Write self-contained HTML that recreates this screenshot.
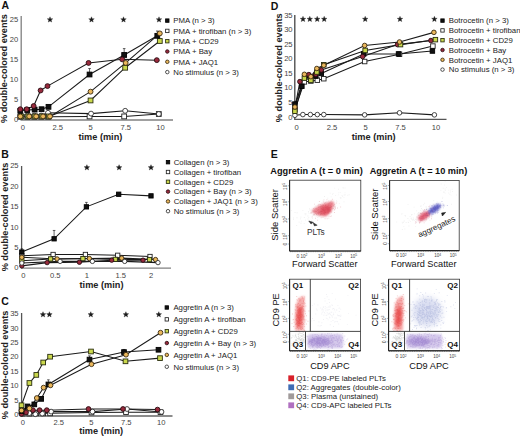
<!DOCTYPE html>
<html><head><meta charset="utf-8"><style>
html,body{margin:0;padding:0;background:#fff;overflow:hidden;}
svg{display:block;}
text{font-family:"Liberation Sans", sans-serif;}
</style></head><body>
<svg width="520" height="437" viewBox="0 0 520 437" font-family='"Liberation Sans", sans-serif'>
<defs>
<filter id="b1" x="-50%" y="-50%" width="200%" height="200%"><feGaussianBlur stdDeviation="1"/></filter>
<filter id="b2" x="-50%" y="-50%" width="200%" height="200%"><feGaussianBlur stdDeviation="2"/></filter>
<filter id="b3" x="-50%" y="-50%" width="200%" height="200%"><feGaussianBlur stdDeviation="3"/></filter>
</defs>
<rect width="520" height="437" fill="#fff"/>
<text x="1.50" y="9.30" font-size="10.5" text-anchor="start" font-weight="bold" fill="#111">A</text>
<line x1="21.20" y1="16.00" x2="21.20" y2="120.00" stroke="#808080" stroke-width="1.3"/>
<line x1="20.50" y1="120.00" x2="173.00" y2="120.00" stroke="#808080" stroke-width="1.3"/>
<text x="18.30" y="121.50" font-size="7.6" text-anchor="end" fill="#444">0</text>
<text x="18.30" y="101.55" font-size="7.6" text-anchor="end" fill="#444">5</text>
<text x="18.30" y="81.60" font-size="7.6" text-anchor="end" fill="#444">10</text>
<text x="18.30" y="61.65" font-size="7.6" text-anchor="end" fill="#444">15</text>
<text x="18.30" y="41.70" font-size="7.6" text-anchor="end" fill="#444">20</text>
<text x="18.30" y="21.75" font-size="7.6" text-anchor="end" fill="#444">25</text>
<text x="22.90" y="130.40" font-size="7.6" text-anchor="middle" fill="#444">0</text>
<text x="57.70" y="130.40" font-size="7.6" text-anchor="middle" fill="#444">2.5</text>
<text x="90.70" y="130.40" font-size="7.6" text-anchor="middle" fill="#444">5</text>
<text x="125.80" y="130.40" font-size="7.6" text-anchor="middle" fill="#444">7.5</text>
<text x="160.40" y="130.40" font-size="7.6" text-anchor="middle" fill="#444">10</text>
<text x="100.40" y="139.80" font-size="9.2" text-anchor="middle" font-weight="bold" fill="#222">time (min)</text>
<text x="7.50" y="68.60" font-size="9.2" text-anchor="middle" font-weight="bold" fill="#222" transform="rotate(-90 7.50 68.60)">% double-colored events</text>
<polyline points="20.30,116.80 27.23,116.80 34.15,116.80 41.08,116.80 48.00,116.80 89.55,116.41 124.17,116.41 158.80,114.01" fill="none" stroke="#1a1a1a" stroke-width="1.05"/>
<polyline points="20.30,115.61 27.23,115.61 34.15,115.61 41.08,115.61 48.00,112.81 91.05,113.61 125.17,110.82 158.80,114.01" fill="none" stroke="#1a1a1a" stroke-width="1.05"/>
<polyline points="21.30,116.41 28.23,116.41 35.15,116.41 42.08,116.41 49.00,116.41 90.55,100.45 125.17,67.73 159.80,40.99" fill="none" stroke="#1a1a1a" stroke-width="1.05"/>
<polyline points="20.30,110.82 27.23,110.02 34.65,109.62 41.58,109.22 48.50,106.83 89.55,74.51 124.17,54.96 157.30,35.81" fill="none" stroke="#1a1a1a" stroke-width="1.05"/>
<polyline points="20.30,109.22 26.73,109.22 33.65,106.03 40.58,90.47 47.50,86.08 88.55,62.94 122.17,59.35 156.80,60.15" fill="none" stroke="#1a1a1a" stroke-width="1.05"/>
<polyline points="20.30,116.41 29.23,116.41 36.15,116.41 43.08,116.41 50.00,116.41 90.55,91.67 125.67,62.94 159.80,33.41" fill="none" stroke="#1a1a1a" stroke-width="1.05"/>
<line x1="89.55" y1="74.51" x2="89.55" y2="68.53" stroke="#222" stroke-width="0.7"/>
<line x1="88.25" y1="68.53" x2="90.85" y2="68.53" stroke="#222" stroke-width="0.7"/>
<line x1="124.17" y1="54.96" x2="124.17" y2="48.58" stroke="#222" stroke-width="0.7"/>
<line x1="122.88" y1="48.58" x2="125.47" y2="48.58" stroke="#222" stroke-width="0.7"/>
<line x1="157.30" y1="35.81" x2="157.30" y2="31.02" stroke="#222" stroke-width="0.7"/>
<line x1="156.00" y1="31.02" x2="158.60" y2="31.02" stroke="#222" stroke-width="0.7"/>
<rect x="17.90" y="114.40" width="4.80" height="4.80" fill="#ffffff" stroke="#222" stroke-width="0.9"/>
<rect x="24.83" y="114.40" width="4.80" height="4.80" fill="#ffffff" stroke="#222" stroke-width="0.9"/>
<rect x="31.75" y="114.40" width="4.80" height="4.80" fill="#ffffff" stroke="#222" stroke-width="0.9"/>
<rect x="38.68" y="114.40" width="4.80" height="4.80" fill="#ffffff" stroke="#222" stroke-width="0.9"/>
<rect x="45.60" y="114.40" width="4.80" height="4.80" fill="#ffffff" stroke="#222" stroke-width="0.9"/>
<rect x="87.15" y="114.01" width="4.80" height="4.80" fill="#ffffff" stroke="#222" stroke-width="0.9"/>
<rect x="121.77" y="114.01" width="4.80" height="4.80" fill="#ffffff" stroke="#222" stroke-width="0.9"/>
<rect x="156.40" y="111.61" width="4.80" height="4.80" fill="#ffffff" stroke="#222" stroke-width="0.9"/>
<circle cx="20.30" cy="115.61" r="2.45" fill="#ffffff" stroke="#333" stroke-width="0.9"/>
<circle cx="27.23" cy="115.61" r="2.45" fill="#ffffff" stroke="#333" stroke-width="0.9"/>
<circle cx="34.15" cy="115.61" r="2.45" fill="#ffffff" stroke="#333" stroke-width="0.9"/>
<circle cx="41.08" cy="115.61" r="2.45" fill="#ffffff" stroke="#333" stroke-width="0.9"/>
<circle cx="48.00" cy="112.81" r="2.45" fill="#ffffff" stroke="#333" stroke-width="0.9"/>
<circle cx="91.05" cy="113.61" r="2.45" fill="#ffffff" stroke="#333" stroke-width="0.9"/>
<circle cx="125.17" cy="110.82" r="2.45" fill="#ffffff" stroke="#333" stroke-width="0.9"/>
<circle cx="158.80" cy="114.01" r="2.45" fill="#ffffff" stroke="#333" stroke-width="0.9"/>
<rect x="18.90" y="114.01" width="4.80" height="4.80" fill="#cad84c" stroke="#2a2e10" stroke-width="0.9"/>
<rect x="25.83" y="114.01" width="4.80" height="4.80" fill="#cad84c" stroke="#2a2e10" stroke-width="0.9"/>
<rect x="32.75" y="114.01" width="4.80" height="4.80" fill="#cad84c" stroke="#2a2e10" stroke-width="0.9"/>
<rect x="39.68" y="114.01" width="4.80" height="4.80" fill="#cad84c" stroke="#2a2e10" stroke-width="0.9"/>
<rect x="46.60" y="114.01" width="4.80" height="4.80" fill="#cad84c" stroke="#2a2e10" stroke-width="0.9"/>
<rect x="88.15" y="98.05" width="4.80" height="4.80" fill="#cad84c" stroke="#2a2e10" stroke-width="0.9"/>
<rect x="122.77" y="65.33" width="4.80" height="4.80" fill="#cad84c" stroke="#2a2e10" stroke-width="0.9"/>
<rect x="157.40" y="38.59" width="4.80" height="4.80" fill="#cad84c" stroke="#2a2e10" stroke-width="0.9"/>
<rect x="17.90" y="108.42" width="4.80" height="4.80" fill="#111111" stroke="#000" stroke-width="0.9"/>
<rect x="24.83" y="107.62" width="4.80" height="4.80" fill="#111111" stroke="#000" stroke-width="0.9"/>
<rect x="32.25" y="107.22" width="4.80" height="4.80" fill="#111111" stroke="#000" stroke-width="0.9"/>
<rect x="39.18" y="106.82" width="4.80" height="4.80" fill="#111111" stroke="#000" stroke-width="0.9"/>
<rect x="46.10" y="104.43" width="4.80" height="4.80" fill="#111111" stroke="#000" stroke-width="0.9"/>
<rect x="87.15" y="72.11" width="4.80" height="4.80" fill="#111111" stroke="#000" stroke-width="0.9"/>
<rect x="121.77" y="52.56" width="4.80" height="4.80" fill="#111111" stroke="#000" stroke-width="0.9"/>
<rect x="154.90" y="33.41" width="4.80" height="4.80" fill="#111111" stroke="#000" stroke-width="0.9"/>
<circle cx="20.30" cy="109.22" r="2.45" fill="#982a3c" stroke="#2a0c12" stroke-width="0.9"/>
<circle cx="26.73" cy="109.22" r="2.45" fill="#982a3c" stroke="#2a0c12" stroke-width="0.9"/>
<circle cx="33.65" cy="106.03" r="2.45" fill="#982a3c" stroke="#2a0c12" stroke-width="0.9"/>
<circle cx="40.58" cy="90.47" r="2.45" fill="#982a3c" stroke="#2a0c12" stroke-width="0.9"/>
<circle cx="47.50" cy="86.08" r="2.45" fill="#982a3c" stroke="#2a0c12" stroke-width="0.9"/>
<circle cx="88.55" cy="62.94" r="2.45" fill="#982a3c" stroke="#2a0c12" stroke-width="0.9"/>
<circle cx="122.17" cy="59.35" r="2.45" fill="#982a3c" stroke="#2a0c12" stroke-width="0.9"/>
<circle cx="156.80" cy="60.15" r="2.45" fill="#982a3c" stroke="#2a0c12" stroke-width="0.9"/>
<circle cx="20.30" cy="116.41" r="2.45" fill="#eab75c" stroke="#3a2a10" stroke-width="0.9"/>
<circle cx="29.23" cy="116.41" r="2.45" fill="#eab75c" stroke="#3a2a10" stroke-width="0.9"/>
<circle cx="36.15" cy="116.41" r="2.45" fill="#eab75c" stroke="#3a2a10" stroke-width="0.9"/>
<circle cx="43.08" cy="116.41" r="2.45" fill="#eab75c" stroke="#3a2a10" stroke-width="0.9"/>
<circle cx="50.00" cy="116.41" r="2.45" fill="#eab75c" stroke="#3a2a10" stroke-width="0.9"/>
<circle cx="90.55" cy="91.67" r="2.45" fill="#eab75c" stroke="#3a2a10" stroke-width="0.9"/>
<circle cx="125.67" cy="62.94" r="2.45" fill="#eab75c" stroke="#3a2a10" stroke-width="0.9"/>
<circle cx="159.80" cy="33.41" r="2.45" fill="#eab75c" stroke="#3a2a10" stroke-width="0.9"/>
<polygon points="50.00,16.80 50.73,18.69 52.76,18.80 51.19,20.09 51.70,22.05 50.00,20.95 48.30,22.05 48.81,20.09 47.24,18.80 49.27,18.69" fill="#1a1a1a" stroke="#1a1a1a" stroke-width="0.35" stroke-linejoin="round"/>
<polygon points="91.50,16.80 92.23,18.69 94.26,18.80 92.69,20.09 93.20,22.05 91.50,20.95 89.80,22.05 90.31,20.09 88.74,18.80 90.77,18.69" fill="#1a1a1a" stroke="#1a1a1a" stroke-width="0.35" stroke-linejoin="round"/>
<polygon points="123.50,16.80 124.23,18.69 126.26,18.80 124.69,20.09 125.20,22.05 123.50,20.95 121.80,22.05 122.31,20.09 120.74,18.80 122.77,18.69" fill="#1a1a1a" stroke="#1a1a1a" stroke-width="0.35" stroke-linejoin="round"/>
<rect x="165.60" y="18.90" width="3.40" height="3.40" fill="#111111" stroke="#000" stroke-width="0.85"/>
<text x="173.30" y="23.40" font-size="7.8" text-anchor="start" fill="#222">PMA (n &gt; 3)</text>
<rect x="165.60" y="29.20" width="3.40" height="3.40" fill="#ffffff" stroke="#222" stroke-width="0.85"/>
<text x="173.30" y="33.70" font-size="7.8" text-anchor="start" fill="#222">PMA + tirofiban (n &gt; 3)</text>
<rect x="165.60" y="39.50" width="3.40" height="3.40" fill="#cad84c" stroke="#2a2e10" stroke-width="0.85"/>
<text x="173.30" y="44.00" font-size="7.8" text-anchor="start" fill="#222">PMA + CD29</text>
<circle cx="167.30" cy="51.50" r="1.75" fill="#982a3c" stroke="#2a0c12" stroke-width="0.85"/>
<text x="173.30" y="54.30" font-size="7.8" text-anchor="start" fill="#222">PMA + Bay</text>
<circle cx="167.30" cy="61.80" r="1.75" fill="#eab75c" stroke="#3a2a10" stroke-width="0.85"/>
<text x="173.30" y="64.60" font-size="7.8" text-anchor="start" fill="#222">PMA + JAQ1</text>
<circle cx="167.30" cy="72.10" r="1.75" fill="#ffffff" stroke="#333" stroke-width="0.85"/>
<text x="173.30" y="74.90" font-size="7.8" text-anchor="start" fill="#222">No stimulus (n &gt; 3)</text>
<polygon points="159.00,16.80 159.73,18.69 161.76,18.80 160.19,20.09 160.70,22.05 159.00,20.95 157.30,22.05 157.81,20.09 156.24,18.80 158.27,18.69" fill="#1a1a1a" stroke="#1a1a1a" stroke-width="0.35" stroke-linejoin="round"/>
<text x="1.20" y="157.60" font-size="10.5" text-anchor="start" font-weight="bold" fill="#111">B</text>
<line x1="21.60" y1="166.00" x2="21.60" y2="268.20" stroke="#555" stroke-width="1.3"/>
<line x1="20.90" y1="268.20" x2="171.00" y2="268.20" stroke="#808080" stroke-width="1.3"/>
<text x="18.60" y="270.20" font-size="7.6" text-anchor="end" fill="#444">0</text>
<text x="18.60" y="249.85" font-size="7.6" text-anchor="end" fill="#444">5</text>
<text x="18.60" y="229.50" font-size="7.6" text-anchor="end" fill="#444">10</text>
<text x="18.60" y="209.15" font-size="7.6" text-anchor="end" fill="#444">15</text>
<text x="18.60" y="188.80" font-size="7.6" text-anchor="end" fill="#444">20</text>
<text x="18.60" y="168.45" font-size="7.6" text-anchor="end" fill="#444">25</text>
<text x="23.30" y="277.90" font-size="7.6" text-anchor="middle" fill="#444">0</text>
<text x="55.20" y="277.90" font-size="7.6" text-anchor="middle" fill="#444">0.5</text>
<text x="86.90" y="277.90" font-size="7.6" text-anchor="middle" fill="#444">1</text>
<text x="120.80" y="277.90" font-size="7.6" text-anchor="middle" fill="#444">1.5</text>
<text x="151.20" y="277.90" font-size="7.6" text-anchor="middle" fill="#444">2</text>
<text x="101.50" y="287.60" font-size="9.2" text-anchor="middle" font-weight="bold" fill="#222">time (min)</text>
<text x="7.60" y="217.00" font-size="9.2" text-anchor="middle" font-weight="bold" fill="#222" transform="rotate(-90 7.60 217.00)">% double-colored events</text>
<polyline points="21.80,255.70 53.10,254.48 85.40,254.48 117.70,255.29 150.00,256.51" fill="none" stroke="#1a1a1a" stroke-width="1.05"/>
<polyline points="21.80,260.78 50.60,258.95 82.90,258.55 115.20,259.36 149.50,259.56" fill="none" stroke="#1a1a1a" stroke-width="1.05"/>
<polyline points="21.80,265.87 47.10,262.62 79.40,262.21 111.70,260.17 143.00,260.17" fill="none" stroke="#1a1a1a" stroke-width="1.05"/>
<polyline points="21.80,257.32 57.10,258.95 89.40,258.55 121.70,258.14 155.50,259.56" fill="none" stroke="#1a1a1a" stroke-width="1.05"/>
<polyline points="21.80,263.02 60.10,261.39 92.40,261.39 124.70,261.39 158.00,262.62" fill="none" stroke="#1a1a1a" stroke-width="1.05"/>
<polyline points="21.80,252.03 54.10,238.81 86.40,206.86 118.70,194.24 151.00,195.87" fill="none" stroke="#1a1a1a" stroke-width="1.05"/>
<line x1="21.80" y1="252.03" x2="21.80" y2="248.78" stroke="#222" stroke-width="0.7"/>
<line x1="20.50" y1="248.78" x2="23.10" y2="248.78" stroke="#222" stroke-width="0.7"/>
<line x1="54.10" y1="238.81" x2="54.10" y2="230.46" stroke="#222" stroke-width="0.7"/>
<line x1="52.80" y1="230.46" x2="55.40" y2="230.46" stroke="#222" stroke-width="0.7"/>
<line x1="86.40" y1="206.86" x2="86.40" y2="202.38" stroke="#222" stroke-width="0.7"/>
<line x1="85.10" y1="202.38" x2="87.70" y2="202.38" stroke="#222" stroke-width="0.7"/>
<rect x="19.65" y="253.55" width="4.30" height="4.30" fill="#ffffff" stroke="#222" stroke-width="0.9"/>
<rect x="50.95" y="252.33" width="4.30" height="4.30" fill="#ffffff" stroke="#222" stroke-width="0.9"/>
<rect x="83.25" y="252.33" width="4.30" height="4.30" fill="#ffffff" stroke="#222" stroke-width="0.9"/>
<rect x="115.55" y="253.14" width="4.30" height="4.30" fill="#ffffff" stroke="#222" stroke-width="0.9"/>
<rect x="147.85" y="254.36" width="4.30" height="4.30" fill="#ffffff" stroke="#222" stroke-width="0.9"/>
<rect x="19.65" y="258.63" width="4.30" height="4.30" fill="#cad84c" stroke="#2a2e10" stroke-width="0.9"/>
<rect x="48.45" y="256.80" width="4.30" height="4.30" fill="#cad84c" stroke="#2a2e10" stroke-width="0.9"/>
<rect x="80.75" y="256.40" width="4.30" height="4.30" fill="#cad84c" stroke="#2a2e10" stroke-width="0.9"/>
<rect x="113.05" y="257.21" width="4.30" height="4.30" fill="#cad84c" stroke="#2a2e10" stroke-width="0.9"/>
<rect x="147.35" y="257.41" width="4.30" height="4.30" fill="#cad84c" stroke="#2a2e10" stroke-width="0.9"/>
<circle cx="21.80" cy="265.87" r="2.20" fill="#982a3c" stroke="#2a0c12" stroke-width="0.9"/>
<circle cx="47.10" cy="262.62" r="2.20" fill="#982a3c" stroke="#2a0c12" stroke-width="0.9"/>
<circle cx="79.40" cy="262.21" r="2.20" fill="#982a3c" stroke="#2a0c12" stroke-width="0.9"/>
<circle cx="111.70" cy="260.17" r="2.20" fill="#982a3c" stroke="#2a0c12" stroke-width="0.9"/>
<circle cx="143.00" cy="260.17" r="2.20" fill="#982a3c" stroke="#2a0c12" stroke-width="0.9"/>
<circle cx="21.80" cy="257.32" r="2.20" fill="#eab75c" stroke="#3a2a10" stroke-width="0.9"/>
<circle cx="57.10" cy="258.95" r="2.20" fill="#eab75c" stroke="#3a2a10" stroke-width="0.9"/>
<circle cx="89.40" cy="258.55" r="2.20" fill="#eab75c" stroke="#3a2a10" stroke-width="0.9"/>
<circle cx="121.70" cy="258.14" r="2.20" fill="#eab75c" stroke="#3a2a10" stroke-width="0.9"/>
<circle cx="155.50" cy="259.56" r="2.20" fill="#eab75c" stroke="#3a2a10" stroke-width="0.9"/>
<circle cx="21.80" cy="263.02" r="2.20" fill="#ffffff" stroke="#333" stroke-width="0.9"/>
<circle cx="60.10" cy="261.39" r="2.20" fill="#ffffff" stroke="#333" stroke-width="0.9"/>
<circle cx="92.40" cy="261.39" r="2.20" fill="#ffffff" stroke="#333" stroke-width="0.9"/>
<circle cx="124.70" cy="261.39" r="2.20" fill="#ffffff" stroke="#333" stroke-width="0.9"/>
<circle cx="158.00" cy="262.62" r="2.20" fill="#ffffff" stroke="#333" stroke-width="0.9"/>
<rect x="19.65" y="249.88" width="4.30" height="4.30" fill="#111111" stroke="#000" stroke-width="0.9"/>
<rect x="51.95" y="236.66" width="4.30" height="4.30" fill="#111111" stroke="#000" stroke-width="0.9"/>
<rect x="84.25" y="204.71" width="4.30" height="4.30" fill="#111111" stroke="#000" stroke-width="0.9"/>
<rect x="116.55" y="192.09" width="4.30" height="4.30" fill="#111111" stroke="#000" stroke-width="0.9"/>
<rect x="148.85" y="193.72" width="4.30" height="4.30" fill="#111111" stroke="#000" stroke-width="0.9"/>
<polygon points="86.90,164.70 87.63,166.59 89.66,166.70 88.09,167.99 88.60,169.95 86.90,168.85 85.20,169.95 85.71,167.99 84.14,166.70 86.17,166.59" fill="#1a1a1a" stroke="#1a1a1a" stroke-width="0.35" stroke-linejoin="round"/>
<polygon points="119.10,164.70 119.83,166.59 121.86,166.70 120.29,167.99 120.80,169.95 119.10,168.85 117.40,169.95 117.91,167.99 116.34,166.70 118.37,166.59" fill="#1a1a1a" stroke="#1a1a1a" stroke-width="0.35" stroke-linejoin="round"/>
<polygon points="151.00,164.70 151.73,166.59 153.76,166.70 152.19,167.99 152.70,169.95 151.00,168.85 149.30,169.95 149.81,167.99 148.24,166.70 150.27,166.59" fill="#1a1a1a" stroke="#1a1a1a" stroke-width="0.35" stroke-linejoin="round"/>
<rect x="166.30" y="160.50" width="3.40" height="3.40" fill="#111111" stroke="#000" stroke-width="0.85"/>
<text x="173.70" y="165.00" font-size="7.8" text-anchor="start" fill="#222">Collagen (n &gt; 3)</text>
<rect x="166.30" y="170.30" width="3.40" height="3.40" fill="#ffffff" stroke="#222" stroke-width="0.85"/>
<text x="173.70" y="174.80" font-size="7.8" text-anchor="start" fill="#222">Collagen + tirofiban</text>
<rect x="166.30" y="180.10" width="3.40" height="3.40" fill="#cad84c" stroke="#2a2e10" stroke-width="0.85"/>
<text x="173.70" y="184.60" font-size="7.8" text-anchor="start" fill="#222">Collagen + CD29</text>
<circle cx="168.00" cy="191.60" r="1.75" fill="#982a3c" stroke="#2a0c12" stroke-width="0.85"/>
<text x="173.70" y="194.40" font-size="7.8" text-anchor="start" fill="#222">Collagen + Bay (n &gt; 3)</text>
<circle cx="168.00" cy="201.40" r="1.75" fill="#eab75c" stroke="#3a2a10" stroke-width="0.85"/>
<text x="173.70" y="204.20" font-size="7.8" text-anchor="start" fill="#222">Collagen + JAQ1 (n &gt; 3)</text>
<circle cx="168.00" cy="211.20" r="1.75" fill="#ffffff" stroke="#333" stroke-width="0.85"/>
<text x="173.70" y="214.00" font-size="7.8" text-anchor="start" fill="#222">No stimulus (n &gt; 3)</text>
<text x="1.20" y="305.00" font-size="10.5" text-anchor="start" font-weight="bold" fill="#111">C</text>
<line x1="21.60" y1="313.00" x2="21.60" y2="416.00" stroke="#555" stroke-width="1.3"/>
<line x1="20.90" y1="416.00" x2="172.50" y2="416.00" stroke="#666" stroke-width="1.3"/>
<text x="18.60" y="417.20" font-size="7.6" text-anchor="end" fill="#444">0</text>
<text x="18.60" y="402.75" font-size="7.6" text-anchor="end" fill="#444">5</text>
<text x="18.60" y="388.30" font-size="7.6" text-anchor="end" fill="#444">10</text>
<text x="18.60" y="373.85" font-size="7.6" text-anchor="end" fill="#444">15</text>
<text x="18.60" y="359.40" font-size="7.6" text-anchor="end" fill="#444">20</text>
<text x="18.60" y="344.95" font-size="7.6" text-anchor="end" fill="#444">25</text>
<text x="18.60" y="330.50" font-size="7.6" text-anchor="end" fill="#444">30</text>
<text x="18.60" y="316.05" font-size="7.6" text-anchor="end" fill="#444">35</text>
<text x="22.90" y="425.40" font-size="7.6" text-anchor="middle" fill="#444">0</text>
<text x="58.70" y="425.40" font-size="7.6" text-anchor="middle" fill="#444">2.5</text>
<text x="91.30" y="425.40" font-size="7.6" text-anchor="middle" fill="#444">5</text>
<text x="126.20" y="425.40" font-size="7.6" text-anchor="middle" fill="#444">7.5</text>
<text x="161.20" y="425.40" font-size="7.6" text-anchor="middle" fill="#444">10</text>
<text x="101.20" y="434.00" font-size="9.2" text-anchor="middle" font-weight="bold" fill="#222">time (min)</text>
<text x="8.00" y="364.90" font-size="9.2" text-anchor="middle" font-weight="bold" fill="#222" transform="rotate(-90 8.00 364.90)">% double-colored events</text>
<polyline points="22.50,413.63 29.40,413.63 36.30,413.34 43.20,413.34 50.10,413.34 91.50,412.48 126.00,412.19 160.50,412.19" fill="none" stroke="#1a1a1a" stroke-width="1.05"/>
<polyline points="21.50,413.06 29.40,413.06 35.30,414.21 42.20,413.63 51.10,411.61 92.50,411.61 127.00,409.01 161.50,411.90" fill="none" stroke="#1a1a1a" stroke-width="1.05"/>
<polyline points="21.50,413.92 26.00,412.48 32.90,410.17 39.60,410.17 46.80,410.17 88.50,409.01 123.00,409.01 157.50,409.59" fill="none" stroke="#1a1a1a" stroke-width="1.05"/>
<polyline points="21.50,411.03 27.60,406.41 34.30,404.38 41.20,398.89 48.40,384.44 89.50,359.59 124.00,352.08 158.50,349.76" fill="none" stroke="#1a1a1a" stroke-width="1.05"/>
<polyline points="21.50,410.45 29.40,408.43 36.80,398.03 43.60,387.62 50.50,385.31 91.50,364.21 126.00,354.68 160.50,332.71" fill="none" stroke="#1a1a1a" stroke-width="1.05"/>
<polyline points="21.50,405.25 29.40,383.00 36.30,374.91 43.20,362.48 50.10,356.70 91.00,351.50 125.50,361.32 160.00,358.14" fill="none" stroke="#1a1a1a" stroke-width="1.05"/>
<line x1="48.40" y1="384.44" x2="48.40" y2="379.82" stroke="#222" stroke-width="0.7"/>
<line x1="47.10" y1="379.82" x2="49.70" y2="379.82" stroke="#222" stroke-width="0.7"/>
<line x1="89.50" y1="359.59" x2="89.50" y2="355.83" stroke="#222" stroke-width="0.7"/>
<line x1="88.20" y1="355.83" x2="90.80" y2="355.83" stroke="#222" stroke-width="0.7"/>
<line x1="124.00" y1="352.08" x2="124.00" y2="349.48" stroke="#222" stroke-width="0.7"/>
<line x1="122.70" y1="349.48" x2="125.30" y2="349.48" stroke="#222" stroke-width="0.7"/>
<rect x="20.15" y="411.28" width="4.70" height="4.70" fill="#ffffff" stroke="#222" stroke-width="0.9"/>
<rect x="27.05" y="411.28" width="4.70" height="4.70" fill="#ffffff" stroke="#222" stroke-width="0.9"/>
<rect x="33.95" y="410.99" width="4.70" height="4.70" fill="#ffffff" stroke="#222" stroke-width="0.9"/>
<rect x="40.85" y="410.99" width="4.70" height="4.70" fill="#ffffff" stroke="#222" stroke-width="0.9"/>
<rect x="47.75" y="410.99" width="4.70" height="4.70" fill="#ffffff" stroke="#222" stroke-width="0.9"/>
<rect x="89.15" y="410.13" width="4.70" height="4.70" fill="#ffffff" stroke="#222" stroke-width="0.9"/>
<rect x="123.65" y="409.84" width="4.70" height="4.70" fill="#ffffff" stroke="#222" stroke-width="0.9"/>
<rect x="158.15" y="409.84" width="4.70" height="4.70" fill="#ffffff" stroke="#222" stroke-width="0.9"/>
<circle cx="21.50" cy="413.06" r="2.40" fill="#ffffff" stroke="#333" stroke-width="0.9"/>
<circle cx="29.40" cy="413.06" r="2.40" fill="#ffffff" stroke="#333" stroke-width="0.9"/>
<circle cx="35.30" cy="414.21" r="2.40" fill="#ffffff" stroke="#333" stroke-width="0.9"/>
<circle cx="42.20" cy="413.63" r="2.40" fill="#ffffff" stroke="#333" stroke-width="0.9"/>
<circle cx="51.10" cy="411.61" r="2.40" fill="#ffffff" stroke="#333" stroke-width="0.9"/>
<circle cx="92.50" cy="411.61" r="2.40" fill="#ffffff" stroke="#333" stroke-width="0.9"/>
<circle cx="127.00" cy="409.01" r="2.40" fill="#ffffff" stroke="#333" stroke-width="0.9"/>
<circle cx="161.50" cy="411.90" r="2.40" fill="#ffffff" stroke="#333" stroke-width="0.9"/>
<circle cx="21.50" cy="413.92" r="2.40" fill="#982a3c" stroke="#2a0c12" stroke-width="0.9"/>
<circle cx="26.00" cy="412.48" r="2.40" fill="#982a3c" stroke="#2a0c12" stroke-width="0.9"/>
<circle cx="32.90" cy="410.17" r="2.40" fill="#982a3c" stroke="#2a0c12" stroke-width="0.9"/>
<circle cx="39.60" cy="410.17" r="2.40" fill="#982a3c" stroke="#2a0c12" stroke-width="0.9"/>
<circle cx="46.80" cy="410.17" r="2.40" fill="#982a3c" stroke="#2a0c12" stroke-width="0.9"/>
<circle cx="88.50" cy="409.01" r="2.40" fill="#982a3c" stroke="#2a0c12" stroke-width="0.9"/>
<circle cx="123.00" cy="409.01" r="2.40" fill="#982a3c" stroke="#2a0c12" stroke-width="0.9"/>
<circle cx="157.50" cy="409.59" r="2.40" fill="#982a3c" stroke="#2a0c12" stroke-width="0.9"/>
<rect x="19.15" y="408.68" width="4.70" height="4.70" fill="#111111" stroke="#000" stroke-width="0.9"/>
<rect x="25.25" y="404.06" width="4.70" height="4.70" fill="#111111" stroke="#000" stroke-width="0.9"/>
<rect x="31.95" y="402.03" width="4.70" height="4.70" fill="#111111" stroke="#000" stroke-width="0.9"/>
<rect x="38.85" y="396.54" width="4.70" height="4.70" fill="#111111" stroke="#000" stroke-width="0.9"/>
<rect x="46.05" y="382.09" width="4.70" height="4.70" fill="#111111" stroke="#000" stroke-width="0.9"/>
<rect x="87.15" y="357.24" width="4.70" height="4.70" fill="#111111" stroke="#000" stroke-width="0.9"/>
<rect x="121.65" y="349.73" width="4.70" height="4.70" fill="#111111" stroke="#000" stroke-width="0.9"/>
<rect x="156.15" y="347.41" width="4.70" height="4.70" fill="#111111" stroke="#000" stroke-width="0.9"/>
<circle cx="21.50" cy="410.45" r="2.40" fill="#eab75c" stroke="#3a2a10" stroke-width="0.9"/>
<circle cx="29.40" cy="408.43" r="2.40" fill="#eab75c" stroke="#3a2a10" stroke-width="0.9"/>
<circle cx="36.80" cy="398.03" r="2.40" fill="#eab75c" stroke="#3a2a10" stroke-width="0.9"/>
<circle cx="43.60" cy="387.62" r="2.40" fill="#eab75c" stroke="#3a2a10" stroke-width="0.9"/>
<circle cx="50.50" cy="385.31" r="2.40" fill="#eab75c" stroke="#3a2a10" stroke-width="0.9"/>
<circle cx="91.50" cy="364.21" r="2.40" fill="#eab75c" stroke="#3a2a10" stroke-width="0.9"/>
<circle cx="126.00" cy="354.68" r="2.40" fill="#eab75c" stroke="#3a2a10" stroke-width="0.9"/>
<circle cx="160.50" cy="332.71" r="2.40" fill="#eab75c" stroke="#3a2a10" stroke-width="0.9"/>
<rect x="19.15" y="402.90" width="4.70" height="4.70" fill="#cad84c" stroke="#2a2e10" stroke-width="0.9"/>
<rect x="27.05" y="380.65" width="4.70" height="4.70" fill="#cad84c" stroke="#2a2e10" stroke-width="0.9"/>
<rect x="33.95" y="372.56" width="4.70" height="4.70" fill="#cad84c" stroke="#2a2e10" stroke-width="0.9"/>
<rect x="40.85" y="360.13" width="4.70" height="4.70" fill="#cad84c" stroke="#2a2e10" stroke-width="0.9"/>
<rect x="47.75" y="354.35" width="4.70" height="4.70" fill="#cad84c" stroke="#2a2e10" stroke-width="0.9"/>
<rect x="88.65" y="349.15" width="4.70" height="4.70" fill="#cad84c" stroke="#2a2e10" stroke-width="0.9"/>
<rect x="123.15" y="358.97" width="4.70" height="4.70" fill="#cad84c" stroke="#2a2e10" stroke-width="0.9"/>
<rect x="157.65" y="355.79" width="4.70" height="4.70" fill="#cad84c" stroke="#2a2e10" stroke-width="0.9"/>
<polygon points="43.00,311.70 43.73,313.59 45.76,313.70 44.19,314.99 44.70,316.95 43.00,315.85 41.30,316.95 41.81,314.99 40.24,313.70 42.27,313.59" fill="#1a1a1a" stroke="#1a1a1a" stroke-width="0.35" stroke-linejoin="round"/>
<polygon points="49.40,311.70 50.13,313.59 52.16,313.70 50.59,314.99 51.10,316.95 49.40,315.85 47.70,316.95 48.21,314.99 46.64,313.70 48.67,313.59" fill="#1a1a1a" stroke="#1a1a1a" stroke-width="0.35" stroke-linejoin="round"/>
<polygon points="90.80,311.70 91.53,313.59 93.56,313.70 91.99,314.99 92.50,316.95 90.80,315.85 89.10,316.95 89.61,314.99 88.04,313.70 90.07,313.59" fill="#1a1a1a" stroke="#1a1a1a" stroke-width="0.35" stroke-linejoin="round"/>
<polygon points="125.90,311.70 126.63,313.59 128.66,313.70 127.09,314.99 127.60,316.95 125.90,315.85 124.20,316.95 124.71,314.99 123.14,313.70 125.17,313.59" fill="#1a1a1a" stroke="#1a1a1a" stroke-width="0.35" stroke-linejoin="round"/>
<rect x="165.10" y="305.80" width="3.40" height="3.40" fill="#111111" stroke="#000" stroke-width="0.85"/>
<text x="173.40" y="310.30" font-size="7.8" text-anchor="start" fill="#222">Aggretin A (n &gt; 3)</text>
<rect x="165.10" y="317.65" width="3.40" height="3.40" fill="#ffffff" stroke="#222" stroke-width="0.85"/>
<text x="173.40" y="322.15" font-size="7.8" text-anchor="start" fill="#222">Aggretin A + tirofiban</text>
<rect x="165.10" y="329.50" width="3.40" height="3.40" fill="#cad84c" stroke="#2a2e10" stroke-width="0.85"/>
<text x="173.40" y="334.00" font-size="7.8" text-anchor="start" fill="#222">Aggretin A + CD29</text>
<circle cx="166.80" cy="343.05" r="1.75" fill="#982a3c" stroke="#2a0c12" stroke-width="0.85"/>
<text x="173.40" y="345.85" font-size="7.8" text-anchor="start" fill="#222">Aggretin A + Bay (n &gt; 3)</text>
<circle cx="166.80" cy="354.90" r="1.75" fill="#eab75c" stroke="#3a2a10" stroke-width="0.85"/>
<text x="173.40" y="357.70" font-size="7.8" text-anchor="start" fill="#222">Aggretin A + JAQ1</text>
<circle cx="166.80" cy="366.75" r="1.75" fill="#ffffff" stroke="#333" stroke-width="0.85"/>
<text x="173.40" y="369.55" font-size="7.8" text-anchor="start" fill="#222">No stimulus (n &gt; 3)</text>
<polygon points="158.80,311.70 159.53,313.59 161.56,313.70 159.99,314.99 160.50,316.95 158.80,315.85 157.10,316.95 157.61,314.99 156.04,313.70 158.07,313.59" fill="#1a1a1a" stroke="#1a1a1a" stroke-width="0.35" stroke-linejoin="round"/>
<text x="270.80" y="10.00" font-size="10.5" text-anchor="start" font-weight="bold" fill="#111">D</text>
<line x1="294.80" y1="15.00" x2="294.80" y2="119.30" stroke="#444" stroke-width="1.3"/>
<line x1="294.10" y1="119.30" x2="446.50" y2="119.30" stroke="#555" stroke-width="1.3"/>
<text x="292.60" y="119.60" font-size="7.6" text-anchor="end" fill="#444">0</text>
<text x="292.60" y="105.03" font-size="7.6" text-anchor="end" fill="#444">5</text>
<text x="292.60" y="90.45" font-size="7.6" text-anchor="end" fill="#444">10</text>
<text x="292.60" y="75.88" font-size="7.6" text-anchor="end" fill="#444">15</text>
<text x="292.60" y="61.30" font-size="7.6" text-anchor="end" fill="#444">20</text>
<text x="292.60" y="46.73" font-size="7.6" text-anchor="end" fill="#444">25</text>
<text x="292.60" y="32.15" font-size="7.6" text-anchor="end" fill="#444">30</text>
<text x="292.60" y="17.57" font-size="7.6" text-anchor="end" fill="#444">35</text>
<text x="296.70" y="129.50" font-size="7.6" text-anchor="middle" fill="#444">0</text>
<text x="332.00" y="129.50" font-size="7.6" text-anchor="middle" fill="#444">2.5</text>
<text x="365.50" y="129.50" font-size="7.6" text-anchor="middle" fill="#444">5</text>
<text x="400.50" y="129.50" font-size="7.6" text-anchor="middle" fill="#444">7.5</text>
<text x="436.00" y="129.50" font-size="7.6" text-anchor="middle" fill="#444">10</text>
<text x="373.70" y="139.60" font-size="9.2" text-anchor="middle" font-weight="bold" fill="#222">time (min)</text>
<text x="282.20" y="67.80" font-size="9.2" text-anchor="middle" font-weight="bold" fill="#222" transform="rotate(-90 282.20 67.80)">% double-colored events</text>
<polyline points="294.90,115.30 302.88,114.57 310.35,114.57 317.32,114.57 323.80,114.57 364.65,114.86 399.52,112.82 434.40,114.86" fill="none" stroke="#1a1a1a" stroke-width="1.05"/>
<polyline points="294.90,109.61 304.38,81.92 310.85,81.05 317.32,80.17 323.80,78.71 364.65,61.52 399.52,54.23 432.90,46.07" fill="none" stroke="#1a1a1a" stroke-width="1.05"/>
<polyline points="294.90,104.07 301.88,86.29 308.35,75.80 315.82,76.09 321.30,73.47 363.65,53.94 398.52,53.94 432.40,51.02" fill="none" stroke="#1a1a1a" stroke-width="1.05"/>
<polyline points="294.90,108.16 299.88,81.63 308.85,74.63 315.82,74.34 321.30,69.97 362.65,56.56 397.52,44.61 430.90,40.53" fill="none" stroke="#1a1a1a" stroke-width="1.05"/>
<polyline points="294.90,111.22 304.38,78.13 310.85,80.17 316.82,72.01 323.80,64.72 365.15,50.44 400.52,44.61 435.40,39.65" fill="none" stroke="#1a1a1a" stroke-width="1.05"/>
<polyline points="294.90,106.99 304.38,74.34 310.85,76.67 316.82,68.51 323.80,65.30 364.65,45.48 399.52,41.98 433.90,32.37" fill="none" stroke="#1a1a1a" stroke-width="1.05"/>
<circle cx="294.90" cy="115.30" r="2.30" fill="#ffffff" stroke="#333" stroke-width="0.9"/>
<circle cx="302.88" cy="114.57" r="2.30" fill="#ffffff" stroke="#333" stroke-width="0.9"/>
<circle cx="310.35" cy="114.57" r="2.30" fill="#ffffff" stroke="#333" stroke-width="0.9"/>
<circle cx="317.32" cy="114.57" r="2.30" fill="#ffffff" stroke="#333" stroke-width="0.9"/>
<circle cx="323.80" cy="114.57" r="2.30" fill="#ffffff" stroke="#333" stroke-width="0.9"/>
<circle cx="364.65" cy="114.86" r="2.30" fill="#ffffff" stroke="#333" stroke-width="0.9"/>
<circle cx="399.52" cy="112.82" r="2.30" fill="#ffffff" stroke="#333" stroke-width="0.9"/>
<circle cx="434.40" cy="114.86" r="2.30" fill="#ffffff" stroke="#333" stroke-width="0.9"/>
<rect x="292.65" y="107.36" width="4.50" height="4.50" fill="#ffffff" stroke="#222" stroke-width="0.9"/>
<rect x="302.12" y="79.67" width="4.50" height="4.50" fill="#ffffff" stroke="#222" stroke-width="0.9"/>
<rect x="308.60" y="78.80" width="4.50" height="4.50" fill="#ffffff" stroke="#222" stroke-width="0.9"/>
<rect x="315.07" y="77.92" width="4.50" height="4.50" fill="#ffffff" stroke="#222" stroke-width="0.9"/>
<rect x="321.55" y="76.46" width="4.50" height="4.50" fill="#ffffff" stroke="#222" stroke-width="0.9"/>
<rect x="362.40" y="59.27" width="4.50" height="4.50" fill="#ffffff" stroke="#222" stroke-width="0.9"/>
<rect x="397.27" y="51.98" width="4.50" height="4.50" fill="#ffffff" stroke="#222" stroke-width="0.9"/>
<rect x="430.65" y="43.82" width="4.50" height="4.50" fill="#ffffff" stroke="#222" stroke-width="0.9"/>
<rect x="292.65" y="101.82" width="4.50" height="4.50" fill="#111111" stroke="#000" stroke-width="0.9"/>
<rect x="299.62" y="84.04" width="4.50" height="4.50" fill="#111111" stroke="#000" stroke-width="0.9"/>
<rect x="306.10" y="73.55" width="4.50" height="4.50" fill="#111111" stroke="#000" stroke-width="0.9"/>
<rect x="313.57" y="73.84" width="4.50" height="4.50" fill="#111111" stroke="#000" stroke-width="0.9"/>
<rect x="319.05" y="71.22" width="4.50" height="4.50" fill="#111111" stroke="#000" stroke-width="0.9"/>
<rect x="361.40" y="51.69" width="4.50" height="4.50" fill="#111111" stroke="#000" stroke-width="0.9"/>
<rect x="396.27" y="51.69" width="4.50" height="4.50" fill="#111111" stroke="#000" stroke-width="0.9"/>
<rect x="430.15" y="48.77" width="4.50" height="4.50" fill="#111111" stroke="#000" stroke-width="0.9"/>
<circle cx="294.90" cy="108.16" r="2.30" fill="#982a3c" stroke="#2a0c12" stroke-width="0.9"/>
<circle cx="299.88" cy="81.63" r="2.30" fill="#982a3c" stroke="#2a0c12" stroke-width="0.9"/>
<circle cx="308.85" cy="74.63" r="2.30" fill="#982a3c" stroke="#2a0c12" stroke-width="0.9"/>
<circle cx="315.82" cy="74.34" r="2.30" fill="#982a3c" stroke="#2a0c12" stroke-width="0.9"/>
<circle cx="321.30" cy="69.97" r="2.30" fill="#982a3c" stroke="#2a0c12" stroke-width="0.9"/>
<circle cx="362.65" cy="56.56" r="2.30" fill="#982a3c" stroke="#2a0c12" stroke-width="0.9"/>
<circle cx="397.52" cy="44.61" r="2.30" fill="#982a3c" stroke="#2a0c12" stroke-width="0.9"/>
<circle cx="430.90" cy="40.53" r="2.30" fill="#982a3c" stroke="#2a0c12" stroke-width="0.9"/>
<rect x="292.65" y="108.97" width="4.50" height="4.50" fill="#cad84c" stroke="#2a2e10" stroke-width="0.9"/>
<rect x="302.12" y="75.88" width="4.50" height="4.50" fill="#cad84c" stroke="#2a2e10" stroke-width="0.9"/>
<rect x="308.60" y="77.92" width="4.50" height="4.50" fill="#cad84c" stroke="#2a2e10" stroke-width="0.9"/>
<rect x="314.57" y="69.76" width="4.50" height="4.50" fill="#cad84c" stroke="#2a2e10" stroke-width="0.9"/>
<rect x="321.55" y="62.47" width="4.50" height="4.50" fill="#cad84c" stroke="#2a2e10" stroke-width="0.9"/>
<rect x="362.90" y="48.19" width="4.50" height="4.50" fill="#cad84c" stroke="#2a2e10" stroke-width="0.9"/>
<rect x="398.27" y="42.36" width="4.50" height="4.50" fill="#cad84c" stroke="#2a2e10" stroke-width="0.9"/>
<rect x="433.15" y="37.40" width="4.50" height="4.50" fill="#cad84c" stroke="#2a2e10" stroke-width="0.9"/>
<circle cx="294.90" cy="106.99" r="2.30" fill="#eab75c" stroke="#3a2a10" stroke-width="0.9"/>
<circle cx="304.38" cy="74.34" r="2.30" fill="#eab75c" stroke="#3a2a10" stroke-width="0.9"/>
<circle cx="310.85" cy="76.67" r="2.30" fill="#eab75c" stroke="#3a2a10" stroke-width="0.9"/>
<circle cx="316.82" cy="68.51" r="2.30" fill="#eab75c" stroke="#3a2a10" stroke-width="0.9"/>
<circle cx="323.80" cy="65.30" r="2.30" fill="#eab75c" stroke="#3a2a10" stroke-width="0.9"/>
<circle cx="364.65" cy="45.48" r="2.30" fill="#eab75c" stroke="#3a2a10" stroke-width="0.9"/>
<circle cx="399.52" cy="41.98" r="2.30" fill="#eab75c" stroke="#3a2a10" stroke-width="0.9"/>
<circle cx="433.90" cy="32.37" r="2.30" fill="#eab75c" stroke="#3a2a10" stroke-width="0.9"/>
<polygon points="303.00,16.30 303.73,18.19 305.76,18.30 304.19,19.59 304.70,21.55 303.00,20.45 301.30,21.55 301.81,19.59 300.24,18.30 302.27,18.19" fill="#1a1a1a" stroke="#1a1a1a" stroke-width="0.35" stroke-linejoin="round"/>
<polygon points="309.80,16.30 310.53,18.19 312.56,18.30 310.99,19.59 311.50,21.55 309.80,20.45 308.10,21.55 308.61,19.59 307.04,18.30 309.07,18.19" fill="#1a1a1a" stroke="#1a1a1a" stroke-width="0.35" stroke-linejoin="round"/>
<polygon points="317.20,16.30 317.93,18.19 319.96,18.30 318.39,19.59 318.90,21.55 317.20,20.45 315.50,21.55 316.01,19.59 314.44,18.30 316.47,18.19" fill="#1a1a1a" stroke="#1a1a1a" stroke-width="0.35" stroke-linejoin="round"/>
<polygon points="324.20,16.30 324.93,18.19 326.96,18.30 325.39,19.59 325.90,21.55 324.20,20.45 322.50,21.55 323.01,19.59 321.44,18.30 323.47,18.19" fill="#1a1a1a" stroke="#1a1a1a" stroke-width="0.35" stroke-linejoin="round"/>
<polygon points="365.20,16.30 365.93,18.19 367.96,18.30 366.39,19.59 366.90,21.55 365.20,20.45 363.50,21.55 364.01,19.59 362.44,18.30 364.47,18.19" fill="#1a1a1a" stroke="#1a1a1a" stroke-width="0.35" stroke-linejoin="round"/>
<polygon points="400.00,16.30 400.73,18.19 402.76,18.30 401.19,19.59 401.70,21.55 400.00,20.45 398.30,21.55 398.81,19.59 397.24,18.30 399.27,18.19" fill="#1a1a1a" stroke="#1a1a1a" stroke-width="0.35" stroke-linejoin="round"/>
<rect x="440.80" y="18.90" width="3.40" height="3.40" fill="#111111" stroke="#000" stroke-width="0.85"/>
<text x="448.80" y="23.40" font-size="7.8" text-anchor="start" fill="#222">Botrocetin (n &gt; 3)</text>
<rect x="440.80" y="28.70" width="3.40" height="3.40" fill="#ffffff" stroke="#222" stroke-width="0.85"/>
<text x="448.80" y="33.20" font-size="7.8" text-anchor="start" fill="#222">Botrocetin + tirofiban</text>
<rect x="440.80" y="38.50" width="3.40" height="3.40" fill="#cad84c" stroke="#2a2e10" stroke-width="0.85"/>
<text x="448.80" y="43.00" font-size="7.8" text-anchor="start" fill="#222">Botrocetin + CD29</text>
<circle cx="442.50" cy="50.00" r="1.75" fill="#982a3c" stroke="#2a0c12" stroke-width="0.85"/>
<text x="448.80" y="52.80" font-size="7.8" text-anchor="start" fill="#222">Botrocetin + Bay</text>
<circle cx="442.50" cy="59.80" r="1.75" fill="#eab75c" stroke="#3a2a10" stroke-width="0.85"/>
<text x="448.80" y="62.60" font-size="7.8" text-anchor="start" fill="#222">Botrocetin + JAQ1</text>
<circle cx="442.50" cy="69.60" r="1.75" fill="#ffffff" stroke="#333" stroke-width="0.85"/>
<text x="448.80" y="72.40" font-size="7.8" text-anchor="start" fill="#222">No stimulus (n &gt; 3)</text>
<polygon points="434.40,16.30 435.13,18.19 437.16,18.30 435.59,19.59 436.10,21.55 434.40,20.45 432.70,21.55 433.21,19.59 431.64,18.30 433.67,18.19" fill="#1a1a1a" stroke="#1a1a1a" stroke-width="0.35" stroke-linejoin="round"/>
<text x="270.80" y="157.90" font-size="10.5" text-anchor="start" font-weight="bold" fill="#111">E</text>
<text x="270.30" y="173.90" font-size="9.2" text-anchor="start" font-weight="bold" fill="#111">Aggretin A (t = 0 min)</text>
<text x="369.70" y="173.90" font-size="9.2" text-anchor="start" font-weight="bold" fill="#111">Aggretin A (t = 10 min)</text>
<path d="M313.9 214.0h.9v.9h-.9zM313.0 210.8h.9v.9h-.9zM305.3 214.4h.9v.9h-.9zM329.0 207.6h.9v.9h-.9zM327.9 207.3h.9v.9h-.9zM320.7 209.9h.9v.9h-.9zM298.7 221.7h.9v.9h-.9zM322.4 210.6h.9v.9h-.9zM294.6 212.1h.9v.9h-.9zM305.4 213.3h.9v.9h-.9zM319.3 209.5h.9v.9h-.9zM320.8 206.3h.9v.9h-.9zM320.0 211.1h.9v.9h-.9zM311.2 220.3h.9v.9h-.9zM324.0 212.9h.9v.9h-.9zM308.0 211.0h.9v.9h-.9zM312.0 212.2h.9v.9h-.9zM323.4 209.1h.9v.9h-.9zM309.6 209.5h.9v.9h-.9zM312.0 217.9h.9v.9h-.9zM307.4 215.5h.9v.9h-.9zM318.5 203.6h.9v.9h-.9zM318.5 215.6h.9v.9h-.9zM293.1 218.9h.9v.9h-.9zM313.6 208.4h.9v.9h-.9zM321.4 208.5h.9v.9h-.9zM300.9 220.7h.9v.9h-.9zM324.9 211.5h.9v.9h-.9zM332.6 205.9h.9v.9h-.9zM315.4 205.6h.9v.9h-.9zM321.9 206.0h.9v.9h-.9zM309.1 208.3h.9v.9h-.9zM304.4 213.4h.9v.9h-.9zM327.3 197.7h.9v.9h-.9zM300.1 218.4h.9v.9h-.9zM332.9 206.7h.9v.9h-.9zM291.1 210.2h.9v.9h-.9zM318.9 206.7h.9v.9h-.9zM305.0 219.7h.9v.9h-.9zM328.5 206.6h.9v.9h-.9zM319.4 211.5h.9v.9h-.9zM334.7 206.1h.9v.9h-.9zM322.6 210.7h.9v.9h-.9zM300.5 222.8h.9v.9h-.9zM327.4 208.7h.9v.9h-.9zM293.1 217.5h.9v.9h-.9zM322.7 200.5h.9v.9h-.9zM315.5 215.6h.9v.9h-.9zM303.8 222.9h.9v.9h-.9zM321.9 208.0h.9v.9h-.9zM320.6 211.9h.9v.9h-.9zM319.1 214.7h.9v.9h-.9zM308.0 212.4h.9v.9h-.9zM327.6 206.4h.9v.9h-.9zM307.6 218.5h.9v.9h-.9zM331.6 202.8h.9v.9h-.9zM300.4 216.7h.9v.9h-.9zM313.9 210.6h.9v.9h-.9zM330.1 200.9h.9v.9h-.9zM328.1 200.6h.9v.9h-.9zM308.2 216.9h.9v.9h-.9zM329.8 209.1h.9v.9h-.9zM320.1 210.0h.9v.9h-.9zM318.6 212.4h.9v.9h-.9zM314.5 212.8h.9v.9h-.9zM322.4 208.4h.9v.9h-.9zM325.3 209.7h.9v.9h-.9zM338.9 203.2h.9v.9h-.9zM310.7 211.5h.9v.9h-.9zM317.2 214.5h.9v.9h-.9zM312.8 213.9h.9v.9h-.9zM332.6 193.2h.9v.9h-.9zM303.9 217.0h.9v.9h-.9zM320.8 210.1h.9v.9h-.9zM312.2 215.4h.9v.9h-.9zM318.4 207.8h.9v.9h-.9zM343.6 201.4h.9v.9h-.9zM309.7 213.1h.9v.9h-.9zM313.4 211.8h.9v.9h-.9zM325.5 202.1h.9v.9h-.9zM316.7 214.8h.9v.9h-.9zM327.8 212.7h.9v.9h-.9zM296.5 217.3h.9v.9h-.9zM313.1 214.8h.9v.9h-.9zM324.1 196.1h.9v.9h-.9zM325.9 200.7h.9v.9h-.9zM321.4 202.4h.9v.9h-.9zM319.7 214.6h.9v.9h-.9zM314.6 212.4h.9v.9h-.9zM325.1 207.9h.9v.9h-.9zM317.3 217.1h.9v.9h-.9zM327.2 205.2h.9v.9h-.9zM344.8 194.4h.9v.9h-.9zM325.8 205.9h.9v.9h-.9zM318.5 213.0h.9v.9h-.9zM319.4 212.4h.9v.9h-.9zM296.7 212.3h.9v.9h-.9zM321.4 204.7h.9v.9h-.9zM302.4 210.2h.9v.9h-.9zM331.2 208.1h.9v.9h-.9zM331.0 200.9h.9v.9h-.9zM314.3 206.8h.9v.9h-.9zM326.9 213.5h.9v.9h-.9zM308.4 220.8h.9v.9h-.9zM326.7 205.9h.9v.9h-.9zM296.2 225.1h.9v.9h-.9zM314.0 209.2h.9v.9h-.9zM321.1 210.7h.9v.9h-.9zM331.1 200.5h.9v.9h-.9z" fill="#999" fill-opacity="0.16"/>
<path d="M347.3 194.8h.9v.9h-.9zM342.9 187.6h.9v.9h-.9zM340.0 197.8h.9v.9h-.9zM339.8 192.2h.9v.9h-.9zM342.5 187.3h.9v.9h-.9zM330.7 196.4h.9v.9h-.9zM336.0 199.9h.9v.9h-.9zM338.0 188.8h.9v.9h-.9zM341.6 195.2h.9v.9h-.9zM343.5 196.9h.9v.9h-.9zM342.2 196.1h.9v.9h-.9zM348.7 194.3h.9v.9h-.9zM339.8 197.1h.9v.9h-.9zM329.8 192.7h.9v.9h-.9zM336.4 201.1h.9v.9h-.9zM335.2 195.1h.9v.9h-.9zM338.3 192.4h.9v.9h-.9zM337.9 194.4h.9v.9h-.9zM344.6 187.6h.9v.9h-.9zM343.8 194.5h.9v.9h-.9zM334.3 187.7h.9v.9h-.9zM340.7 197.5h.9v.9h-.9zM332.0 193.9h.9v.9h-.9zM344.6 192.4h.9v.9h-.9zM341.6 195.1h.9v.9h-.9z" fill="#aaa" fill-opacity="0.15"/>
<path d="M311.5 210.5 L318 206 L326 202.8 L332.8 201 L334.5 204.2 L331 211.8 L326 216.5 L319 215.8 L313.5 213.2 Z" fill="#e8707c" fill-opacity="0.85" filter="url(#b1)"/>
<ellipse cx="325.50" cy="210.00" rx="6" ry="4.2" fill="#e04858" fill-opacity="0.75" transform="rotate(-25 325.50 210.00)" filter="url(#b1)"/>
<path d="M323.1 205.2h.9v.9h-.9zM314.5 211.4h.9v.9h-.9zM328.2 205.3h.9v.9h-.9zM317.9 209.3h.9v.9h-.9zM315.5 213.0h.9v.9h-.9zM318.1 213.7h.9v.9h-.9zM311.7 216.6h.9v.9h-.9zM317.6 204.8h.9v.9h-.9zM327.5 206.8h.9v.9h-.9zM310.5 212.3h.9v.9h-.9zM324.9 207.3h.9v.9h-.9zM329.4 210.0h.9v.9h-.9zM328.1 208.9h.9v.9h-.9zM332.3 208.3h.9v.9h-.9zM323.3 201.6h.9v.9h-.9zM330.9 211.5h.9v.9h-.9zM321.7 208.7h.9v.9h-.9zM331.9 198.8h.9v.9h-.9zM330.2 216.2h.9v.9h-.9zM320.0 214.1h.9v.9h-.9zM334.1 204.3h.9v.9h-.9zM328.4 211.0h.9v.9h-.9zM318.9 211.5h.9v.9h-.9zM326.8 211.5h.9v.9h-.9zM323.5 209.0h.9v.9h-.9zM317.9 210.9h.9v.9h-.9zM329.0 207.6h.9v.9h-.9zM318.1 208.9h.9v.9h-.9zM340.2 206.5h.9v.9h-.9zM323.5 199.4h.9v.9h-.9zM328.1 209.5h.9v.9h-.9zM333.8 206.6h.9v.9h-.9zM324.4 211.4h.9v.9h-.9zM315.0 217.8h.9v.9h-.9zM324.7 206.4h.9v.9h-.9zM334.0 212.0h.9v.9h-.9zM315.4 210.9h.9v.9h-.9zM325.9 209.4h.9v.9h-.9zM320.4 207.3h.9v.9h-.9zM337.1 207.5h.9v.9h-.9zM315.5 208.1h.9v.9h-.9zM334.8 208.4h.9v.9h-.9zM335.1 207.5h.9v.9h-.9zM319.7 212.6h.9v.9h-.9zM311.1 212.5h.9v.9h-.9zM324.5 211.4h.9v.9h-.9zM319.9 210.9h.9v.9h-.9zM327.1 209.6h.9v.9h-.9zM327.8 208.6h.9v.9h-.9zM323.4 212.9h.9v.9h-.9zM323.0 206.7h.9v.9h-.9zM320.6 211.1h.9v.9h-.9zM323.6 210.3h.9v.9h-.9zM324.3 210.1h.9v.9h-.9zM321.4 205.7h.9v.9h-.9zM327.9 211.9h.9v.9h-.9zM326.1 207.8h.9v.9h-.9zM325.0 205.2h.9v.9h-.9zM313.8 214.5h.9v.9h-.9zM320.1 214.3h.9v.9h-.9zM314.1 203.7h.9v.9h-.9zM320.7 217.3h.9v.9h-.9zM319.8 206.0h.9v.9h-.9zM320.6 213.1h.9v.9h-.9zM327.0 208.8h.9v.9h-.9zM333.1 208.0h.9v.9h-.9zM324.8 211.5h.9v.9h-.9zM334.5 208.5h.9v.9h-.9zM327.9 203.4h.9v.9h-.9zM324.3 212.3h.9v.9h-.9zM324.0 213.7h.9v.9h-.9zM328.6 211.0h.9v.9h-.9zM326.7 218.3h.9v.9h-.9zM330.4 205.7h.9v.9h-.9zM328.4 217.7h.9v.9h-.9zM323.5 213.2h.9v.9h-.9zM329.3 207.0h.9v.9h-.9zM317.9 213.1h.9v.9h-.9zM327.7 212.3h.9v.9h-.9zM328.3 207.6h.9v.9h-.9zM329.5 209.1h.9v.9h-.9zM325.2 209.2h.9v.9h-.9zM323.7 212.4h.9v.9h-.9zM317.3 210.1h.9v.9h-.9zM321.8 204.7h.9v.9h-.9zM318.6 204.1h.9v.9h-.9zM321.2 213.1h.9v.9h-.9zM327.0 207.9h.9v.9h-.9zM320.6 205.5h.9v.9h-.9zM334.7 206.5h.9v.9h-.9zM328.6 203.8h.9v.9h-.9zM320.2 204.0h.9v.9h-.9zM329.7 210.6h.9v.9h-.9zM313.6 214.1h.9v.9h-.9zM324.7 202.2h.9v.9h-.9zM312.5 210.7h.9v.9h-.9zM318.4 206.5h.9v.9h-.9zM324.6 210.2h.9v.9h-.9zM328.5 210.2h.9v.9h-.9zM333.9 209.5h.9v.9h-.9zM316.1 211.2h.9v.9h-.9zM316.6 208.7h.9v.9h-.9zM323.6 209.7h.9v.9h-.9zM324.3 203.1h.9v.9h-.9zM317.2 212.6h.9v.9h-.9zM322.4 209.0h.9v.9h-.9zM322.5 207.2h.9v.9h-.9zM328.4 208.9h.9v.9h-.9zM322.5 207.5h.9v.9h-.9zM318.9 201.1h.9v.9h-.9zM318.7 212.1h.9v.9h-.9zM316.1 214.0h.9v.9h-.9zM322.7 204.6h.9v.9h-.9zM322.2 209.1h.9v.9h-.9zM327.4 210.3h.9v.9h-.9zM322.5 206.8h.9v.9h-.9zM323.1 209.7h.9v.9h-.9zM328.4 208.6h.9v.9h-.9zM318.0 206.9h.9v.9h-.9zM320.8 208.0h.9v.9h-.9zM317.8 211.9h.9v.9h-.9zM321.5 211.1h.9v.9h-.9zM326.2 206.8h.9v.9h-.9zM336.2 202.6h.9v.9h-.9zM330.2 207.1h.9v.9h-.9zM326.5 198.9h.9v.9h-.9zM320.3 212.2h.9v.9h-.9zM330.8 215.6h.9v.9h-.9zM327.7 212.9h.9v.9h-.9zM329.6 210.6h.9v.9h-.9zM326.5 207.7h.9v.9h-.9zM325.1 204.7h.9v.9h-.9zM328.9 203.2h.9v.9h-.9zM328.6 215.8h.9v.9h-.9zM322.8 210.1h.9v.9h-.9zM330.4 206.6h.9v.9h-.9zM320.0 212.4h.9v.9h-.9zM328.2 210.3h.9v.9h-.9zM322.5 217.2h.9v.9h-.9zM333.1 205.3h.9v.9h-.9zM324.8 207.4h.9v.9h-.9zM330.6 203.6h.9v.9h-.9zM326.9 206.2h.9v.9h-.9zM321.3 213.6h.9v.9h-.9zM331.2 206.1h.9v.9h-.9zM321.6 213.9h.9v.9h-.9zM324.2 210.6h.9v.9h-.9zM334.0 209.3h.9v.9h-.9zM324.6 218.3h.9v.9h-.9zM325.2 212.1h.9v.9h-.9zM320.4 211.0h.9v.9h-.9zM317.2 219.8h.9v.9h-.9zM329.6 202.1h.9v.9h-.9zM313.3 208.0h.9v.9h-.9zM329.7 205.0h.9v.9h-.9zM323.2 208.6h.9v.9h-.9zM321.7 206.3h.9v.9h-.9zM321.9 204.7h.9v.9h-.9zM324.1 210.7h.9v.9h-.9zM326.2 207.6h.9v.9h-.9z" fill="#b83040" fill-opacity="0.22"/>
<rect x="289.6" y="180.2" width="71.19999999999999" height="70.80000000000001" fill="none" stroke="#333" stroke-width="0.8"/>
<line x1="289.60" y1="180.20" x2="289.60" y2="251.00" stroke="#222" stroke-width="1.1"/>
<line x1="289.60" y1="251.00" x2="360.80" y2="251.00" stroke="#222" stroke-width="1.1"/>
<line x1="290.60" y1="251.00" x2="290.60" y2="252.20" stroke="#444" stroke-width="0.5"/>
<line x1="292.37" y1="251.00" x2="292.37" y2="252.20" stroke="#444" stroke-width="0.5"/>
<line x1="294.15" y1="251.00" x2="294.15" y2="252.20" stroke="#444" stroke-width="0.5"/>
<line x1="295.92" y1="251.00" x2="295.92" y2="252.20" stroke="#444" stroke-width="0.5"/>
<line x1="297.70" y1="251.00" x2="297.70" y2="252.20" stroke="#444" stroke-width="0.5"/>
<line x1="299.47" y1="251.00" x2="299.47" y2="252.20" stroke="#444" stroke-width="0.5"/>
<line x1="301.25" y1="251.00" x2="301.25" y2="252.20" stroke="#444" stroke-width="0.5"/>
<line x1="303.02" y1="251.00" x2="303.02" y2="252.20" stroke="#444" stroke-width="0.5"/>
<line x1="304.79" y1="251.00" x2="304.79" y2="252.20" stroke="#444" stroke-width="0.5"/>
<line x1="306.57" y1="251.00" x2="306.57" y2="252.20" stroke="#444" stroke-width="0.5"/>
<line x1="308.34" y1="251.00" x2="308.34" y2="252.20" stroke="#444" stroke-width="0.5"/>
<line x1="310.12" y1="251.00" x2="310.12" y2="252.20" stroke="#444" stroke-width="0.5"/>
<line x1="311.89" y1="251.00" x2="311.89" y2="252.20" stroke="#444" stroke-width="0.5"/>
<line x1="313.67" y1="251.00" x2="313.67" y2="252.20" stroke="#444" stroke-width="0.5"/>
<line x1="315.44" y1="251.00" x2="315.44" y2="252.20" stroke="#444" stroke-width="0.5"/>
<line x1="317.22" y1="251.00" x2="317.22" y2="252.20" stroke="#444" stroke-width="0.5"/>
<line x1="318.99" y1="251.00" x2="318.99" y2="252.20" stroke="#444" stroke-width="0.5"/>
<line x1="320.76" y1="251.00" x2="320.76" y2="252.20" stroke="#444" stroke-width="0.5"/>
<line x1="322.54" y1="251.00" x2="322.54" y2="252.20" stroke="#444" stroke-width="0.5"/>
<line x1="324.31" y1="251.00" x2="324.31" y2="252.20" stroke="#444" stroke-width="0.5"/>
<line x1="326.09" y1="251.00" x2="326.09" y2="252.20" stroke="#444" stroke-width="0.5"/>
<line x1="327.86" y1="251.00" x2="327.86" y2="252.20" stroke="#444" stroke-width="0.5"/>
<line x1="329.64" y1="251.00" x2="329.64" y2="252.20" stroke="#444" stroke-width="0.5"/>
<line x1="331.41" y1="251.00" x2="331.41" y2="252.20" stroke="#444" stroke-width="0.5"/>
<line x1="333.18" y1="251.00" x2="333.18" y2="252.20" stroke="#444" stroke-width="0.5"/>
<line x1="334.96" y1="251.00" x2="334.96" y2="252.20" stroke="#444" stroke-width="0.5"/>
<line x1="336.73" y1="251.00" x2="336.73" y2="252.20" stroke="#444" stroke-width="0.5"/>
<line x1="338.51" y1="251.00" x2="338.51" y2="252.20" stroke="#444" stroke-width="0.5"/>
<line x1="340.28" y1="251.00" x2="340.28" y2="252.20" stroke="#444" stroke-width="0.5"/>
<line x1="342.06" y1="251.00" x2="342.06" y2="252.20" stroke="#444" stroke-width="0.5"/>
<line x1="343.83" y1="251.00" x2="343.83" y2="252.20" stroke="#444" stroke-width="0.5"/>
<line x1="345.61" y1="251.00" x2="345.61" y2="252.20" stroke="#444" stroke-width="0.5"/>
<line x1="347.38" y1="251.00" x2="347.38" y2="252.20" stroke="#444" stroke-width="0.5"/>
<line x1="349.15" y1="251.00" x2="349.15" y2="252.20" stroke="#444" stroke-width="0.5"/>
<line x1="350.93" y1="251.00" x2="350.93" y2="252.20" stroke="#444" stroke-width="0.5"/>
<line x1="352.70" y1="251.00" x2="352.70" y2="252.20" stroke="#444" stroke-width="0.5"/>
<line x1="354.48" y1="251.00" x2="354.48" y2="252.20" stroke="#444" stroke-width="0.5"/>
<line x1="356.25" y1="251.00" x2="356.25" y2="252.20" stroke="#444" stroke-width="0.5"/>
<line x1="358.03" y1="251.00" x2="358.03" y2="252.20" stroke="#444" stroke-width="0.5"/>
<line x1="359.80" y1="251.00" x2="359.80" y2="252.20" stroke="#444" stroke-width="0.5"/>
<line x1="288.40" y1="185.80" x2="289.60" y2="185.80" stroke="#333" stroke-width="0.6"/>
<line x1="288.40" y1="201.80" x2="289.60" y2="201.80" stroke="#333" stroke-width="0.6"/>
<line x1="288.40" y1="218.90" x2="289.60" y2="218.90" stroke="#333" stroke-width="0.6"/>
<line x1="288.40" y1="235.70" x2="289.60" y2="235.70" stroke="#333" stroke-width="0.6"/>
<line x1="288.40" y1="244.00" x2="289.60" y2="244.00" stroke="#333" stroke-width="0.6"/>
<text x="287.20" y="186.40" font-size="4.6" fill="#333" text-anchor="middle" transform="rotate(-90 287.20 186.40)">10<tspan font-size="3.45" dy="-1.84">5</tspan></text>
<text x="287.20" y="202.40" font-size="4.6" fill="#333" text-anchor="middle" transform="rotate(-90 287.20 202.40)">10<tspan font-size="3.45" dy="-1.84">4</tspan></text>
<text x="287.20" y="219.50" font-size="4.6" fill="#333" text-anchor="middle" transform="rotate(-90 287.20 219.50)">10<tspan font-size="3.45" dy="-1.84">3</tspan></text>
<text x="287.20" y="236.30" font-size="4.6" fill="#333" text-anchor="middle" transform="rotate(-90 287.20 236.30)">10<tspan font-size="3.45" dy="-1.84">2</tspan></text>
<text x="287.00" y="244.00" font-size="5" text-anchor="middle" fill="#333" transform="rotate(-90 287.00 244.00)">0</text>
<text x="298.00" y="257.80" font-size="5" text-anchor="middle" fill="#444">0</text>
<text x="304.00" y="257.80" font-size="4.5" fill="#444" text-anchor="middle">10<tspan font-size="3.38" dy="-1.80">2</tspan></text>
<text x="321.50" y="257.80" font-size="4.5" fill="#444" text-anchor="middle">10<tspan font-size="3.38" dy="-1.80">3</tspan></text>
<text x="338.40" y="257.80" font-size="4.5" fill="#444" text-anchor="middle">10<tspan font-size="3.38" dy="-1.80">4</tspan></text>
<text x="353.80" y="257.80" font-size="4.5" fill="#444" text-anchor="middle">10<tspan font-size="3.38" dy="-1.80">5</tspan></text>
<text x="315.80" y="234.60" font-size="8.3" text-anchor="middle" fill="#333">PLTs</text>
<path d="M308.8 221.0 L313.2 222.3 L311.0 224.0 Z M313.0 222.6 L317.2 225.2 L314.4 225.9 Z" fill="#333" stroke="#333" stroke-width="0.5" stroke-linejoin="round"/>
<path d="M408.7 219.7h.9v.9h-.9zM415.8 222.3h.9v.9h-.9zM425.9 209.3h.9v.9h-.9zM411.7 214.2h.9v.9h-.9zM407.4 218.0h.9v.9h-.9zM422.1 214.2h.9v.9h-.9zM428.0 218.2h.9v.9h-.9zM410.6 218.0h.9v.9h-.9zM444.1 191.7h.9v.9h-.9zM412.8 217.5h.9v.9h-.9zM420.4 214.6h.9v.9h-.9zM416.2 216.6h.9v.9h-.9zM420.0 216.4h.9v.9h-.9zM396.3 221.5h.9v.9h-.9zM416.0 210.4h.9v.9h-.9zM408.1 222.1h.9v.9h-.9zM412.3 219.9h.9v.9h-.9zM426.5 210.9h.9v.9h-.9zM423.2 210.8h.9v.9h-.9zM403.0 221.8h.9v.9h-.9zM421.8 209.6h.9v.9h-.9zM418.4 217.2h.9v.9h-.9zM409.9 221.2h.9v.9h-.9zM436.7 201.5h.9v.9h-.9zM419.3 212.6h.9v.9h-.9zM434.9 206.4h.9v.9h-.9zM426.2 206.5h.9v.9h-.9zM417.8 214.1h.9v.9h-.9zM401.9 229.1h.9v.9h-.9zM424.2 202.8h.9v.9h-.9zM425.6 209.3h.9v.9h-.9zM423.4 212.8h.9v.9h-.9zM401.7 221.7h.9v.9h-.9zM432.7 203.6h.9v.9h-.9zM404.6 215.0h.9v.9h-.9zM405.7 222.1h.9v.9h-.9zM436.7 206.0h.9v.9h-.9zM424.8 220.5h.9v.9h-.9zM411.2 214.5h.9v.9h-.9zM424.6 213.0h.9v.9h-.9zM405.1 215.6h.9v.9h-.9zM421.5 213.2h.9v.9h-.9zM403.8 220.6h.9v.9h-.9zM413.1 218.7h.9v.9h-.9zM416.6 214.4h.9v.9h-.9zM416.2 219.7h.9v.9h-.9zM432.0 204.9h.9v.9h-.9zM425.5 206.6h.9v.9h-.9zM420.2 216.2h.9v.9h-.9zM433.3 204.1h.9v.9h-.9zM417.6 215.1h.9v.9h-.9zM402.2 222.5h.9v.9h-.9zM411.5 219.1h.9v.9h-.9zM402.3 213.4h.9v.9h-.9zM418.9 214.7h.9v.9h-.9zM413.9 220.2h.9v.9h-.9zM414.0 213.4h.9v.9h-.9zM420.1 205.8h.9v.9h-.9zM410.8 217.7h.9v.9h-.9zM426.7 208.6h.9v.9h-.9zM420.0 209.9h.9v.9h-.9zM424.3 218.2h.9v.9h-.9zM415.2 226.2h.9v.9h-.9zM411.2 217.7h.9v.9h-.9zM421.8 216.6h.9v.9h-.9zM400.9 213.6h.9v.9h-.9zM425.9 213.4h.9v.9h-.9zM429.5 219.8h.9v.9h-.9zM420.6 213.7h.9v.9h-.9zM428.5 210.1h.9v.9h-.9zM433.3 200.3h.9v.9h-.9zM407.6 203.9h.9v.9h-.9zM425.9 208.1h.9v.9h-.9zM431.8 216.4h.9v.9h-.9zM417.5 213.1h.9v.9h-.9zM411.1 213.9h.9v.9h-.9zM412.5 219.8h.9v.9h-.9zM418.5 214.0h.9v.9h-.9zM417.9 218.2h.9v.9h-.9zM423.0 210.7h.9v.9h-.9zM424.8 209.7h.9v.9h-.9zM408.5 225.6h.9v.9h-.9zM421.1 208.0h.9v.9h-.9zM430.1 209.1h.9v.9h-.9zM404.4 228.5h.9v.9h-.9zM423.2 215.3h.9v.9h-.9zM419.8 212.4h.9v.9h-.9zM403.4 226.2h.9v.9h-.9zM417.8 212.8h.9v.9h-.9zM421.9 212.3h.9v.9h-.9zM424.5 208.9h.9v.9h-.9zM413.6 206.7h.9v.9h-.9zM414.8 218.8h.9v.9h-.9zM431.5 205.2h.9v.9h-.9zM419.7 220.3h.9v.9h-.9zM415.9 218.4h.9v.9h-.9zM435.9 204.7h.9v.9h-.9zM429.7 204.6h.9v.9h-.9zM420.1 212.6h.9v.9h-.9zM421.3 217.3h.9v.9h-.9zM442.1 198.2h.9v.9h-.9zM412.8 219.0h.9v.9h-.9zM407.8 221.7h.9v.9h-.9zM423.5 209.8h.9v.9h-.9zM420.7 205.5h.9v.9h-.9zM423.2 204.3h.9v.9h-.9zM409.6 216.0h.9v.9h-.9zM415.4 219.3h.9v.9h-.9zM418.1 212.1h.9v.9h-.9zM426.7 216.5h.9v.9h-.9z" fill="#999" fill-opacity="0.15"/>
<path d="M448.2 192.4h.9v.9h-.9zM451.7 188.8h.9v.9h-.9zM451.1 203.8h.9v.9h-.9zM448.2 192.7h.9v.9h-.9zM452.1 191.1h.9v.9h-.9zM442.8 187.7h.9v.9h-.9zM450.6 194.7h.9v.9h-.9zM440.4 189.9h.9v.9h-.9zM440.7 183.6h.9v.9h-.9zM444.8 190.0h.9v.9h-.9zM446.1 187.2h.9v.9h-.9zM443.0 191.8h.9v.9h-.9zM444.7 188.6h.9v.9h-.9zM449.4 193.8h.9v.9h-.9zM456.1 194.5h.9v.9h-.9zM443.3 191.4h.9v.9h-.9zM445.5 204.7h.9v.9h-.9zM444.7 192.7h.9v.9h-.9zM444.2 184.5h.9v.9h-.9zM448.3 189.7h.9v.9h-.9zM442.3 196.8h.9v.9h-.9zM444.7 180.8h.9v.9h-.9zM450.1 189.7h.9v.9h-.9zM449.9 191.5h.9v.9h-.9z" fill="#aaa" fill-opacity="0.15"/>
<ellipse cx="424.00" cy="216.00" rx="7" ry="3.6" fill="#e05068" fill-opacity="0.85" transform="rotate(-35 424.00 216.00)" filter="url(#b1)"/>
<ellipse cx="434.50" cy="209.00" rx="7.5" ry="3.3" fill="#5656c4" fill-opacity="0.85" transform="rotate(-35 434.50 209.00)" filter="url(#b1)"/>
<path d="M428.5 212.2h.9v.9h-.9zM426.7 213.0h.9v.9h-.9zM425.7 212.7h.9v.9h-.9zM425.8 219.4h.9v.9h-.9zM425.4 214.6h.9v.9h-.9zM418.8 217.5h.9v.9h-.9zM425.9 217.2h.9v.9h-.9zM426.2 215.8h.9v.9h-.9zM425.6 218.5h.9v.9h-.9zM421.9 216.0h.9v.9h-.9zM427.4 213.8h.9v.9h-.9zM422.2 215.7h.9v.9h-.9zM423.8 217.8h.9v.9h-.9zM423.8 212.9h.9v.9h-.9zM425.8 215.2h.9v.9h-.9zM421.3 220.0h.9v.9h-.9zM422.5 216.1h.9v.9h-.9zM428.6 216.3h.9v.9h-.9zM422.0 218.6h.9v.9h-.9zM423.7 222.4h.9v.9h-.9zM423.7 219.4h.9v.9h-.9zM422.6 219.1h.9v.9h-.9zM429.0 205.7h.9v.9h-.9zM423.0 218.0h.9v.9h-.9zM422.8 215.0h.9v.9h-.9zM432.0 210.6h.9v.9h-.9zM419.0 221.8h.9v.9h-.9zM419.1 222.5h.9v.9h-.9zM422.1 217.8h.9v.9h-.9zM428.8 213.0h.9v.9h-.9zM416.7 216.5h.9v.9h-.9zM429.3 214.3h.9v.9h-.9zM422.1 219.7h.9v.9h-.9zM426.6 215.9h.9v.9h-.9zM415.3 221.3h.9v.9h-.9zM428.2 215.0h.9v.9h-.9zM424.1 209.3h.9v.9h-.9zM425.2 216.5h.9v.9h-.9zM432.2 207.7h.9v.9h-.9zM422.8 216.9h.9v.9h-.9zM426.7 212.9h.9v.9h-.9zM427.2 211.6h.9v.9h-.9zM424.3 214.4h.9v.9h-.9zM423.7 214.3h.9v.9h-.9zM419.5 222.1h.9v.9h-.9zM424.4 214.2h.9v.9h-.9zM426.0 217.3h.9v.9h-.9zM420.3 218.3h.9v.9h-.9zM426.7 215.6h.9v.9h-.9zM420.1 213.1h.9v.9h-.9zM429.0 213.4h.9v.9h-.9zM423.7 215.5h.9v.9h-.9zM424.4 214.6h.9v.9h-.9zM419.3 217.3h.9v.9h-.9zM421.0 216.4h.9v.9h-.9zM420.5 220.1h.9v.9h-.9zM420.0 220.6h.9v.9h-.9zM420.7 219.3h.9v.9h-.9zM429.3 212.8h.9v.9h-.9zM421.4 218.0h.9v.9h-.9zM422.4 212.5h.9v.9h-.9zM422.0 217.9h.9v.9h-.9zM422.4 217.4h.9v.9h-.9zM427.7 215.5h.9v.9h-.9zM428.1 214.7h.9v.9h-.9zM422.9 216.7h.9v.9h-.9zM422.6 216.1h.9v.9h-.9zM421.2 213.4h.9v.9h-.9zM422.7 216.8h.9v.9h-.9zM420.4 218.5h.9v.9h-.9zM425.7 214.4h.9v.9h-.9zM428.4 205.9h.9v.9h-.9zM420.9 213.2h.9v.9h-.9zM431.0 218.3h.9v.9h-.9zM414.9 222.7h.9v.9h-.9zM425.5 214.1h.9v.9h-.9zM423.2 210.5h.9v.9h-.9zM427.6 214.5h.9v.9h-.9zM423.3 214.9h.9v.9h-.9zM425.7 213.5h.9v.9h-.9zM424.2 214.5h.9v.9h-.9zM415.7 221.7h.9v.9h-.9zM425.7 216.8h.9v.9h-.9zM420.7 218.2h.9v.9h-.9zM426.5 214.7h.9v.9h-.9zM431.1 216.4h.9v.9h-.9zM418.2 214.9h.9v.9h-.9zM429.1 216.5h.9v.9h-.9zM428.4 215.1h.9v.9h-.9zM420.8 216.3h.9v.9h-.9z" fill="#c03050" fill-opacity="0.25"/>
<path d="M437.1 205.0h.9v.9h-.9zM425.9 212.6h.9v.9h-.9zM446.9 205.0h.9v.9h-.9zM430.9 209.8h.9v.9h-.9zM434.6 207.1h.9v.9h-.9zM439.8 205.1h.9v.9h-.9zM431.6 214.3h.9v.9h-.9zM432.4 211.0h.9v.9h-.9zM434.1 208.5h.9v.9h-.9zM435.0 206.9h.9v.9h-.9zM424.4 210.7h.9v.9h-.9zM428.4 211.4h.9v.9h-.9zM434.5 209.2h.9v.9h-.9zM436.9 207.6h.9v.9h-.9zM430.4 210.1h.9v.9h-.9zM425.6 214.8h.9v.9h-.9zM437.1 208.5h.9v.9h-.9zM433.8 209.1h.9v.9h-.9zM438.4 206.3h.9v.9h-.9zM438.2 207.8h.9v.9h-.9zM436.9 210.5h.9v.9h-.9zM431.7 210.1h.9v.9h-.9zM430.3 210.0h.9v.9h-.9zM442.9 207.4h.9v.9h-.9zM435.2 209.9h.9v.9h-.9zM440.2 207.0h.9v.9h-.9zM438.0 203.5h.9v.9h-.9zM432.4 211.6h.9v.9h-.9zM440.5 205.1h.9v.9h-.9zM430.6 210.9h.9v.9h-.9zM430.8 209.5h.9v.9h-.9zM439.9 203.7h.9v.9h-.9zM437.1 212.5h.9v.9h-.9zM439.7 206.2h.9v.9h-.9zM432.5 211.4h.9v.9h-.9zM441.9 205.4h.9v.9h-.9zM439.8 205.5h.9v.9h-.9zM436.4 207.2h.9v.9h-.9zM437.7 209.9h.9v.9h-.9zM428.6 213.0h.9v.9h-.9zM434.8 207.4h.9v.9h-.9zM434.1 211.2h.9v.9h-.9zM443.4 204.3h.9v.9h-.9zM434.1 205.5h.9v.9h-.9zM442.5 203.6h.9v.9h-.9zM433.1 207.3h.9v.9h-.9zM433.0 207.4h.9v.9h-.9zM435.3 209.6h.9v.9h-.9zM434.9 209.4h.9v.9h-.9zM432.7 213.8h.9v.9h-.9zM429.7 207.9h.9v.9h-.9zM432.9 208.3h.9v.9h-.9zM430.0 211.3h.9v.9h-.9zM434.3 206.2h.9v.9h-.9zM435.6 211.7h.9v.9h-.9zM437.1 206.8h.9v.9h-.9zM434.9 208.4h.9v.9h-.9zM435.1 210.3h.9v.9h-.9zM431.4 205.3h.9v.9h-.9zM433.4 207.6h.9v.9h-.9zM436.5 206.1h.9v.9h-.9zM437.6 212.1h.9v.9h-.9zM428.9 210.2h.9v.9h-.9zM426.0 209.1h.9v.9h-.9zM427.2 215.0h.9v.9h-.9zM429.7 207.8h.9v.9h-.9zM429.1 214.3h.9v.9h-.9zM430.9 210.6h.9v.9h-.9zM437.4 210.3h.9v.9h-.9zM443.6 205.1h.9v.9h-.9zM435.3 208.9h.9v.9h-.9zM443.5 206.2h.9v.9h-.9zM433.8 210.6h.9v.9h-.9zM435.7 208.3h.9v.9h-.9zM430.9 208.3h.9v.9h-.9zM430.5 208.0h.9v.9h-.9zM440.1 206.4h.9v.9h-.9zM431.2 214.7h.9v.9h-.9zM436.0 203.3h.9v.9h-.9zM443.0 205.0h.9v.9h-.9zM441.5 201.1h.9v.9h-.9zM437.2 208.2h.9v.9h-.9zM435.5 208.7h.9v.9h-.9zM437.1 203.5h.9v.9h-.9zM427.8 210.3h.9v.9h-.9zM431.5 209.6h.9v.9h-.9zM436.3 208.4h.9v.9h-.9zM433.9 207.8h.9v.9h-.9zM433.8 211.8h.9v.9h-.9zM437.7 207.0h.9v.9h-.9zM435.0 212.5h.9v.9h-.9zM432.8 211.8h.9v.9h-.9zM438.9 205.3h.9v.9h-.9zM436.6 204.8h.9v.9h-.9zM438.9 206.4h.9v.9h-.9zM428.8 214.6h.9v.9h-.9zM432.3 213.7h.9v.9h-.9zM431.5 210.7h.9v.9h-.9zM435.3 207.6h.9v.9h-.9zM434.9 207.3h.9v.9h-.9z" fill="#3030a0" fill-opacity="0.25"/>
<rect x="389.6" y="180.5" width="69.59999999999997" height="70.1" fill="none" stroke="#333" stroke-width="0.8"/>
<line x1="389.60" y1="180.50" x2="389.60" y2="250.60" stroke="#222" stroke-width="1.1"/>
<line x1="389.60" y1="250.60" x2="459.20" y2="250.60" stroke="#222" stroke-width="1.1"/>
<line x1="390.60" y1="250.60" x2="390.60" y2="251.80" stroke="#444" stroke-width="0.5"/>
<line x1="392.33" y1="250.60" x2="392.33" y2="251.80" stroke="#444" stroke-width="0.5"/>
<line x1="394.07" y1="250.60" x2="394.07" y2="251.80" stroke="#444" stroke-width="0.5"/>
<line x1="395.80" y1="250.60" x2="395.80" y2="251.80" stroke="#444" stroke-width="0.5"/>
<line x1="397.53" y1="250.60" x2="397.53" y2="251.80" stroke="#444" stroke-width="0.5"/>
<line x1="399.27" y1="250.60" x2="399.27" y2="251.80" stroke="#444" stroke-width="0.5"/>
<line x1="401.00" y1="250.60" x2="401.00" y2="251.80" stroke="#444" stroke-width="0.5"/>
<line x1="402.73" y1="250.60" x2="402.73" y2="251.80" stroke="#444" stroke-width="0.5"/>
<line x1="404.47" y1="250.60" x2="404.47" y2="251.80" stroke="#444" stroke-width="0.5"/>
<line x1="406.20" y1="250.60" x2="406.20" y2="251.80" stroke="#444" stroke-width="0.5"/>
<line x1="407.93" y1="250.60" x2="407.93" y2="251.80" stroke="#444" stroke-width="0.5"/>
<line x1="409.67" y1="250.60" x2="409.67" y2="251.80" stroke="#444" stroke-width="0.5"/>
<line x1="411.40" y1="250.60" x2="411.40" y2="251.80" stroke="#444" stroke-width="0.5"/>
<line x1="413.13" y1="250.60" x2="413.13" y2="251.80" stroke="#444" stroke-width="0.5"/>
<line x1="414.87" y1="250.60" x2="414.87" y2="251.80" stroke="#444" stroke-width="0.5"/>
<line x1="416.60" y1="250.60" x2="416.60" y2="251.80" stroke="#444" stroke-width="0.5"/>
<line x1="418.33" y1="250.60" x2="418.33" y2="251.80" stroke="#444" stroke-width="0.5"/>
<line x1="420.07" y1="250.60" x2="420.07" y2="251.80" stroke="#444" stroke-width="0.5"/>
<line x1="421.80" y1="250.60" x2="421.80" y2="251.80" stroke="#444" stroke-width="0.5"/>
<line x1="423.53" y1="250.60" x2="423.53" y2="251.80" stroke="#444" stroke-width="0.5"/>
<line x1="425.27" y1="250.60" x2="425.27" y2="251.80" stroke="#444" stroke-width="0.5"/>
<line x1="427.00" y1="250.60" x2="427.00" y2="251.80" stroke="#444" stroke-width="0.5"/>
<line x1="428.73" y1="250.60" x2="428.73" y2="251.80" stroke="#444" stroke-width="0.5"/>
<line x1="430.47" y1="250.60" x2="430.47" y2="251.80" stroke="#444" stroke-width="0.5"/>
<line x1="432.20" y1="250.60" x2="432.20" y2="251.80" stroke="#444" stroke-width="0.5"/>
<line x1="433.93" y1="250.60" x2="433.93" y2="251.80" stroke="#444" stroke-width="0.5"/>
<line x1="435.67" y1="250.60" x2="435.67" y2="251.80" stroke="#444" stroke-width="0.5"/>
<line x1="437.40" y1="250.60" x2="437.40" y2="251.80" stroke="#444" stroke-width="0.5"/>
<line x1="439.13" y1="250.60" x2="439.13" y2="251.80" stroke="#444" stroke-width="0.5"/>
<line x1="440.87" y1="250.60" x2="440.87" y2="251.80" stroke="#444" stroke-width="0.5"/>
<line x1="442.60" y1="250.60" x2="442.60" y2="251.80" stroke="#444" stroke-width="0.5"/>
<line x1="444.33" y1="250.60" x2="444.33" y2="251.80" stroke="#444" stroke-width="0.5"/>
<line x1="446.07" y1="250.60" x2="446.07" y2="251.80" stroke="#444" stroke-width="0.5"/>
<line x1="447.80" y1="250.60" x2="447.80" y2="251.80" stroke="#444" stroke-width="0.5"/>
<line x1="449.53" y1="250.60" x2="449.53" y2="251.80" stroke="#444" stroke-width="0.5"/>
<line x1="451.27" y1="250.60" x2="451.27" y2="251.80" stroke="#444" stroke-width="0.5"/>
<line x1="453.00" y1="250.60" x2="453.00" y2="251.80" stroke="#444" stroke-width="0.5"/>
<line x1="454.73" y1="250.60" x2="454.73" y2="251.80" stroke="#444" stroke-width="0.5"/>
<line x1="456.47" y1="250.60" x2="456.47" y2="251.80" stroke="#444" stroke-width="0.5"/>
<line x1="458.20" y1="250.60" x2="458.20" y2="251.80" stroke="#444" stroke-width="0.5"/>
<line x1="388.40" y1="185.50" x2="389.60" y2="185.50" stroke="#333" stroke-width="0.6"/>
<line x1="388.40" y1="201.50" x2="389.60" y2="201.50" stroke="#333" stroke-width="0.6"/>
<line x1="388.40" y1="218.60" x2="389.60" y2="218.60" stroke="#333" stroke-width="0.6"/>
<line x1="388.40" y1="235.40" x2="389.60" y2="235.40" stroke="#333" stroke-width="0.6"/>
<line x1="388.40" y1="243.70" x2="389.60" y2="243.70" stroke="#333" stroke-width="0.6"/>
<text x="387.20" y="186.10" font-size="4.6" fill="#333" text-anchor="middle" transform="rotate(-90 387.20 186.10)">10<tspan font-size="3.45" dy="-1.84">5</tspan></text>
<text x="387.20" y="202.10" font-size="4.6" fill="#333" text-anchor="middle" transform="rotate(-90 387.20 202.10)">10<tspan font-size="3.45" dy="-1.84">4</tspan></text>
<text x="387.20" y="219.20" font-size="4.6" fill="#333" text-anchor="middle" transform="rotate(-90 387.20 219.20)">10<tspan font-size="3.45" dy="-1.84">3</tspan></text>
<text x="387.20" y="236.00" font-size="4.6" fill="#333" text-anchor="middle" transform="rotate(-90 387.20 236.00)">10<tspan font-size="3.45" dy="-1.84">2</tspan></text>
<text x="387.00" y="243.70" font-size="5" text-anchor="middle" fill="#333" transform="rotate(-90 387.00 243.70)">0</text>
<text x="397.30" y="257.40" font-size="5" text-anchor="middle" fill="#444">0</text>
<text x="403.30" y="257.40" font-size="4.5" fill="#444" text-anchor="middle">10<tspan font-size="3.38" dy="-1.80">2</tspan></text>
<text x="420.80" y="257.40" font-size="4.5" fill="#444" text-anchor="middle">10<tspan font-size="3.38" dy="-1.80">3</tspan></text>
<text x="437.70" y="257.40" font-size="4.5" fill="#444" text-anchor="middle">10<tspan font-size="3.38" dy="-1.80">4</tspan></text>
<text x="453.10" y="257.40" font-size="4.5" fill="#444" text-anchor="middle">10<tspan font-size="3.38" dy="-1.80">5</tspan></text>
<path d="M445.6 212.4 L442.4 216.0 L441.6 213.0 Z" fill="#222" stroke="#222" stroke-width="0.6" stroke-linejoin="round"/>
<text x="419.60" y="237.60" font-size="8.0" text-anchor="start" fill="#222" transform="rotate(-25 419.60 237.60)">aggregates</text>
<text x="278.30" y="214.90" font-size="9.5" text-anchor="middle" fill="#111" transform="rotate(-90 278.30 214.90)">Side Scatter</text>
<text x="377.60" y="214.40" font-size="9.5" text-anchor="middle" fill="#111" transform="rotate(-90 377.60 214.40)">Side Scatter</text>
<text x="324.80" y="267.30" font-size="9.2" text-anchor="middle" fill="#111">Forward Scatter</text>
<text x="423.80" y="267.00" font-size="9.2" text-anchor="middle" fill="#111">Forward Scatter</text>
<path d="M302.2 336.4h.9v.9h-.9zM303.8 336.5h.9v.9h-.9zM294.4 336.7h.9v.9h-.9zM301.6 340.1h.9v.9h-.9zM296.6 341.8h.9v.9h-.9zM299.6 344.8h.9v.9h-.9zM299.6 338.8h.9v.9h-.9zM298.9 332.5h.9v.9h-.9zM303.6 339.6h.9v.9h-.9zM298.0 334.0h.9v.9h-.9zM297.5 338.4h.9v.9h-.9zM301.1 335.5h.9v.9h-.9zM300.7 335.9h.9v.9h-.9zM300.8 339.0h.9v.9h-.9zM303.2 334.0h.9v.9h-.9zM295.3 341.4h.9v.9h-.9zM300.5 340.3h.9v.9h-.9zM294.8 335.2h.9v.9h-.9zM298.4 338.9h.9v.9h-.9zM303.6 342.0h.9v.9h-.9zM301.8 339.7h.9v.9h-.9zM302.6 339.2h.9v.9h-.9zM301.9 334.7h.9v.9h-.9zM301.1 339.2h.9v.9h-.9zM301.2 338.1h.9v.9h-.9zM300.1 339.5h.9v.9h-.9zM298.2 336.1h.9v.9h-.9zM299.1 338.4h.9v.9h-.9zM302.6 338.5h.9v.9h-.9zM299.7 332.7h.9v.9h-.9zM301.6 341.1h.9v.9h-.9zM301.8 337.9h.9v.9h-.9zM299.5 337.0h.9v.9h-.9zM295.5 340.1h.9v.9h-.9zM298.8 332.5h.9v.9h-.9zM297.7 333.5h.9v.9h-.9zM302.8 340.1h.9v.9h-.9zM295.8 339.6h.9v.9h-.9zM302.9 334.4h.9v.9h-.9zM295.3 333.8h.9v.9h-.9zM298.1 337.6h.9v.9h-.9zM303.0 332.2h.9v.9h-.9zM297.9 333.4h.9v.9h-.9zM298.4 340.9h.9v.9h-.9zM302.8 338.5h.9v.9h-.9zM298.4 334.5h.9v.9h-.9zM297.0 338.2h.9v.9h-.9zM297.7 333.9h.9v.9h-.9zM302.0 341.1h.9v.9h-.9zM300.7 333.0h.9v.9h-.9zM291.4 337.0h.9v.9h-.9zM304.0 337.4h.9v.9h-.9zM303.1 341.6h.9v.9h-.9zM303.7 334.9h.9v.9h-.9zM303.5 339.1h.9v.9h-.9zM295.2 335.0h.9v.9h-.9zM295.5 336.0h.9v.9h-.9zM302.0 332.7h.9v.9h-.9zM293.5 340.9h.9v.9h-.9zM301.3 341.5h.9v.9h-.9zM295.9 340.1h.9v.9h-.9zM299.4 337.3h.9v.9h-.9zM299.6 339.9h.9v.9h-.9zM303.4 336.7h.9v.9h-.9zM295.8 339.0h.9v.9h-.9zM298.6 338.6h.9v.9h-.9zM300.9 342.1h.9v.9h-.9zM303.7 334.8h.9v.9h-.9zM301.2 342.6h.9v.9h-.9zM298.4 337.9h.9v.9h-.9zM303.9 340.8h.9v.9h-.9zM296.1 337.3h.9v.9h-.9zM301.3 345.3h.9v.9h-.9zM297.3 340.4h.9v.9h-.9z" fill="#999" fill-opacity="0.35"/>
<path d="M301.5 335.7h.9v.9h-.9zM293.5 343.1h.9v.9h-.9zM295.1 341.8h.9v.9h-.9zM300.0 339.2h.9v.9h-.9zM299.9 339.9h.9v.9h-.9zM294.9 344.5h.9v.9h-.9zM294.7 343.5h.9v.9h-.9zM296.9 345.3h.9v.9h-.9zM295.8 346.7h.9v.9h-.9zM291.2 344.9h.9v.9h-.9zM295.0 339.2h.9v.9h-.9zM304.9 338.5h.9v.9h-.9zM303.6 348.2h.9v.9h-.9zM297.0 341.9h.9v.9h-.9zM295.5 339.9h.9v.9h-.9zM299.8 343.7h.9v.9h-.9zM298.5 349.3h.9v.9h-.9zM296.0 344.3h.9v.9h-.9zM304.9 338.4h.9v.9h-.9zM302.8 349.7h.9v.9h-.9zM290.8 338.0h.9v.9h-.9zM292.4 335.0h.9v.9h-.9zM299.9 335.0h.9v.9h-.9zM300.1 348.2h.9v.9h-.9zM293.9 341.3h.9v.9h-.9zM297.9 344.6h.9v.9h-.9zM295.9 342.5h.9v.9h-.9zM294.9 342.9h.9v.9h-.9zM291.7 342.7h.9v.9h-.9zM291.3 343.4h.9v.9h-.9zM292.7 335.8h.9v.9h-.9zM293.9 345.3h.9v.9h-.9z" fill="#aaa" fill-opacity="0.25"/>
<path d="M295.2 330.5 L294.8 318 L295.8 305 L298.8 298 L304.2 295.8 L304.6 305 L304.2 318 L304.0 330.5 Z" fill="#f07070" fill-opacity="0.6" filter="url(#b1)"/>
<ellipse cx="299.40" cy="317.00" rx="3.0" ry="10.5" fill="#e83434" fill-opacity="0.6" transform="rotate(3 299.40 317.00)" filter="url(#b1)"/>
<path d="M300.7 314.3h.9v.9h-.9zM297.8 306.2h.9v.9h-.9zM303.2 317.3h.9v.9h-.9zM298.4 297.9h.9v.9h-.9zM296.4 314.1h.9v.9h-.9zM300.3 313.8h.9v.9h-.9zM299.8 304.0h.9v.9h-.9zM295.5 328.2h.9v.9h-.9zM296.9 321.6h.9v.9h-.9zM295.1 312.4h.9v.9h-.9zM299.6 323.3h.9v.9h-.9zM296.1 319.5h.9v.9h-.9zM301.2 309.2h.9v.9h-.9zM301.6 308.0h.9v.9h-.9zM297.4 314.7h.9v.9h-.9zM292.1 313.5h.9v.9h-.9zM297.8 303.1h.9v.9h-.9zM297.9 321.0h.9v.9h-.9zM297.6 325.0h.9v.9h-.9zM297.3 304.3h.9v.9h-.9zM303.6 318.6h.9v.9h-.9zM302.8 308.6h.9v.9h-.9zM301.7 317.3h.9v.9h-.9zM301.4 315.4h.9v.9h-.9zM303.4 310.1h.9v.9h-.9zM297.9 303.0h.9v.9h-.9zM303.4 309.4h.9v.9h-.9zM297.3 307.3h.9v.9h-.9zM299.2 304.8h.9v.9h-.9zM299.2 309.9h.9v.9h-.9zM298.7 307.2h.9v.9h-.9zM300.0 311.3h.9v.9h-.9zM299.7 317.0h.9v.9h-.9zM302.1 297.6h.9v.9h-.9zM298.7 308.5h.9v.9h-.9zM302.9 302.6h.9v.9h-.9zM297.8 312.5h.9v.9h-.9zM298.0 322.8h.9v.9h-.9zM297.7 322.6h.9v.9h-.9zM296.8 300.2h.9v.9h-.9zM302.7 318.8h.9v.9h-.9zM300.9 316.1h.9v.9h-.9zM301.8 305.4h.9v.9h-.9zM302.6 311.0h.9v.9h-.9zM302.3 315.9h.9v.9h-.9zM295.0 304.3h.9v.9h-.9zM302.8 314.2h.9v.9h-.9zM298.3 316.8h.9v.9h-.9zM298.8 310.6h.9v.9h-.9zM299.8 316.2h.9v.9h-.9zM303.8 315.7h.9v.9h-.9zM303.6 329.8h.9v.9h-.9zM303.6 323.9h.9v.9h-.9zM299.9 316.1h.9v.9h-.9zM299.7 309.1h.9v.9h-.9zM299.9 309.9h.9v.9h-.9zM303.8 319.7h.9v.9h-.9zM299.7 299.6h.9v.9h-.9zM299.7 311.7h.9v.9h-.9zM297.4 305.7h.9v.9h-.9zM292.9 319.0h.9v.9h-.9zM299.6 313.8h.9v.9h-.9zM303.5 316.4h.9v.9h-.9zM300.3 312.1h.9v.9h-.9zM296.9 326.8h.9v.9h-.9zM301.2 328.9h.9v.9h-.9zM298.6 315.2h.9v.9h-.9zM296.5 322.5h.9v.9h-.9zM295.3 319.2h.9v.9h-.9zM301.7 326.5h.9v.9h-.9zM296.2 323.5h.9v.9h-.9zM298.1 308.8h.9v.9h-.9zM295.1 323.9h.9v.9h-.9zM304.6 310.7h.9v.9h-.9zM297.7 312.1h.9v.9h-.9zM305.9 323.6h.9v.9h-.9zM299.3 300.6h.9v.9h-.9zM296.9 324.3h.9v.9h-.9zM305.0 313.3h.9v.9h-.9zM298.0 310.8h.9v.9h-.9zM293.7 321.8h.9v.9h-.9zM295.8 323.2h.9v.9h-.9zM295.7 304.5h.9v.9h-.9zM300.9 309.0h.9v.9h-.9zM301.8 315.3h.9v.9h-.9zM295.9 319.7h.9v.9h-.9zM303.3 300.0h.9v.9h-.9zM304.3 319.4h.9v.9h-.9zM303.0 300.4h.9v.9h-.9zM297.8 312.0h.9v.9h-.9zM303.6 303.6h.9v.9h-.9zM298.5 298.6h.9v.9h-.9zM298.7 317.7h.9v.9h-.9zM295.3 309.9h.9v.9h-.9zM299.9 327.8h.9v.9h-.9zM301.7 312.7h.9v.9h-.9zM297.0 307.2h.9v.9h-.9zM297.6 316.0h.9v.9h-.9zM298.3 328.3h.9v.9h-.9zM301.1 306.5h.9v.9h-.9zM303.2 322.9h.9v.9h-.9zM300.4 309.3h.9v.9h-.9zM295.1 306.4h.9v.9h-.9zM302.7 308.8h.9v.9h-.9zM295.8 316.2h.9v.9h-.9zM299.9 319.9h.9v.9h-.9zM300.4 326.4h.9v.9h-.9zM296.6 322.6h.9v.9h-.9zM296.4 320.3h.9v.9h-.9zM299.9 317.0h.9v.9h-.9zM302.3 315.1h.9v.9h-.9zM302.1 322.2h.9v.9h-.9zM300.4 310.5h.9v.9h-.9zM297.9 310.6h.9v.9h-.9zM299.1 314.8h.9v.9h-.9zM307.5 320.8h.9v.9h-.9zM302.3 308.3h.9v.9h-.9zM297.8 312.3h.9v.9h-.9zM300.9 306.8h.9v.9h-.9zM304.5 310.9h.9v.9h-.9zM304.2 296.6h.9v.9h-.9zM299.4 317.2h.9v.9h-.9zM299.7 319.8h.9v.9h-.9zM300.3 316.4h.9v.9h-.9zM294.8 308.9h.9v.9h-.9zM292.6 319.4h.9v.9h-.9zM300.6 313.5h.9v.9h-.9zM297.7 310.2h.9v.9h-.9zM303.5 329.2h.9v.9h-.9zM298.5 325.3h.9v.9h-.9zM296.5 299.2h.9v.9h-.9zM298.9 307.9h.9v.9h-.9zM297.9 316.4h.9v.9h-.9zM308.5 310.5h.9v.9h-.9zM299.5 317.2h.9v.9h-.9zM298.9 322.4h.9v.9h-.9zM305.4 305.5h.9v.9h-.9zM300.2 312.9h.9v.9h-.9zM301.7 302.9h.9v.9h-.9zM296.3 296.1h.9v.9h-.9zM300.9 316.7h.9v.9h-.9zM301.5 296.2h.9v.9h-.9zM299.1 308.9h.9v.9h-.9zM296.3 307.4h.9v.9h-.9zM301.2 319.5h.9v.9h-.9zM299.2 319.1h.9v.9h-.9zM297.9 315.4h.9v.9h-.9zM299.3 319.4h.9v.9h-.9zM299.5 313.8h.9v.9h-.9zM299.7 309.8h.9v.9h-.9zM305.5 319.6h.9v.9h-.9zM304.6 302.9h.9v.9h-.9zM301.0 321.8h.9v.9h-.9zM303.9 325.9h.9v.9h-.9zM302.6 305.8h.9v.9h-.9zM297.0 316.9h.9v.9h-.9zM301.7 307.0h.9v.9h-.9zM298.8 311.7h.9v.9h-.9zM299.5 317.7h.9v.9h-.9zM299.7 305.1h.9v.9h-.9zM302.0 328.0h.9v.9h-.9zM298.6 323.1h.9v.9h-.9zM300.4 320.4h.9v.9h-.9zM301.5 309.0h.9v.9h-.9zM300.5 323.2h.9v.9h-.9zM295.7 330.5h.9v.9h-.9zM304.2 330.0h.9v.9h-.9zM304.6 321.4h.9v.9h-.9zM299.1 310.1h.9v.9h-.9zM297.3 315.7h.9v.9h-.9zM299.0 320.3h.9v.9h-.9zM306.0 315.3h.9v.9h-.9zM301.2 319.0h.9v.9h-.9zM300.5 313.4h.9v.9h-.9zM299.8 308.4h.9v.9h-.9zM300.1 314.9h.9v.9h-.9zM301.1 308.3h.9v.9h-.9zM299.7 315.4h.9v.9h-.9zM302.0 306.7h.9v.9h-.9zM300.1 322.9h.9v.9h-.9zM301.5 312.2h.9v.9h-.9zM298.4 313.0h.9v.9h-.9zM300.6 327.6h.9v.9h-.9zM299.6 309.8h.9v.9h-.9zM300.5 316.7h.9v.9h-.9zM297.6 308.9h.9v.9h-.9zM298.8 320.3h.9v.9h-.9zM297.0 306.6h.9v.9h-.9zM301.8 305.4h.9v.9h-.9zM299.7 317.8h.9v.9h-.9zM300.0 306.9h.9v.9h-.9zM299.7 312.3h.9v.9h-.9zM301.1 308.4h.9v.9h-.9zM303.8 301.9h.9v.9h-.9zM299.1 315.0h.9v.9h-.9zM302.7 310.4h.9v.9h-.9zM301.5 310.6h.9v.9h-.9zM300.4 329.0h.9v.9h-.9zM298.2 318.4h.9v.9h-.9zM296.3 322.5h.9v.9h-.9zM303.0 315.6h.9v.9h-.9zM296.2 317.9h.9v.9h-.9zM302.0 324.0h.9v.9h-.9zM303.1 300.6h.9v.9h-.9zM296.7 326.2h.9v.9h-.9zM295.4 323.7h.9v.9h-.9zM304.3 321.5h.9v.9h-.9zM303.0 312.6h.9v.9h-.9zM296.3 313.9h.9v.9h-.9zM299.1 314.6h.9v.9h-.9zM301.6 314.0h.9v.9h-.9zM299.8 318.4h.9v.9h-.9zM298.3 329.7h.9v.9h-.9zM300.8 315.8h.9v.9h-.9zM299.5 310.0h.9v.9h-.9zM303.2 316.5h.9v.9h-.9zM297.0 310.3h.9v.9h-.9zM299.5 311.4h.9v.9h-.9zM303.4 306.0h.9v.9h-.9zM300.9 316.3h.9v.9h-.9zM296.3 315.1h.9v.9h-.9zM299.0 319.0h.9v.9h-.9zM298.1 317.3h.9v.9h-.9zM295.7 306.0h.9v.9h-.9zM301.1 323.5h.9v.9h-.9zM300.0 310.2h.9v.9h-.9zM304.1 298.6h.9v.9h-.9zM296.9 320.2h.9v.9h-.9zM302.1 306.9h.9v.9h-.9zM293.3 326.1h.9v.9h-.9zM300.7 307.9h.9v.9h-.9zM299.1 322.2h.9v.9h-.9zM291.6 323.2h.9v.9h-.9zM303.1 298.6h.9v.9h-.9zM303.0 301.0h.9v.9h-.9zM302.5 318.5h.9v.9h-.9z" fill="#d82020" fill-opacity="0.25"/>
<rect x="307.3" y="334.0" width="36" height="14.2" rx="4" fill="#b09ada" fill-opacity="0.55" filter="url(#b1)"/>
<ellipse cx="319.50" cy="341.30" rx="11" ry="4.4" fill="#9478cc" fill-opacity="0.45" transform="rotate(0 319.50 341.30)" filter="url(#b1)"/>
<path d="M347.3 338.6h.9v.9h-.9zM322.6 345.2h.9v.9h-.9zM315.5 338.2h.9v.9h-.9zM318.4 340.7h.9v.9h-.9zM310.6 342.9h.9v.9h-.9zM328.5 341.3h.9v.9h-.9zM341.2 339.7h.9v.9h-.9zM336.9 338.8h.9v.9h-.9zM330.8 333.3h.9v.9h-.9zM324.7 340.3h.9v.9h-.9zM317.1 338.6h.9v.9h-.9zM318.7 338.1h.9v.9h-.9zM316.5 338.9h.9v.9h-.9zM310.9 340.5h.9v.9h-.9zM331.1 340.0h.9v.9h-.9zM317.1 346.4h.9v.9h-.9zM333.2 344.7h.9v.9h-.9zM335.2 339.7h.9v.9h-.9zM321.1 345.5h.9v.9h-.9zM316.4 340.5h.9v.9h-.9zM326.7 342.5h.9v.9h-.9zM319.5 344.9h.9v.9h-.9zM320.5 343.9h.9v.9h-.9zM334.3 343.6h.9v.9h-.9zM330.6 336.4h.9v.9h-.9zM308.1 338.5h.9v.9h-.9zM327.7 347.0h.9v.9h-.9zM309.1 342.2h.9v.9h-.9zM313.1 338.1h.9v.9h-.9zM319.5 343.8h.9v.9h-.9zM324.8 345.7h.9v.9h-.9zM311.7 344.6h.9v.9h-.9zM332.7 341.3h.9v.9h-.9zM327.7 338.7h.9v.9h-.9zM310.5 339.4h.9v.9h-.9zM317.2 347.6h.9v.9h-.9zM324.7 342.2h.9v.9h-.9zM330.7 337.9h.9v.9h-.9zM332.6 342.5h.9v.9h-.9zM328.6 342.8h.9v.9h-.9zM339.9 339.3h.9v.9h-.9zM328.1 344.0h.9v.9h-.9zM312.6 345.8h.9v.9h-.9zM306.5 335.8h.9v.9h-.9zM328.2 336.6h.9v.9h-.9zM321.2 334.4h.9v.9h-.9zM323.3 336.5h.9v.9h-.9zM326.3 334.9h.9v.9h-.9zM327.4 339.9h.9v.9h-.9zM323.2 340.7h.9v.9h-.9zM323.9 335.7h.9v.9h-.9zM312.2 339.2h.9v.9h-.9zM327.2 333.1h.9v.9h-.9zM314.1 338.6h.9v.9h-.9zM310.9 342.3h.9v.9h-.9zM321.0 337.7h.9v.9h-.9zM311.7 344.2h.9v.9h-.9zM315.2 343.3h.9v.9h-.9zM327.4 333.4h.9v.9h-.9zM310.6 341.0h.9v.9h-.9zM326.3 344.1h.9v.9h-.9zM331.3 345.1h.9v.9h-.9zM318.4 340.2h.9v.9h-.9zM331.0 339.3h.9v.9h-.9zM334.1 334.6h.9v.9h-.9zM329.7 340.3h.9v.9h-.9zM325.9 341.1h.9v.9h-.9zM310.7 339.1h.9v.9h-.9zM339.1 337.7h.9v.9h-.9zM309.3 340.5h.9v.9h-.9zM318.2 337.4h.9v.9h-.9zM313.2 345.2h.9v.9h-.9zM306.6 348.8h.9v.9h-.9zM316.5 336.6h.9v.9h-.9zM331.2 343.3h.9v.9h-.9zM311.0 344.0h.9v.9h-.9zM334.9 340.0h.9v.9h-.9zM308.2 343.1h.9v.9h-.9zM332.6 340.9h.9v.9h-.9zM327.1 344.1h.9v.9h-.9zM342.9 340.0h.9v.9h-.9zM317.2 340.8h.9v.9h-.9zM335.8 337.2h.9v.9h-.9zM331.3 338.3h.9v.9h-.9zM327.6 343.8h.9v.9h-.9zM309.5 340.7h.9v.9h-.9zM325.1 343.3h.9v.9h-.9zM312.3 337.0h.9v.9h-.9zM320.4 340.1h.9v.9h-.9zM316.6 346.7h.9v.9h-.9zM331.9 341.1h.9v.9h-.9zM330.5 336.6h.9v.9h-.9zM318.9 338.7h.9v.9h-.9zM308.5 341.1h.9v.9h-.9zM320.9 346.7h.9v.9h-.9zM312.4 339.1h.9v.9h-.9zM327.1 342.6h.9v.9h-.9zM322.8 339.1h.9v.9h-.9zM327.9 342.4h.9v.9h-.9zM307.4 336.3h.9v.9h-.9zM324.1 341.2h.9v.9h-.9zM323.8 337.5h.9v.9h-.9zM320.3 337.3h.9v.9h-.9zM326.7 343.8h.9v.9h-.9zM341.8 346.1h.9v.9h-.9zM313.6 339.2h.9v.9h-.9zM312.2 342.2h.9v.9h-.9zM344.3 343.8h.9v.9h-.9zM308.3 343.1h.9v.9h-.9zM322.5 342.2h.9v.9h-.9zM342.1 337.7h.9v.9h-.9zM313.2 348.9h.9v.9h-.9zM326.3 337.9h.9v.9h-.9zM323.0 345.0h.9v.9h-.9zM321.0 338.2h.9v.9h-.9zM314.3 348.6h.9v.9h-.9zM322.8 343.5h.9v.9h-.9zM318.0 343.0h.9v.9h-.9zM331.5 340.4h.9v.9h-.9zM317.5 340.3h.9v.9h-.9zM311.9 340.2h.9v.9h-.9zM319.2 341.8h.9v.9h-.9zM337.2 346.2h.9v.9h-.9zM317.6 343.4h.9v.9h-.9zM325.7 344.0h.9v.9h-.9zM322.7 342.1h.9v.9h-.9zM317.3 337.9h.9v.9h-.9zM332.1 346.2h.9v.9h-.9zM329.8 342.7h.9v.9h-.9zM325.4 339.2h.9v.9h-.9zM324.7 338.8h.9v.9h-.9zM311.9 346.1h.9v.9h-.9zM314.6 340.9h.9v.9h-.9zM316.9 341.6h.9v.9h-.9zM320.2 338.0h.9v.9h-.9zM334.3 337.9h.9v.9h-.9zM316.9 343.2h.9v.9h-.9zM316.6 339.3h.9v.9h-.9zM326.4 339.5h.9v.9h-.9zM308.8 340.6h.9v.9h-.9zM320.1 347.8h.9v.9h-.9zM310.4 344.9h.9v.9h-.9zM313.9 339.6h.9v.9h-.9zM318.9 342.1h.9v.9h-.9zM332.0 348.0h.9v.9h-.9zM315.5 346.3h.9v.9h-.9zM333.4 344.3h.9v.9h-.9zM314.1 344.6h.9v.9h-.9zM321.3 342.4h.9v.9h-.9zM319.5 343.7h.9v.9h-.9zM334.8 345.5h.9v.9h-.9zM320.2 345.0h.9v.9h-.9zM338.5 337.3h.9v.9h-.9zM338.7 335.7h.9v.9h-.9zM328.5 343.4h.9v.9h-.9zM338.8 342.1h.9v.9h-.9zM317.2 337.8h.9v.9h-.9zM308.7 344.1h.9v.9h-.9zM319.9 338.1h.9v.9h-.9zM328.4 337.9h.9v.9h-.9zM317.7 339.2h.9v.9h-.9zM340.7 346.9h.9v.9h-.9zM320.8 334.7h.9v.9h-.9zM325.5 341.3h.9v.9h-.9zM326.3 343.3h.9v.9h-.9zM319.0 344.7h.9v.9h-.9zM331.7 341.8h.9v.9h-.9zM318.0 339.1h.9v.9h-.9zM330.1 336.6h.9v.9h-.9zM320.7 338.0h.9v.9h-.9zM307.2 343.4h.9v.9h-.9zM322.2 341.1h.9v.9h-.9zM332.1 335.0h.9v.9h-.9zM321.8 342.2h.9v.9h-.9zM331.7 336.7h.9v.9h-.9zM330.4 341.9h.9v.9h-.9zM337.4 345.6h.9v.9h-.9zM328.5 349.6h.9v.9h-.9zM322.5 339.3h.9v.9h-.9zM318.8 337.2h.9v.9h-.9zM322.2 333.5h.9v.9h-.9zM321.6 342.7h.9v.9h-.9zM333.4 339.6h.9v.9h-.9zM337.8 338.4h.9v.9h-.9zM321.0 333.5h.9v.9h-.9zM314.1 337.8h.9v.9h-.9zM338.5 343.1h.9v.9h-.9zM310.6 343.1h.9v.9h-.9zM327.7 340.1h.9v.9h-.9zM322.7 339.8h.9v.9h-.9zM316.7 334.1h.9v.9h-.9zM321.5 346.0h.9v.9h-.9zM337.9 339.9h.9v.9h-.9zM314.5 340.2h.9v.9h-.9zM332.1 342.4h.9v.9h-.9zM316.2 342.4h.9v.9h-.9zM320.3 343.0h.9v.9h-.9zM318.1 335.3h.9v.9h-.9zM323.1 344.0h.9v.9h-.9zM310.6 340.6h.9v.9h-.9zM331.9 339.5h.9v.9h-.9zM315.5 348.9h.9v.9h-.9zM331.4 345.0h.9v.9h-.9zM312.4 347.4h.9v.9h-.9zM330.4 346.2h.9v.9h-.9zM312.5 338.4h.9v.9h-.9zM324.6 333.5h.9v.9h-.9zM329.3 343.2h.9v.9h-.9zM317.7 343.1h.9v.9h-.9zM330.8 342.2h.9v.9h-.9zM328.1 346.9h.9v.9h-.9zM317.4 341.6h.9v.9h-.9zM316.9 345.0h.9v.9h-.9zM318.2 342.8h.9v.9h-.9zM324.0 341.3h.9v.9h-.9zM340.8 340.7h.9v.9h-.9zM337.6 344.2h.9v.9h-.9zM336.6 340.4h.9v.9h-.9zM332.4 343.9h.9v.9h-.9zM316.0 342.0h.9v.9h-.9zM321.1 340.9h.9v.9h-.9zM336.3 338.2h.9v.9h-.9zM317.7 338.5h.9v.9h-.9zM322.7 343.2h.9v.9h-.9zM341.2 342.2h.9v.9h-.9zM327.4 338.2h.9v.9h-.9zM328.7 346.2h.9v.9h-.9zM336.7 333.5h.9v.9h-.9zM331.9 347.1h.9v.9h-.9zM331.3 335.2h.9v.9h-.9zM319.2 343.3h.9v.9h-.9zM326.9 337.9h.9v.9h-.9zM313.1 344.7h.9v.9h-.9zM308.4 346.5h.9v.9h-.9zM322.7 342.2h.9v.9h-.9zM308.4 338.7h.9v.9h-.9zM329.8 335.3h.9v.9h-.9zM344.4 335.6h.9v.9h-.9zM309.6 341.2h.9v.9h-.9zM327.6 343.8h.9v.9h-.9zM318.6 340.2h.9v.9h-.9zM320.0 338.8h.9v.9h-.9zM325.2 341.6h.9v.9h-.9zM315.9 342.0h.9v.9h-.9zM322.4 340.7h.9v.9h-.9zM334.2 334.4h.9v.9h-.9zM325.2 336.9h.9v.9h-.9zM319.1 346.8h.9v.9h-.9zM311.0 340.6h.9v.9h-.9zM316.2 344.6h.9v.9h-.9zM312.2 334.5h.9v.9h-.9zM327.9 339.6h.9v.9h-.9zM319.1 345.2h.9v.9h-.9zM313.1 339.6h.9v.9h-.9zM324.1 342.6h.9v.9h-.9zM317.0 345.0h.9v.9h-.9zM346.2 339.4h.9v.9h-.9zM342.3 332.9h.9v.9h-.9zM337.4 339.7h.9v.9h-.9zM324.0 339.7h.9v.9h-.9zM315.8 336.1h.9v.9h-.9zM318.3 346.0h.9v.9h-.9zM334.5 339.7h.9v.9h-.9zM316.9 338.3h.9v.9h-.9zM309.8 347.9h.9v.9h-.9zM329.5 341.5h.9v.9h-.9zM317.3 337.1h.9v.9h-.9zM336.4 344.0h.9v.9h-.9zM312.4 344.8h.9v.9h-.9zM310.8 343.5h.9v.9h-.9zM312.4 339.4h.9v.9h-.9zM327.7 342.7h.9v.9h-.9zM333.2 337.8h.9v.9h-.9zM339.2 346.2h.9v.9h-.9zM322.4 342.8h.9v.9h-.9zM314.3 340.4h.9v.9h-.9zM308.6 341.3h.9v.9h-.9zM324.6 346.2h.9v.9h-.9zM332.5 344.1h.9v.9h-.9zM318.7 340.1h.9v.9h-.9zM318.9 341.9h.9v.9h-.9zM322.7 339.0h.9v.9h-.9zM340.1 340.6h.9v.9h-.9zM339.1 345.5h.9v.9h-.9zM317.3 342.5h.9v.9h-.9zM336.2 339.7h.9v.9h-.9zM323.4 338.9h.9v.9h-.9zM323.1 339.6h.9v.9h-.9zM323.4 344.8h.9v.9h-.9zM337.2 341.5h.9v.9h-.9zM324.6 344.3h.9v.9h-.9zM319.4 336.9h.9v.9h-.9zM334.2 337.4h.9v.9h-.9zM332.3 337.3h.9v.9h-.9zM341.8 337.0h.9v.9h-.9zM331.5 346.8h.9v.9h-.9zM312.4 346.7h.9v.9h-.9zM313.8 334.2h.9v.9h-.9zM330.1 343.7h.9v.9h-.9zM321.9 339.8h.9v.9h-.9zM318.5 339.9h.9v.9h-.9zM341.5 346.9h.9v.9h-.9zM318.7 338.3h.9v.9h-.9zM326.7 345.1h.9v.9h-.9zM330.1 336.5h.9v.9h-.9zM324.2 341.5h.9v.9h-.9zM337.7 345.6h.9v.9h-.9zM328.0 345.7h.9v.9h-.9zM318.3 346.9h.9v.9h-.9zM318.0 342.5h.9v.9h-.9zM332.2 337.5h.9v.9h-.9zM315.1 334.2h.9v.9h-.9zM324.2 340.8h.9v.9h-.9zM319.0 342.9h.9v.9h-.9zM323.4 340.0h.9v.9h-.9zM330.9 347.7h.9v.9h-.9zM317.8 337.4h.9v.9h-.9zM316.1 341.4h.9v.9h-.9zM328.7 337.7h.9v.9h-.9zM333.1 337.1h.9v.9h-.9zM331.2 342.6h.9v.9h-.9zM327.4 349.3h.9v.9h-.9zM319.7 340.4h.9v.9h-.9zM327.5 344.3h.9v.9h-.9zM308.4 342.1h.9v.9h-.9zM314.7 343.4h.9v.9h-.9zM337.0 341.2h.9v.9h-.9zM321.4 341.7h.9v.9h-.9zM328.4 341.6h.9v.9h-.9zM318.3 338.2h.9v.9h-.9zM320.6 345.7h.9v.9h-.9zM321.4 346.2h.9v.9h-.9zM325.4 340.9h.9v.9h-.9zM335.7 336.0h.9v.9h-.9zM312.0 336.8h.9v.9h-.9zM316.7 343.5h.9v.9h-.9zM328.8 333.2h.9v.9h-.9zM337.9 338.7h.9v.9h-.9zM316.3 347.4h.9v.9h-.9zM321.6 336.2h.9v.9h-.9zM315.8 338.2h.9v.9h-.9zM311.8 339.7h.9v.9h-.9zM331.8 342.3h.9v.9h-.9zM312.0 341.4h.9v.9h-.9zM322.8 343.9h.9v.9h-.9zM319.0 342.8h.9v.9h-.9zM344.7 341.4h.9v.9h-.9zM311.1 342.3h.9v.9h-.9z" fill="#6a40b0" fill-opacity="0.2"/>
<path d="M321.4 309.5h.9v.9h-.9zM329.9 314.3h.9v.9h-.9zM325.8 317.7h.9v.9h-.9zM326.6 303.2h.9v.9h-.9zM335.9 309.6h.9v.9h-.9zM338.8 307.6h.9v.9h-.9zM333.2 314.1h.9v.9h-.9zM318.6 321.5h.9v.9h-.9zM312.0 318.1h.9v.9h-.9zM337.7 315.3h.9v.9h-.9zM334.1 308.7h.9v.9h-.9zM328.2 313.5h.9v.9h-.9zM331.9 316.8h.9v.9h-.9zM326.5 307.3h.9v.9h-.9zM323.4 314.8h.9v.9h-.9zM313.9 303.6h.9v.9h-.9zM324.7 308.3h.9v.9h-.9zM326.0 294.1h.9v.9h-.9zM325.4 310.3h.9v.9h-.9zM335.0 298.7h.9v.9h-.9zM325.7 315.2h.9v.9h-.9zM332.5 320.0h.9v.9h-.9zM337.4 304.9h.9v.9h-.9zM333.8 309.7h.9v.9h-.9zM321.4 322.3h.9v.9h-.9zM322.9 306.3h.9v.9h-.9zM324.8 306.3h.9v.9h-.9zM337.0 314.6h.9v.9h-.9zM340.4 314.8h.9v.9h-.9zM323.0 319.0h.9v.9h-.9zM322.6 308.9h.9v.9h-.9zM326.8 312.3h.9v.9h-.9zM338.6 307.9h.9v.9h-.9zM331.3 311.8h.9v.9h-.9zM317.4 304.6h.9v.9h-.9zM326.4 314.7h.9v.9h-.9zM331.1 315.2h.9v.9h-.9zM328.7 309.0h.9v.9h-.9zM332.0 305.2h.9v.9h-.9zM316.7 309.8h.9v.9h-.9zM315.9 308.5h.9v.9h-.9zM321.8 308.3h.9v.9h-.9zM327.9 306.6h.9v.9h-.9zM324.6 300.5h.9v.9h-.9zM329.6 306.1h.9v.9h-.9zM331.8 292.9h.9v.9h-.9zM321.3 313.6h.9v.9h-.9zM329.1 312.7h.9v.9h-.9zM315.3 313.5h.9v.9h-.9zM329.6 305.4h.9v.9h-.9zM334.8 311.7h.9v.9h-.9zM328.5 309.0h.9v.9h-.9zM333.1 312.7h.9v.9h-.9zM338.2 315.1h.9v.9h-.9zM322.9 310.5h.9v.9h-.9zM336.3 309.5h.9v.9h-.9zM331.6 315.5h.9v.9h-.9zM326.7 296.3h.9v.9h-.9zM329.4 313.4h.9v.9h-.9zM329.5 306.9h.9v.9h-.9zM338.8 311.1h.9v.9h-.9zM322.9 307.1h.9v.9h-.9zM331.4 304.6h.9v.9h-.9zM319.6 325.5h.9v.9h-.9zM339.7 319.1h.9v.9h-.9zM340.2 316.0h.9v.9h-.9zM313.6 320.1h.9v.9h-.9zM339.1 315.3h.9v.9h-.9zM311.3 320.4h.9v.9h-.9zM340.2 308.7h.9v.9h-.9zM329.4 317.3h.9v.9h-.9zM327.6 319.4h.9v.9h-.9zM329.0 316.7h.9v.9h-.9zM329.0 302.0h.9v.9h-.9zM330.7 320.9h.9v.9h-.9zM338.2 323.6h.9v.9h-.9zM333.1 308.0h.9v.9h-.9zM328.5 299.0h.9v.9h-.9zM326.7 318.2h.9v.9h-.9zM335.5 321.0h.9v.9h-.9zM320.2 307.6h.9v.9h-.9zM311.9 305.1h.9v.9h-.9zM333.0 326.1h.9v.9h-.9zM318.3 321.4h.9v.9h-.9zM332.0 308.6h.9v.9h-.9zM347.5 294.9h.9v.9h-.9zM327.7 313.5h.9v.9h-.9zM346.9 324.2h.9v.9h-.9zM348.1 312.9h.9v.9h-.9zM336.9 321.3h.9v.9h-.9zM332.8 314.4h.9v.9h-.9zM326.7 309.2h.9v.9h-.9zM317.6 325.3h.9v.9h-.9zM324.4 297.9h.9v.9h-.9zM330.6 311.8h.9v.9h-.9zM329.8 324.3h.9v.9h-.9zM327.4 310.2h.9v.9h-.9zM321.8 311.8h.9v.9h-.9zM324.5 313.4h.9v.9h-.9zM355.6 314.7h.9v.9h-.9zM320.8 325.1h.9v.9h-.9zM335.9 317.6h.9v.9h-.9zM334.6 317.6h.9v.9h-.9zM334.2 321.6h.9v.9h-.9zM337.1 321.2h.9v.9h-.9zM323.9 312.0h.9v.9h-.9z" fill="#a8a8c0" fill-opacity="0.18"/>
<rect x="289.6" y="279.2" width="71.0" height="71.60000000000002" fill="none" stroke="#333" stroke-width="0.8"/>
<line x1="289.60" y1="279.20" x2="289.60" y2="350.80" stroke="#222" stroke-width="1.1"/>
<line x1="289.60" y1="350.80" x2="360.60" y2="350.80" stroke="#222" stroke-width="1.1"/>
<line x1="310.30" y1="279.20" x2="310.30" y2="331.40" stroke="#333" stroke-width="0.9"/>
<line x1="289.60" y1="331.40" x2="360.60" y2="331.40" stroke="#333" stroke-width="0.9"/>
<line x1="305.50" y1="331.40" x2="305.50" y2="350.80" stroke="#333" stroke-width="0.9"/>
<line x1="290.60" y1="350.80" x2="290.60" y2="352.00" stroke="#444" stroke-width="0.5"/>
<line x1="292.37" y1="350.80" x2="292.37" y2="352.00" stroke="#444" stroke-width="0.5"/>
<line x1="294.14" y1="350.80" x2="294.14" y2="352.00" stroke="#444" stroke-width="0.5"/>
<line x1="295.91" y1="350.80" x2="295.91" y2="352.00" stroke="#444" stroke-width="0.5"/>
<line x1="297.68" y1="350.80" x2="297.68" y2="352.00" stroke="#444" stroke-width="0.5"/>
<line x1="299.45" y1="350.80" x2="299.45" y2="352.00" stroke="#444" stroke-width="0.5"/>
<line x1="301.22" y1="350.80" x2="301.22" y2="352.00" stroke="#444" stroke-width="0.5"/>
<line x1="302.98" y1="350.80" x2="302.98" y2="352.00" stroke="#444" stroke-width="0.5"/>
<line x1="304.75" y1="350.80" x2="304.75" y2="352.00" stroke="#444" stroke-width="0.5"/>
<line x1="306.52" y1="350.80" x2="306.52" y2="352.00" stroke="#444" stroke-width="0.5"/>
<line x1="308.29" y1="350.80" x2="308.29" y2="352.00" stroke="#444" stroke-width="0.5"/>
<line x1="310.06" y1="350.80" x2="310.06" y2="352.00" stroke="#444" stroke-width="0.5"/>
<line x1="311.83" y1="350.80" x2="311.83" y2="352.00" stroke="#444" stroke-width="0.5"/>
<line x1="313.60" y1="350.80" x2="313.60" y2="352.00" stroke="#444" stroke-width="0.5"/>
<line x1="315.37" y1="350.80" x2="315.37" y2="352.00" stroke="#444" stroke-width="0.5"/>
<line x1="317.14" y1="350.80" x2="317.14" y2="352.00" stroke="#444" stroke-width="0.5"/>
<line x1="318.91" y1="350.80" x2="318.91" y2="352.00" stroke="#444" stroke-width="0.5"/>
<line x1="320.68" y1="350.80" x2="320.68" y2="352.00" stroke="#444" stroke-width="0.5"/>
<line x1="322.45" y1="350.80" x2="322.45" y2="352.00" stroke="#444" stroke-width="0.5"/>
<line x1="324.22" y1="350.80" x2="324.22" y2="352.00" stroke="#444" stroke-width="0.5"/>
<line x1="325.98" y1="350.80" x2="325.98" y2="352.00" stroke="#444" stroke-width="0.5"/>
<line x1="327.75" y1="350.80" x2="327.75" y2="352.00" stroke="#444" stroke-width="0.5"/>
<line x1="329.52" y1="350.80" x2="329.52" y2="352.00" stroke="#444" stroke-width="0.5"/>
<line x1="331.29" y1="350.80" x2="331.29" y2="352.00" stroke="#444" stroke-width="0.5"/>
<line x1="333.06" y1="350.80" x2="333.06" y2="352.00" stroke="#444" stroke-width="0.5"/>
<line x1="334.83" y1="350.80" x2="334.83" y2="352.00" stroke="#444" stroke-width="0.5"/>
<line x1="336.60" y1="350.80" x2="336.60" y2="352.00" stroke="#444" stroke-width="0.5"/>
<line x1="338.37" y1="350.80" x2="338.37" y2="352.00" stroke="#444" stroke-width="0.5"/>
<line x1="340.14" y1="350.80" x2="340.14" y2="352.00" stroke="#444" stroke-width="0.5"/>
<line x1="341.91" y1="350.80" x2="341.91" y2="352.00" stroke="#444" stroke-width="0.5"/>
<line x1="343.68" y1="350.80" x2="343.68" y2="352.00" stroke="#444" stroke-width="0.5"/>
<line x1="345.45" y1="350.80" x2="345.45" y2="352.00" stroke="#444" stroke-width="0.5"/>
<line x1="347.22" y1="350.80" x2="347.22" y2="352.00" stroke="#444" stroke-width="0.5"/>
<line x1="348.98" y1="350.80" x2="348.98" y2="352.00" stroke="#444" stroke-width="0.5"/>
<line x1="350.75" y1="350.80" x2="350.75" y2="352.00" stroke="#444" stroke-width="0.5"/>
<line x1="352.52" y1="350.80" x2="352.52" y2="352.00" stroke="#444" stroke-width="0.5"/>
<line x1="354.29" y1="350.80" x2="354.29" y2="352.00" stroke="#444" stroke-width="0.5"/>
<line x1="356.06" y1="350.80" x2="356.06" y2="352.00" stroke="#444" stroke-width="0.5"/>
<line x1="357.83" y1="350.80" x2="357.83" y2="352.00" stroke="#444" stroke-width="0.5"/>
<line x1="359.60" y1="350.80" x2="359.60" y2="352.00" stroke="#444" stroke-width="0.5"/>
<line x1="288.40" y1="285.20" x2="289.60" y2="285.20" stroke="#333" stroke-width="0.6"/>
<text x="287.20" y="285.80" font-size="4.6" fill="#333" text-anchor="middle" transform="rotate(-90 287.20 285.80)">10<tspan font-size="3.45" dy="-1.84">5</tspan></text>
<line x1="288.40" y1="301.60" x2="289.60" y2="301.60" stroke="#333" stroke-width="0.6"/>
<text x="287.20" y="302.20" font-size="4.6" fill="#333" text-anchor="middle" transform="rotate(-90 287.20 302.20)">10<tspan font-size="3.45" dy="-1.84">4</tspan></text>
<line x1="288.40" y1="318.40" x2="289.60" y2="318.40" stroke="#333" stroke-width="0.6"/>
<text x="287.20" y="319.00" font-size="4.6" fill="#333" text-anchor="middle" transform="rotate(-90 287.20 319.00)">10<tspan font-size="3.45" dy="-1.84">3</tspan></text>
<line x1="288.40" y1="334.30" x2="289.60" y2="334.30" stroke="#333" stroke-width="0.6"/>
<text x="287.20" y="334.90" font-size="4.6" fill="#333" text-anchor="middle" transform="rotate(-90 287.20 334.90)">10<tspan font-size="3.45" dy="-1.84">2</tspan></text>
<line x1="288.40" y1="341.90" x2="289.60" y2="341.90" stroke="#333" stroke-width="0.6"/>
<text x="287.00" y="341.90" font-size="5" text-anchor="middle" fill="#333" transform="rotate(-90 287.00 341.90)">0</text>
<text x="297.80" y="358.40" font-size="5" text-anchor="middle" fill="#444">0</text>
<text x="304.20" y="358.40" font-size="4.5" fill="#444" text-anchor="middle">10<tspan font-size="3.38" dy="-1.80">2</tspan></text>
<text x="321.50" y="358.40" font-size="4.5" fill="#444" text-anchor="middle">10<tspan font-size="3.38" dy="-1.80">3</tspan></text>
<text x="337.80" y="358.40" font-size="4.5" fill="#444" text-anchor="middle">10<tspan font-size="3.38" dy="-1.80">4</tspan></text>
<text x="353.80" y="358.40" font-size="4.5" fill="#444" text-anchor="middle">10<tspan font-size="3.38" dy="-1.80">5</tspan></text>
<text x="292.50" y="288.00" font-size="8" text-anchor="start" font-weight="bold" fill="#111">Q1</text>
<text x="359.00" y="288.00" font-size="8" text-anchor="end" font-weight="bold" fill="#111">Q2</text>
<text x="292.50" y="347.30" font-size="8" text-anchor="start" font-weight="bold" fill="#111">Q3</text>
<text x="359.00" y="347.30" font-size="8" text-anchor="end" font-weight="bold" fill="#111">Q4</text>
<path d="M396.8 339.7h.9v.9h-.9zM401.7 334.8h.9v.9h-.9zM400.9 345.3h.9v.9h-.9zM403.0 332.6h.9v.9h-.9zM398.8 338.6h.9v.9h-.9zM399.0 337.7h.9v.9h-.9zM402.8 337.5h.9v.9h-.9zM395.7 338.8h.9v.9h-.9zM398.8 336.8h.9v.9h-.9zM395.2 335.2h.9v.9h-.9zM402.7 332.4h.9v.9h-.9zM396.8 338.2h.9v.9h-.9zM391.6 341.0h.9v.9h-.9zM396.7 338.6h.9v.9h-.9zM397.6 337.4h.9v.9h-.9zM399.4 336.4h.9v.9h-.9zM399.0 341.2h.9v.9h-.9zM397.4 338.2h.9v.9h-.9zM399.6 338.0h.9v.9h-.9zM400.0 335.8h.9v.9h-.9zM398.1 333.5h.9v.9h-.9zM396.6 332.9h.9v.9h-.9zM395.7 345.0h.9v.9h-.9zM401.4 333.1h.9v.9h-.9zM399.5 341.3h.9v.9h-.9zM399.0 333.0h.9v.9h-.9zM398.3 333.0h.9v.9h-.9zM394.8 335.6h.9v.9h-.9zM397.9 333.6h.9v.9h-.9zM396.3 333.2h.9v.9h-.9zM399.8 341.2h.9v.9h-.9zM398.4 344.0h.9v.9h-.9zM394.1 337.3h.9v.9h-.9zM395.5 335.9h.9v.9h-.9zM399.4 338.3h.9v.9h-.9zM402.6 334.5h.9v.9h-.9zM395.2 335.8h.9v.9h-.9zM400.0 334.0h.9v.9h-.9zM401.9 342.1h.9v.9h-.9zM394.7 337.6h.9v.9h-.9zM399.7 335.6h.9v.9h-.9zM394.7 340.9h.9v.9h-.9zM399.8 334.8h.9v.9h-.9zM400.5 338.6h.9v.9h-.9zM401.5 338.4h.9v.9h-.9zM400.4 332.4h.9v.9h-.9zM397.8 336.8h.9v.9h-.9zM390.5 343.7h.9v.9h-.9zM397.9 332.8h.9v.9h-.9zM393.4 337.2h.9v.9h-.9zM399.2 334.4h.9v.9h-.9zM397.8 333.4h.9v.9h-.9zM396.8 336.1h.9v.9h-.9zM397.1 338.7h.9v.9h-.9zM398.7 336.9h.9v.9h-.9zM400.4 340.7h.9v.9h-.9zM401.0 337.2h.9v.9h-.9zM398.6 333.7h.9v.9h-.9zM398.0 338.7h.9v.9h-.9zM399.8 335.1h.9v.9h-.9zM400.1 339.9h.9v.9h-.9zM398.4 337.2h.9v.9h-.9zM396.2 337.6h.9v.9h-.9zM398.5 333.6h.9v.9h-.9zM395.2 339.2h.9v.9h-.9zM400.2 333.4h.9v.9h-.9zM395.9 339.4h.9v.9h-.9zM401.0 335.4h.9v.9h-.9zM395.8 340.1h.9v.9h-.9zM398.5 337.6h.9v.9h-.9zM399.2 333.0h.9v.9h-.9zM395.4 335.7h.9v.9h-.9zM403.5 333.0h.9v.9h-.9zM403.3 337.2h.9v.9h-.9zM395.6 337.3h.9v.9h-.9zM400.9 333.3h.9v.9h-.9zM392.5 337.6h.9v.9h-.9zM395.6 337.9h.9v.9h-.9zM393.1 335.9h.9v.9h-.9z" fill="#999" fill-opacity="0.35"/>
<path d="M395.4 343.1h.9v.9h-.9zM393.9 337.8h.9v.9h-.9zM397.6 335.6h.9v.9h-.9zM399.2 344.3h.9v.9h-.9zM398.3 343.4h.9v.9h-.9zM396.7 337.2h.9v.9h-.9zM403.7 344.4h.9v.9h-.9zM395.2 337.9h.9v.9h-.9zM403.8 344.5h.9v.9h-.9zM390.8 345.0h.9v.9h-.9zM398.5 340.8h.9v.9h-.9zM393.5 346.6h.9v.9h-.9zM396.0 345.5h.9v.9h-.9zM395.1 345.2h.9v.9h-.9zM400.6 338.5h.9v.9h-.9zM391.4 342.1h.9v.9h-.9zM400.6 343.5h.9v.9h-.9zM402.6 337.1h.9v.9h-.9zM399.0 340.0h.9v.9h-.9zM397.1 343.6h.9v.9h-.9zM391.9 341.5h.9v.9h-.9zM391.0 343.4h.9v.9h-.9zM392.5 340.5h.9v.9h-.9zM397.7 339.9h.9v.9h-.9zM402.2 339.9h.9v.9h-.9zM400.7 343.5h.9v.9h-.9zM391.6 341.6h.9v.9h-.9zM392.5 341.0h.9v.9h-.9zM395.3 349.5h.9v.9h-.9zM394.6 348.5h.9v.9h-.9zM398.8 337.3h.9v.9h-.9zM401.6 343.9h.9v.9h-.9zM395.6 341.4h.9v.9h-.9zM397.9 341.2h.9v.9h-.9zM394.0 341.0h.9v.9h-.9z" fill="#aaa" fill-opacity="0.25"/>
<path d="M394.2 330.5 L393.8 318 L394.8 305 L397.8 298 L403.2 295.8 L403.6 305 L403.2 318 L403.0 330.5 Z" fill="#f07070" fill-opacity="0.6" filter="url(#b1)"/>
<ellipse cx="398.40" cy="317.00" rx="3.0" ry="10.5" fill="#e83434" fill-opacity="0.6" transform="rotate(3 398.40 317.00)" filter="url(#b1)"/>
<path d="M402.2 310.5h.9v.9h-.9zM400.4 306.2h.9v.9h-.9zM397.6 304.2h.9v.9h-.9zM397.6 320.2h.9v.9h-.9zM399.8 311.3h.9v.9h-.9zM400.5 312.5h.9v.9h-.9zM399.4 317.2h.9v.9h-.9zM401.7 296.0h.9v.9h-.9zM394.6 320.7h.9v.9h-.9zM398.3 310.7h.9v.9h-.9zM402.3 319.6h.9v.9h-.9zM403.4 319.4h.9v.9h-.9zM397.6 320.5h.9v.9h-.9zM396.8 311.4h.9v.9h-.9zM397.3 313.2h.9v.9h-.9zM401.0 311.5h.9v.9h-.9zM399.8 311.2h.9v.9h-.9zM402.8 294.0h.9v.9h-.9zM397.9 316.3h.9v.9h-.9zM395.0 322.6h.9v.9h-.9zM398.3 324.9h.9v.9h-.9zM400.8 320.2h.9v.9h-.9zM398.9 306.6h.9v.9h-.9zM398.3 311.4h.9v.9h-.9zM399.6 311.5h.9v.9h-.9zM407.9 303.4h.9v.9h-.9zM402.1 311.7h.9v.9h-.9zM397.3 322.1h.9v.9h-.9zM399.4 305.7h.9v.9h-.9zM399.8 313.6h.9v.9h-.9zM392.9 316.0h.9v.9h-.9zM396.3 309.0h.9v.9h-.9zM399.7 317.4h.9v.9h-.9zM400.1 310.4h.9v.9h-.9zM399.3 314.1h.9v.9h-.9zM393.7 302.4h.9v.9h-.9zM393.5 330.6h.9v.9h-.9zM398.3 312.8h.9v.9h-.9zM396.4 322.4h.9v.9h-.9zM397.5 328.1h.9v.9h-.9zM399.6 327.8h.9v.9h-.9zM398.0 317.9h.9v.9h-.9zM397.5 313.6h.9v.9h-.9zM394.3 310.1h.9v.9h-.9zM396.5 309.8h.9v.9h-.9zM401.7 317.3h.9v.9h-.9zM401.3 321.9h.9v.9h-.9zM400.4 322.9h.9v.9h-.9zM396.4 321.0h.9v.9h-.9zM398.1 310.8h.9v.9h-.9zM394.8 328.1h.9v.9h-.9zM401.4 308.7h.9v.9h-.9zM399.1 317.9h.9v.9h-.9zM399.8 312.3h.9v.9h-.9zM395.1 314.9h.9v.9h-.9zM400.4 321.2h.9v.9h-.9zM399.6 323.6h.9v.9h-.9zM396.0 314.4h.9v.9h-.9zM398.8 322.8h.9v.9h-.9zM398.7 319.0h.9v.9h-.9zM397.5 331.1h.9v.9h-.9zM392.7 314.3h.9v.9h-.9zM405.1 317.4h.9v.9h-.9zM393.6 315.6h.9v.9h-.9zM395.2 309.4h.9v.9h-.9zM398.1 328.2h.9v.9h-.9zM399.4 320.2h.9v.9h-.9zM401.2 316.8h.9v.9h-.9zM396.4 314.0h.9v.9h-.9zM399.7 313.0h.9v.9h-.9zM397.0 312.1h.9v.9h-.9zM395.3 306.8h.9v.9h-.9zM398.6 312.2h.9v.9h-.9zM397.8 325.8h.9v.9h-.9zM399.4 314.8h.9v.9h-.9zM396.2 306.5h.9v.9h-.9zM400.2 308.4h.9v.9h-.9zM400.5 306.9h.9v.9h-.9zM399.0 314.5h.9v.9h-.9zM401.5 312.2h.9v.9h-.9zM397.4 316.8h.9v.9h-.9zM397.6 328.0h.9v.9h-.9zM398.3 310.8h.9v.9h-.9zM397.4 318.6h.9v.9h-.9zM398.8 320.4h.9v.9h-.9zM403.6 315.2h.9v.9h-.9zM395.3 315.9h.9v.9h-.9zM401.2 298.0h.9v.9h-.9zM399.6 303.7h.9v.9h-.9zM398.9 325.7h.9v.9h-.9zM402.4 303.7h.9v.9h-.9zM401.7 322.3h.9v.9h-.9zM397.3 318.8h.9v.9h-.9zM402.9 312.8h.9v.9h-.9zM398.9 310.7h.9v.9h-.9zM403.1 298.8h.9v.9h-.9zM403.1 307.9h.9v.9h-.9zM402.2 302.8h.9v.9h-.9zM396.5 310.2h.9v.9h-.9zM401.9 302.8h.9v.9h-.9zM400.6 310.3h.9v.9h-.9zM402.1 312.9h.9v.9h-.9zM400.0 313.8h.9v.9h-.9zM403.7 312.7h.9v.9h-.9zM397.2 330.2h.9v.9h-.9zM398.3 320.3h.9v.9h-.9zM396.5 316.4h.9v.9h-.9zM392.4 315.3h.9v.9h-.9zM397.9 303.3h.9v.9h-.9zM394.0 323.4h.9v.9h-.9zM400.8 303.5h.9v.9h-.9zM403.9 310.1h.9v.9h-.9zM397.4 316.8h.9v.9h-.9zM396.6 302.3h.9v.9h-.9zM395.8 323.9h.9v.9h-.9zM402.2 303.1h.9v.9h-.9zM401.8 315.5h.9v.9h-.9zM399.9 315.5h.9v.9h-.9zM400.4 307.4h.9v.9h-.9zM396.6 309.4h.9v.9h-.9zM397.2 319.7h.9v.9h-.9zM394.3 326.9h.9v.9h-.9zM397.3 310.3h.9v.9h-.9zM400.2 318.5h.9v.9h-.9zM398.4 306.7h.9v.9h-.9zM397.0 302.5h.9v.9h-.9zM400.9 323.6h.9v.9h-.9zM403.3 319.3h.9v.9h-.9zM399.0 320.9h.9v.9h-.9zM401.3 313.2h.9v.9h-.9zM395.0 303.8h.9v.9h-.9zM395.5 320.6h.9v.9h-.9zM402.0 312.7h.9v.9h-.9zM400.4 314.8h.9v.9h-.9zM399.8 310.9h.9v.9h-.9zM398.5 315.0h.9v.9h-.9zM393.4 318.7h.9v.9h-.9zM397.9 322.4h.9v.9h-.9zM400.9 321.2h.9v.9h-.9zM401.4 307.9h.9v.9h-.9zM392.9 327.4h.9v.9h-.9zM402.5 308.0h.9v.9h-.9zM401.6 320.4h.9v.9h-.9zM391.4 321.3h.9v.9h-.9zM395.2 323.7h.9v.9h-.9zM397.3 309.1h.9v.9h-.9zM394.6 313.0h.9v.9h-.9zM401.8 310.1h.9v.9h-.9zM392.2 331.0h.9v.9h-.9zM403.1 320.7h.9v.9h-.9zM398.0 305.6h.9v.9h-.9zM393.8 318.9h.9v.9h-.9zM402.8 307.2h.9v.9h-.9zM398.8 312.9h.9v.9h-.9zM397.6 318.8h.9v.9h-.9zM404.7 310.6h.9v.9h-.9zM400.2 323.6h.9v.9h-.9zM397.9 313.8h.9v.9h-.9zM394.3 323.0h.9v.9h-.9zM397.6 309.9h.9v.9h-.9zM399.4 308.4h.9v.9h-.9zM396.0 312.5h.9v.9h-.9zM402.7 313.8h.9v.9h-.9zM401.0 303.9h.9v.9h-.9zM392.1 328.5h.9v.9h-.9zM398.6 303.1h.9v.9h-.9zM397.9 319.6h.9v.9h-.9zM394.5 307.8h.9v.9h-.9zM399.9 308.0h.9v.9h-.9zM400.1 322.6h.9v.9h-.9zM400.1 311.8h.9v.9h-.9zM398.9 310.1h.9v.9h-.9zM398.0 317.4h.9v.9h-.9zM397.1 322.4h.9v.9h-.9zM406.0 311.4h.9v.9h-.9zM399.0 321.4h.9v.9h-.9zM400.5 313.3h.9v.9h-.9zM396.6 322.6h.9v.9h-.9zM399.9 319.0h.9v.9h-.9zM396.0 319.7h.9v.9h-.9zM400.9 313.8h.9v.9h-.9zM393.1 319.2h.9v.9h-.9zM396.4 304.2h.9v.9h-.9zM397.6 319.1h.9v.9h-.9zM399.5 306.0h.9v.9h-.9zM395.1 310.4h.9v.9h-.9zM399.2 308.6h.9v.9h-.9zM393.4 328.2h.9v.9h-.9zM396.4 313.6h.9v.9h-.9zM397.5 310.4h.9v.9h-.9zM398.9 312.7h.9v.9h-.9zM401.1 306.0h.9v.9h-.9zM393.3 329.7h.9v.9h-.9zM397.9 320.9h.9v.9h-.9zM401.4 319.6h.9v.9h-.9zM399.7 303.0h.9v.9h-.9zM393.6 322.2h.9v.9h-.9zM400.0 319.6h.9v.9h-.9zM395.6 298.2h.9v.9h-.9zM396.5 305.6h.9v.9h-.9zM399.7 307.1h.9v.9h-.9zM403.3 310.6h.9v.9h-.9zM396.5 321.5h.9v.9h-.9zM400.1 308.1h.9v.9h-.9zM399.5 330.0h.9v.9h-.9zM395.4 312.8h.9v.9h-.9zM397.0 299.7h.9v.9h-.9zM399.8 320.5h.9v.9h-.9zM400.9 318.5h.9v.9h-.9zM393.2 314.3h.9v.9h-.9zM397.6 305.7h.9v.9h-.9zM395.1 320.7h.9v.9h-.9zM396.5 330.1h.9v.9h-.9zM401.2 300.3h.9v.9h-.9zM400.2 324.9h.9v.9h-.9zM399.5 305.6h.9v.9h-.9zM404.3 305.2h.9v.9h-.9zM399.7 300.2h.9v.9h-.9zM396.4 301.5h.9v.9h-.9zM400.8 324.4h.9v.9h-.9zM398.4 304.4h.9v.9h-.9zM398.2 317.9h.9v.9h-.9zM395.2 305.7h.9v.9h-.9zM397.8 320.4h.9v.9h-.9zM398.5 318.5h.9v.9h-.9zM396.9 295.4h.9v.9h-.9zM400.1 307.9h.9v.9h-.9zM398.5 312.0h.9v.9h-.9zM400.4 309.1h.9v.9h-.9zM402.5 315.6h.9v.9h-.9zM399.6 320.0h.9v.9h-.9zM401.1 318.4h.9v.9h-.9zM394.3 309.7h.9v.9h-.9z" fill="#d82020" fill-opacity="0.25"/>
<rect x="406.3" y="334.0" width="36" height="14.2" rx="4" fill="#b09ada" fill-opacity="0.55" filter="url(#b1)"/>
<ellipse cx="418.50" cy="341.30" rx="11" ry="4.4" fill="#9478cc" fill-opacity="0.45" transform="rotate(0 418.50 341.30)" filter="url(#b1)"/>
<path d="M441.5 342.8h.9v.9h-.9zM427.5 342.8h.9v.9h-.9zM414.6 338.4h.9v.9h-.9zM414.5 345.5h.9v.9h-.9zM425.4 348.0h.9v.9h-.9zM426.9 348.4h.9v.9h-.9zM426.4 336.4h.9v.9h-.9zM440.2 342.3h.9v.9h-.9zM434.3 341.8h.9v.9h-.9zM418.0 341.7h.9v.9h-.9zM409.4 336.3h.9v.9h-.9zM411.9 338.9h.9v.9h-.9zM406.9 340.6h.9v.9h-.9zM424.8 349.0h.9v.9h-.9zM441.4 340.8h.9v.9h-.9zM431.0 340.1h.9v.9h-.9zM425.7 340.9h.9v.9h-.9zM415.7 341.3h.9v.9h-.9zM405.5 342.7h.9v.9h-.9zM418.4 336.7h.9v.9h-.9zM417.6 343.2h.9v.9h-.9zM414.2 342.9h.9v.9h-.9zM427.7 347.1h.9v.9h-.9zM409.7 340.6h.9v.9h-.9zM427.0 346.9h.9v.9h-.9zM424.3 344.0h.9v.9h-.9zM405.6 338.7h.9v.9h-.9zM439.5 339.9h.9v.9h-.9zM444.9 338.1h.9v.9h-.9zM418.5 334.7h.9v.9h-.9zM428.4 342.0h.9v.9h-.9zM443.4 341.7h.9v.9h-.9zM418.8 335.4h.9v.9h-.9zM420.6 344.7h.9v.9h-.9zM429.5 345.8h.9v.9h-.9zM430.9 340.8h.9v.9h-.9zM428.1 341.7h.9v.9h-.9zM407.0 347.8h.9v.9h-.9zM425.6 336.8h.9v.9h-.9zM425.7 342.1h.9v.9h-.9zM432.3 346.7h.9v.9h-.9zM438.1 337.3h.9v.9h-.9zM425.2 342.4h.9v.9h-.9zM409.4 339.2h.9v.9h-.9zM423.6 343.9h.9v.9h-.9zM445.4 342.2h.9v.9h-.9zM433.2 340.5h.9v.9h-.9zM420.3 337.1h.9v.9h-.9zM429.5 333.9h.9v.9h-.9zM422.7 341.5h.9v.9h-.9zM424.8 346.2h.9v.9h-.9zM420.4 341.4h.9v.9h-.9zM430.8 334.9h.9v.9h-.9zM418.3 341.3h.9v.9h-.9zM431.9 337.8h.9v.9h-.9zM430.3 342.5h.9v.9h-.9zM405.9 341.6h.9v.9h-.9zM423.8 343.9h.9v.9h-.9zM430.5 338.8h.9v.9h-.9zM433.2 344.3h.9v.9h-.9zM426.7 342.9h.9v.9h-.9zM407.4 342.4h.9v.9h-.9zM410.2 336.3h.9v.9h-.9zM417.7 341.6h.9v.9h-.9zM420.9 339.7h.9v.9h-.9zM410.6 341.7h.9v.9h-.9zM413.4 335.4h.9v.9h-.9zM422.5 346.8h.9v.9h-.9zM417.1 336.8h.9v.9h-.9zM436.6 347.8h.9v.9h-.9zM418.3 340.2h.9v.9h-.9zM423.0 345.0h.9v.9h-.9zM426.4 333.8h.9v.9h-.9zM409.4 336.1h.9v.9h-.9zM426.2 341.4h.9v.9h-.9zM441.1 339.9h.9v.9h-.9zM424.9 341.3h.9v.9h-.9zM424.6 346.9h.9v.9h-.9zM435.7 338.6h.9v.9h-.9zM429.0 339.5h.9v.9h-.9zM422.7 341.6h.9v.9h-.9zM421.7 339.1h.9v.9h-.9zM438.6 339.9h.9v.9h-.9zM429.2 347.7h.9v.9h-.9zM428.4 345.1h.9v.9h-.9zM436.7 345.3h.9v.9h-.9zM440.3 335.3h.9v.9h-.9zM443.0 341.1h.9v.9h-.9zM406.2 340.9h.9v.9h-.9zM424.7 341.6h.9v.9h-.9zM412.7 340.1h.9v.9h-.9zM420.4 341.3h.9v.9h-.9zM421.4 340.1h.9v.9h-.9zM431.1 334.6h.9v.9h-.9zM416.1 341.5h.9v.9h-.9zM417.1 338.8h.9v.9h-.9zM416.7 341.8h.9v.9h-.9zM435.2 340.3h.9v.9h-.9zM418.6 342.4h.9v.9h-.9zM418.8 333.3h.9v.9h-.9zM424.4 339.5h.9v.9h-.9zM415.2 343.5h.9v.9h-.9zM422.0 338.7h.9v.9h-.9zM421.7 340.5h.9v.9h-.9zM426.3 341.9h.9v.9h-.9zM416.2 335.9h.9v.9h-.9zM409.5 340.4h.9v.9h-.9zM408.9 344.0h.9v.9h-.9zM406.9 333.8h.9v.9h-.9zM419.4 333.9h.9v.9h-.9zM439.4 337.0h.9v.9h-.9zM420.9 340.0h.9v.9h-.9zM412.5 333.9h.9v.9h-.9zM432.7 349.7h.9v.9h-.9zM405.4 343.2h.9v.9h-.9zM421.3 344.4h.9v.9h-.9zM415.8 343.9h.9v.9h-.9zM431.4 343.4h.9v.9h-.9zM437.4 340.3h.9v.9h-.9zM438.5 338.2h.9v.9h-.9zM421.6 337.8h.9v.9h-.9zM421.5 345.1h.9v.9h-.9zM429.4 341.4h.9v.9h-.9zM440.2 335.1h.9v.9h-.9zM412.5 347.0h.9v.9h-.9zM425.1 332.7h.9v.9h-.9zM425.2 336.3h.9v.9h-.9zM437.8 345.6h.9v.9h-.9zM415.5 346.2h.9v.9h-.9zM412.3 344.7h.9v.9h-.9zM427.9 340.5h.9v.9h-.9zM405.9 339.9h.9v.9h-.9zM427.9 342.5h.9v.9h-.9zM415.9 349.5h.9v.9h-.9zM430.0 341.3h.9v.9h-.9zM426.8 344.8h.9v.9h-.9zM415.0 335.3h.9v.9h-.9zM421.0 334.3h.9v.9h-.9zM421.6 344.1h.9v.9h-.9zM438.1 342.1h.9v.9h-.9zM423.7 344.0h.9v.9h-.9zM436.9 339.7h.9v.9h-.9zM408.0 337.8h.9v.9h-.9zM407.7 337.4h.9v.9h-.9zM420.2 342.4h.9v.9h-.9zM423.2 341.3h.9v.9h-.9zM417.6 342.7h.9v.9h-.9zM431.2 344.0h.9v.9h-.9zM438.0 339.8h.9v.9h-.9zM418.7 347.8h.9v.9h-.9zM423.7 342.7h.9v.9h-.9zM417.8 344.9h.9v.9h-.9zM417.1 337.0h.9v.9h-.9zM420.8 339.2h.9v.9h-.9zM430.7 339.5h.9v.9h-.9zM422.9 340.1h.9v.9h-.9zM425.2 338.5h.9v.9h-.9zM433.7 335.3h.9v.9h-.9zM417.3 338.2h.9v.9h-.9zM428.6 341.2h.9v.9h-.9zM426.8 339.7h.9v.9h-.9zM413.6 336.5h.9v.9h-.9zM417.8 338.9h.9v.9h-.9zM424.6 342.4h.9v.9h-.9zM432.2 340.6h.9v.9h-.9zM413.3 336.8h.9v.9h-.9zM422.2 342.4h.9v.9h-.9zM442.9 341.7h.9v.9h-.9zM440.8 348.5h.9v.9h-.9zM410.0 345.8h.9v.9h-.9zM434.0 346.4h.9v.9h-.9zM421.4 344.8h.9v.9h-.9zM416.2 340.7h.9v.9h-.9zM421.7 348.1h.9v.9h-.9zM419.1 344.8h.9v.9h-.9zM422.2 338.2h.9v.9h-.9zM424.2 343.6h.9v.9h-.9zM413.7 343.5h.9v.9h-.9zM413.7 337.5h.9v.9h-.9zM423.9 340.1h.9v.9h-.9zM410.7 334.5h.9v.9h-.9zM421.8 342.0h.9v.9h-.9zM416.4 341.7h.9v.9h-.9zM426.1 342.1h.9v.9h-.9zM414.8 341.3h.9v.9h-.9zM422.9 345.3h.9v.9h-.9zM424.5 342.0h.9v.9h-.9zM413.5 344.4h.9v.9h-.9zM434.4 339.0h.9v.9h-.9zM428.5 342.2h.9v.9h-.9zM421.0 335.9h.9v.9h-.9zM440.8 333.5h.9v.9h-.9zM424.8 339.5h.9v.9h-.9zM434.1 339.3h.9v.9h-.9zM421.9 343.4h.9v.9h-.9zM426.5 338.9h.9v.9h-.9zM429.0 342.6h.9v.9h-.9zM432.4 339.0h.9v.9h-.9zM421.0 339.4h.9v.9h-.9zM412.3 342.0h.9v.9h-.9zM426.0 346.7h.9v.9h-.9zM417.9 342.5h.9v.9h-.9zM434.0 340.5h.9v.9h-.9zM422.2 341.5h.9v.9h-.9zM413.9 337.1h.9v.9h-.9zM433.8 341.7h.9v.9h-.9zM420.7 336.0h.9v.9h-.9zM422.8 345.7h.9v.9h-.9zM408.9 337.4h.9v.9h-.9zM433.7 346.7h.9v.9h-.9zM438.5 338.8h.9v.9h-.9zM428.1 338.0h.9v.9h-.9zM427.2 339.5h.9v.9h-.9zM423.6 346.3h.9v.9h-.9zM425.2 340.0h.9v.9h-.9zM422.1 342.1h.9v.9h-.9zM415.9 341.8h.9v.9h-.9zM428.1 347.2h.9v.9h-.9zM408.0 344.5h.9v.9h-.9zM448.2 341.8h.9v.9h-.9zM422.8 345.5h.9v.9h-.9zM415.9 339.1h.9v.9h-.9zM425.2 338.7h.9v.9h-.9zM433.6 341.0h.9v.9h-.9zM416.6 344.7h.9v.9h-.9zM412.5 346.0h.9v.9h-.9zM432.0 341.6h.9v.9h-.9zM432.3 347.4h.9v.9h-.9zM436.5 341.0h.9v.9h-.9zM420.9 345.4h.9v.9h-.9zM405.4 338.6h.9v.9h-.9zM426.8 343.3h.9v.9h-.9zM441.8 348.0h.9v.9h-.9zM425.0 342.8h.9v.9h-.9zM407.1 340.3h.9v.9h-.9zM424.3 340.1h.9v.9h-.9zM422.2 343.4h.9v.9h-.9zM411.1 338.8h.9v.9h-.9zM410.0 334.3h.9v.9h-.9zM429.9 340.2h.9v.9h-.9zM432.0 339.5h.9v.9h-.9zM444.6 343.8h.9v.9h-.9zM423.1 341.5h.9v.9h-.9zM419.3 344.2h.9v.9h-.9zM443.3 339.3h.9v.9h-.9zM409.7 343.4h.9v.9h-.9zM433.1 335.1h.9v.9h-.9zM414.0 337.1h.9v.9h-.9zM427.6 343.0h.9v.9h-.9zM413.5 336.5h.9v.9h-.9zM428.9 332.9h.9v.9h-.9zM428.5 340.4h.9v.9h-.9zM442.4 344.9h.9v.9h-.9zM415.2 339.9h.9v.9h-.9zM418.5 338.1h.9v.9h-.9zM422.4 344.8h.9v.9h-.9zM437.7 343.9h.9v.9h-.9zM412.7 337.8h.9v.9h-.9zM412.2 334.7h.9v.9h-.9zM434.0 341.3h.9v.9h-.9zM413.9 335.3h.9v.9h-.9zM417.3 339.0h.9v.9h-.9zM440.2 339.2h.9v.9h-.9zM422.8 345.2h.9v.9h-.9zM428.7 340.3h.9v.9h-.9zM428.0 339.3h.9v.9h-.9zM420.5 337.2h.9v.9h-.9zM411.8 335.2h.9v.9h-.9zM426.9 343.0h.9v.9h-.9zM423.4 344.1h.9v.9h-.9zM427.3 341.5h.9v.9h-.9zM411.9 343.3h.9v.9h-.9zM434.3 343.5h.9v.9h-.9zM435.0 339.1h.9v.9h-.9zM410.9 345.9h.9v.9h-.9zM415.2 342.0h.9v.9h-.9zM419.4 341.1h.9v.9h-.9zM418.6 338.9h.9v.9h-.9zM423.7 333.4h.9v.9h-.9zM411.7 336.6h.9v.9h-.9zM427.7 347.4h.9v.9h-.9zM418.8 343.9h.9v.9h-.9zM428.0 336.1h.9v.9h-.9zM434.6 334.4h.9v.9h-.9zM415.3 339.6h.9v.9h-.9zM435.0 341.5h.9v.9h-.9zM420.2 337.8h.9v.9h-.9zM422.5 341.2h.9v.9h-.9zM429.4 346.5h.9v.9h-.9zM429.4 341.1h.9v.9h-.9zM419.9 347.3h.9v.9h-.9zM423.7 340.9h.9v.9h-.9zM440.9 347.1h.9v.9h-.9zM427.6 340.6h.9v.9h-.9zM414.7 345.2h.9v.9h-.9zM416.6 344.8h.9v.9h-.9zM413.1 341.4h.9v.9h-.9zM425.8 341.6h.9v.9h-.9zM424.0 342.5h.9v.9h-.9zM409.4 336.7h.9v.9h-.9zM419.9 348.1h.9v.9h-.9zM420.2 337.4h.9v.9h-.9zM414.4 341.1h.9v.9h-.9zM434.2 338.8h.9v.9h-.9zM427.5 341.7h.9v.9h-.9zM417.7 337.3h.9v.9h-.9zM419.9 338.2h.9v.9h-.9zM427.3 334.1h.9v.9h-.9zM433.6 344.0h.9v.9h-.9zM427.7 346.9h.9v.9h-.9zM428.0 334.3h.9v.9h-.9zM422.1 342.8h.9v.9h-.9zM414.2 336.6h.9v.9h-.9zM426.2 343.0h.9v.9h-.9zM416.9 340.1h.9v.9h-.9zM416.1 338.8h.9v.9h-.9zM420.9 345.2h.9v.9h-.9zM438.8 342.2h.9v.9h-.9zM423.2 344.3h.9v.9h-.9zM410.7 336.3h.9v.9h-.9zM424.2 344.3h.9v.9h-.9zM417.0 338.3h.9v.9h-.9zM425.8 343.4h.9v.9h-.9zM424.3 333.6h.9v.9h-.9zM424.1 337.7h.9v.9h-.9zM414.5 346.9h.9v.9h-.9zM435.7 342.9h.9v.9h-.9zM424.5 341.7h.9v.9h-.9zM415.2 340.8h.9v.9h-.9zM442.0 337.6h.9v.9h-.9zM414.4 341.6h.9v.9h-.9zM431.1 344.2h.9v.9h-.9zM411.1 340.5h.9v.9h-.9zM418.7 336.2h.9v.9h-.9zM422.3 339.1h.9v.9h-.9zM431.3 342.7h.9v.9h-.9zM413.2 341.3h.9v.9h-.9zM417.7 338.5h.9v.9h-.9zM416.3 345.1h.9v.9h-.9zM417.1 334.3h.9v.9h-.9zM413.2 344.1h.9v.9h-.9zM444.5 336.9h.9v.9h-.9zM417.7 339.7h.9v.9h-.9zM406.4 342.6h.9v.9h-.9zM421.0 342.1h.9v.9h-.9zM445.5 340.0h.9v.9h-.9zM430.0 344.2h.9v.9h-.9zM414.7 338.7h.9v.9h-.9zM438.2 343.8h.9v.9h-.9zM423.0 336.7h.9v.9h-.9zM430.9 343.1h.9v.9h-.9zM445.0 346.7h.9v.9h-.9z" fill="#6a40b0" fill-opacity="0.2"/>
<ellipse cx="427.10" cy="312.00" rx="14.5" ry="14.5" fill="#b4bce4" fill-opacity="0.5" transform="rotate(0 427.10 312.00)" filter="url(#b3)"/>
<path d="M433.7 314.1h.9v.9h-.9zM427.6 307.7h.9v.9h-.9zM429.7 313.9h.9v.9h-.9zM432.5 320.5h.9v.9h-.9zM429.7 307.8h.9v.9h-.9zM433.8 324.1h.9v.9h-.9zM420.2 315.3h.9v.9h-.9zM431.6 316.2h.9v.9h-.9zM431.3 311.3h.9v.9h-.9zM426.3 325.1h.9v.9h-.9zM441.4 301.1h.9v.9h-.9zM421.5 308.0h.9v.9h-.9zM413.9 314.8h.9v.9h-.9zM426.7 307.8h.9v.9h-.9zM434.5 330.9h.9v.9h-.9zM439.3 321.1h.9v.9h-.9zM423.7 317.1h.9v.9h-.9zM426.8 321.0h.9v.9h-.9zM431.9 311.7h.9v.9h-.9zM431.7 306.4h.9v.9h-.9zM433.6 323.7h.9v.9h-.9zM424.1 316.3h.9v.9h-.9zM413.3 319.3h.9v.9h-.9zM434.4 304.1h.9v.9h-.9zM441.5 312.9h.9v.9h-.9zM412.8 301.4h.9v.9h-.9zM434.3 309.9h.9v.9h-.9zM436.2 300.0h.9v.9h-.9zM426.3 319.6h.9v.9h-.9zM421.5 317.3h.9v.9h-.9zM424.1 314.7h.9v.9h-.9zM429.8 329.4h.9v.9h-.9zM416.9 318.1h.9v.9h-.9zM437.9 303.3h.9v.9h-.9zM427.8 330.0h.9v.9h-.9zM435.8 288.9h.9v.9h-.9zM425.1 298.7h.9v.9h-.9zM429.6 306.4h.9v.9h-.9zM422.5 305.5h.9v.9h-.9zM429.5 308.4h.9v.9h-.9zM419.6 310.2h.9v.9h-.9zM430.5 305.3h.9v.9h-.9zM436.3 299.1h.9v.9h-.9zM430.5 309.0h.9v.9h-.9zM440.1 307.0h.9v.9h-.9zM421.6 301.6h.9v.9h-.9zM443.5 316.8h.9v.9h-.9zM418.1 309.4h.9v.9h-.9zM419.2 323.8h.9v.9h-.9zM430.6 296.2h.9v.9h-.9zM428.8 319.1h.9v.9h-.9zM427.1 315.7h.9v.9h-.9zM426.2 313.6h.9v.9h-.9zM428.9 306.5h.9v.9h-.9zM430.0 313.3h.9v.9h-.9zM426.8 306.7h.9v.9h-.9zM418.7 313.9h.9v.9h-.9zM433.9 293.2h.9v.9h-.9zM422.7 322.5h.9v.9h-.9zM434.7 306.5h.9v.9h-.9zM438.3 304.3h.9v.9h-.9zM420.6 327.1h.9v.9h-.9zM423.5 310.3h.9v.9h-.9zM413.5 304.1h.9v.9h-.9zM417.4 310.9h.9v.9h-.9zM411.9 320.3h.9v.9h-.9zM424.2 307.3h.9v.9h-.9zM421.9 317.8h.9v.9h-.9zM439.8 308.8h.9v.9h-.9zM440.4 324.5h.9v.9h-.9zM438.2 314.3h.9v.9h-.9zM414.8 317.2h.9v.9h-.9zM423.7 313.5h.9v.9h-.9zM411.5 309.8h.9v.9h-.9zM429.0 304.7h.9v.9h-.9zM429.5 325.0h.9v.9h-.9zM429.0 306.7h.9v.9h-.9zM446.8 295.2h.9v.9h-.9zM419.5 315.2h.9v.9h-.9zM422.2 294.1h.9v.9h-.9zM429.3 318.5h.9v.9h-.9zM420.5 323.4h.9v.9h-.9zM431.2 321.3h.9v.9h-.9zM414.5 312.0h.9v.9h-.9zM440.3 327.7h.9v.9h-.9zM438.0 312.0h.9v.9h-.9zM428.6 307.1h.9v.9h-.9zM436.2 306.6h.9v.9h-.9zM428.1 295.9h.9v.9h-.9zM414.6 325.9h.9v.9h-.9zM427.6 313.7h.9v.9h-.9zM444.3 300.3h.9v.9h-.9zM422.7 310.4h.9v.9h-.9zM416.7 301.4h.9v.9h-.9zM416.9 317.0h.9v.9h-.9zM426.7 318.4h.9v.9h-.9zM418.2 316.6h.9v.9h-.9zM423.4 312.7h.9v.9h-.9zM434.8 312.3h.9v.9h-.9zM424.2 299.0h.9v.9h-.9zM427.6 318.1h.9v.9h-.9zM421.8 311.5h.9v.9h-.9zM412.4 301.6h.9v.9h-.9zM430.5 322.1h.9v.9h-.9zM424.5 298.9h.9v.9h-.9zM423.9 299.8h.9v.9h-.9zM424.8 327.1h.9v.9h-.9zM429.6 310.8h.9v.9h-.9zM435.7 309.0h.9v.9h-.9zM429.9 313.6h.9v.9h-.9zM430.8 300.5h.9v.9h-.9zM433.0 318.9h.9v.9h-.9zM419.6 323.7h.9v.9h-.9zM427.3 317.3h.9v.9h-.9zM431.7 319.0h.9v.9h-.9zM421.8 307.4h.9v.9h-.9zM430.2 316.8h.9v.9h-.9zM431.9 314.7h.9v.9h-.9zM423.1 320.7h.9v.9h-.9zM431.0 320.4h.9v.9h-.9zM421.5 312.9h.9v.9h-.9zM423.1 309.6h.9v.9h-.9zM428.7 314.7h.9v.9h-.9zM420.4 292.1h.9v.9h-.9zM420.6 316.3h.9v.9h-.9zM420.0 315.4h.9v.9h-.9zM424.0 304.6h.9v.9h-.9zM436.9 325.1h.9v.9h-.9zM426.2 311.6h.9v.9h-.9zM435.1 301.5h.9v.9h-.9zM419.8 320.9h.9v.9h-.9zM434.7 308.1h.9v.9h-.9zM420.6 314.8h.9v.9h-.9zM415.3 308.1h.9v.9h-.9zM425.2 292.5h.9v.9h-.9zM432.1 318.0h.9v.9h-.9zM436.1 300.6h.9v.9h-.9zM416.3 305.6h.9v.9h-.9zM416.1 328.3h.9v.9h-.9zM418.9 309.5h.9v.9h-.9zM428.8 315.6h.9v.9h-.9zM439.3 303.4h.9v.9h-.9zM434.5 313.2h.9v.9h-.9zM417.2 313.2h.9v.9h-.9zM415.3 324.9h.9v.9h-.9zM421.0 320.0h.9v.9h-.9zM438.1 307.1h.9v.9h-.9zM419.5 313.0h.9v.9h-.9zM418.3 319.1h.9v.9h-.9zM428.6 305.9h.9v.9h-.9zM421.3 317.8h.9v.9h-.9zM414.9 325.4h.9v.9h-.9zM420.5 310.4h.9v.9h-.9zM419.3 324.9h.9v.9h-.9zM434.1 322.3h.9v.9h-.9zM432.6 312.7h.9v.9h-.9zM441.4 317.3h.9v.9h-.9zM430.8 316.6h.9v.9h-.9zM433.3 314.2h.9v.9h-.9zM425.7 299.3h.9v.9h-.9zM444.5 301.6h.9v.9h-.9zM443.5 321.7h.9v.9h-.9zM422.0 314.1h.9v.9h-.9zM426.9 296.2h.9v.9h-.9zM424.3 314.3h.9v.9h-.9zM437.0 302.4h.9v.9h-.9zM429.9 312.6h.9v.9h-.9zM428.4 313.2h.9v.9h-.9zM424.0 301.1h.9v.9h-.9zM430.9 315.1h.9v.9h-.9zM432.0 322.0h.9v.9h-.9zM416.6 293.3h.9v.9h-.9zM412.0 329.1h.9v.9h-.9zM419.3 315.2h.9v.9h-.9zM427.0 317.8h.9v.9h-.9zM454.4 307.9h.9v.9h-.9zM425.7 307.2h.9v.9h-.9zM429.2 316.2h.9v.9h-.9zM418.9 322.5h.9v.9h-.9zM436.8 315.6h.9v.9h-.9zM426.2 310.1h.9v.9h-.9zM413.1 317.2h.9v.9h-.9zM418.8 308.0h.9v.9h-.9zM435.6 304.6h.9v.9h-.9zM422.7 318.9h.9v.9h-.9zM442.9 306.5h.9v.9h-.9zM436.5 306.8h.9v.9h-.9zM430.4 315.9h.9v.9h-.9zM417.4 320.2h.9v.9h-.9zM442.4 312.4h.9v.9h-.9zM429.4 302.6h.9v.9h-.9zM442.3 312.5h.9v.9h-.9zM416.3 318.1h.9v.9h-.9zM414.7 306.5h.9v.9h-.9zM445.9 306.9h.9v.9h-.9zM421.5 307.4h.9v.9h-.9zM422.3 316.4h.9v.9h-.9zM439.5 303.9h.9v.9h-.9zM430.8 297.6h.9v.9h-.9zM440.1 311.3h.9v.9h-.9zM421.1 324.2h.9v.9h-.9zM426.2 323.0h.9v.9h-.9zM436.2 325.3h.9v.9h-.9zM420.3 312.5h.9v.9h-.9zM430.2 310.4h.9v.9h-.9zM440.0 306.3h.9v.9h-.9zM435.6 322.9h.9v.9h-.9zM410.5 304.2h.9v.9h-.9zM419.4 307.6h.9v.9h-.9zM430.4 310.6h.9v.9h-.9zM427.8 308.3h.9v.9h-.9zM426.4 315.9h.9v.9h-.9zM433.4 305.7h.9v.9h-.9zM426.1 305.9h.9v.9h-.9zM425.6 300.5h.9v.9h-.9zM435.2 317.4h.9v.9h-.9zM426.1 306.5h.9v.9h-.9zM423.2 306.7h.9v.9h-.9zM414.0 325.1h.9v.9h-.9zM455.1 302.2h.9v.9h-.9zM417.2 316.6h.9v.9h-.9zM432.2 299.4h.9v.9h-.9zM410.8 316.3h.9v.9h-.9zM410.2 323.4h.9v.9h-.9zM422.9 312.7h.9v.9h-.9zM427.1 307.5h.9v.9h-.9zM425.9 309.6h.9v.9h-.9zM437.7 311.3h.9v.9h-.9zM426.8 307.8h.9v.9h-.9zM421.7 306.1h.9v.9h-.9zM427.2 326.7h.9v.9h-.9zM436.6 313.9h.9v.9h-.9zM441.3 320.1h.9v.9h-.9zM428.9 310.7h.9v.9h-.9zM417.8 314.0h.9v.9h-.9zM424.4 299.3h.9v.9h-.9zM416.2 327.5h.9v.9h-.9zM428.9 316.0h.9v.9h-.9zM428.8 308.3h.9v.9h-.9zM431.0 320.7h.9v.9h-.9zM424.5 316.1h.9v.9h-.9zM435.8 308.1h.9v.9h-.9zM428.5 306.1h.9v.9h-.9zM432.2 309.0h.9v.9h-.9zM436.8 305.9h.9v.9h-.9zM441.5 309.5h.9v.9h-.9zM420.0 304.8h.9v.9h-.9zM432.7 305.2h.9v.9h-.9zM442.4 322.3h.9v.9h-.9zM431.5 300.6h.9v.9h-.9zM426.9 306.2h.9v.9h-.9zM411.7 315.4h.9v.9h-.9zM445.8 307.7h.9v.9h-.9zM434.0 322.3h.9v.9h-.9zM418.9 309.3h.9v.9h-.9zM429.4 315.8h.9v.9h-.9zM417.4 313.7h.9v.9h-.9zM426.2 319.6h.9v.9h-.9zM413.5 307.5h.9v.9h-.9zM422.8 309.5h.9v.9h-.9zM433.2 307.0h.9v.9h-.9zM450.4 306.3h.9v.9h-.9zM434.2 320.2h.9v.9h-.9zM435.3 310.4h.9v.9h-.9zM420.0 310.0h.9v.9h-.9zM432.8 313.0h.9v.9h-.9zM432.0 316.6h.9v.9h-.9zM419.6 304.5h.9v.9h-.9zM439.4 308.1h.9v.9h-.9zM413.6 326.9h.9v.9h-.9zM420.0 304.5h.9v.9h-.9zM435.3 302.9h.9v.9h-.9zM419.7 320.4h.9v.9h-.9zM428.2 312.4h.9v.9h-.9zM421.6 310.2h.9v.9h-.9zM422.8 311.8h.9v.9h-.9zM433.7 301.8h.9v.9h-.9zM419.3 295.3h.9v.9h-.9zM439.9 311.4h.9v.9h-.9zM427.0 311.5h.9v.9h-.9zM435.6 314.6h.9v.9h-.9zM434.3 310.7h.9v.9h-.9zM426.1 311.6h.9v.9h-.9zM411.3 320.7h.9v.9h-.9zM413.7 304.0h.9v.9h-.9zM432.8 312.4h.9v.9h-.9zM434.0 325.6h.9v.9h-.9zM442.9 323.1h.9v.9h-.9zM425.2 328.4h.9v.9h-.9zM419.6 311.3h.9v.9h-.9zM435.6 310.3h.9v.9h-.9zM426.1 309.2h.9v.9h-.9zM438.7 292.3h.9v.9h-.9zM437.9 320.5h.9v.9h-.9zM426.5 316.5h.9v.9h-.9zM418.9 320.9h.9v.9h-.9zM453.1 304.6h.9v.9h-.9zM439.0 311.5h.9v.9h-.9zM424.2 308.1h.9v.9h-.9zM425.5 302.0h.9v.9h-.9zM415.6 325.3h.9v.9h-.9zM427.0 316.4h.9v.9h-.9zM429.7 315.8h.9v.9h-.9zM414.1 304.4h.9v.9h-.9zM432.5 320.0h.9v.9h-.9zM417.4 307.4h.9v.9h-.9zM418.0 317.2h.9v.9h-.9zM430.0 312.3h.9v.9h-.9zM421.6 314.7h.9v.9h-.9zM427.4 306.1h.9v.9h-.9zM429.9 306.7h.9v.9h-.9zM435.2 317.0h.9v.9h-.9zM421.3 316.7h.9v.9h-.9zM427.7 306.4h.9v.9h-.9zM419.3 298.7h.9v.9h-.9zM417.5 314.8h.9v.9h-.9zM437.4 307.0h.9v.9h-.9zM428.5 314.8h.9v.9h-.9zM433.7 315.5h.9v.9h-.9zM437.5 318.1h.9v.9h-.9zM420.6 315.2h.9v.9h-.9zM427.3 316.6h.9v.9h-.9zM424.5 318.7h.9v.9h-.9zM438.3 305.3h.9v.9h-.9zM422.5 314.1h.9v.9h-.9zM431.3 313.2h.9v.9h-.9zM434.2 302.5h.9v.9h-.9zM433.7 321.3h.9v.9h-.9zM436.5 315.4h.9v.9h-.9zM425.1 315.2h.9v.9h-.9zM426.5 299.3h.9v.9h-.9zM422.0 311.7h.9v.9h-.9zM422.7 304.5h.9v.9h-.9zM425.1 309.0h.9v.9h-.9zM427.7 311.6h.9v.9h-.9zM428.6 319.9h.9v.9h-.9zM428.3 315.3h.9v.9h-.9zM416.7 288.4h.9v.9h-.9zM423.7 317.4h.9v.9h-.9zM424.2 307.0h.9v.9h-.9zM416.6 319.1h.9v.9h-.9zM422.6 314.0h.9v.9h-.9zM436.7 316.3h.9v.9h-.9zM446.2 310.9h.9v.9h-.9zM435.2 317.5h.9v.9h-.9zM421.5 312.4h.9v.9h-.9zM422.3 303.8h.9v.9h-.9zM429.6 305.8h.9v.9h-.9zM441.4 306.1h.9v.9h-.9zM422.5 312.7h.9v.9h-.9zM422.7 312.4h.9v.9h-.9zM421.9 300.6h.9v.9h-.9zM440.0 315.6h.9v.9h-.9zM428.4 308.3h.9v.9h-.9zM425.9 314.4h.9v.9h-.9zM415.3 305.6h.9v.9h-.9zM419.5 322.1h.9v.9h-.9zM418.1 321.4h.9v.9h-.9zM426.4 312.3h.9v.9h-.9zM438.6 319.0h.9v.9h-.9zM435.1 303.4h.9v.9h-.9zM436.8 325.4h.9v.9h-.9zM426.2 308.1h.9v.9h-.9zM417.8 320.1h.9v.9h-.9zM429.6 312.1h.9v.9h-.9zM416.6 325.0h.9v.9h-.9zM434.5 311.8h.9v.9h-.9zM439.6 304.4h.9v.9h-.9zM434.6 304.0h.9v.9h-.9zM439.1 309.8h.9v.9h-.9zM437.5 308.7h.9v.9h-.9zM430.5 321.1h.9v.9h-.9zM419.4 312.8h.9v.9h-.9zM420.0 318.8h.9v.9h-.9zM422.0 309.0h.9v.9h-.9zM425.4 321.3h.9v.9h-.9zM418.2 311.8h.9v.9h-.9zM424.3 307.6h.9v.9h-.9zM420.4 310.7h.9v.9h-.9zM428.8 299.6h.9v.9h-.9zM429.1 302.5h.9v.9h-.9zM427.2 330.2h.9v.9h-.9zM418.9 311.5h.9v.9h-.9zM424.9 319.9h.9v.9h-.9zM423.1 297.7h.9v.9h-.9zM413.4 313.4h.9v.9h-.9zM429.3 320.5h.9v.9h-.9zM422.5 317.3h.9v.9h-.9zM418.1 322.4h.9v.9h-.9zM426.5 306.6h.9v.9h-.9zM428.6 325.9h.9v.9h-.9zM419.9 302.1h.9v.9h-.9zM418.5 302.8h.9v.9h-.9zM426.7 314.8h.9v.9h-.9zM425.7 313.6h.9v.9h-.9zM437.2 309.7h.9v.9h-.9zM416.5 293.7h.9v.9h-.9zM429.2 306.6h.9v.9h-.9zM425.0 315.3h.9v.9h-.9zM431.0 299.5h.9v.9h-.9zM419.0 312.6h.9v.9h-.9zM425.9 321.2h.9v.9h-.9zM422.8 295.5h.9v.9h-.9zM437.0 298.9h.9v.9h-.9zM418.9 315.1h.9v.9h-.9z" fill="#7080c0" fill-opacity="0.25"/>
<rect x="388.6" y="279.2" width="71.0" height="71.60000000000002" fill="none" stroke="#333" stroke-width="0.8"/>
<line x1="388.60" y1="279.20" x2="388.60" y2="350.80" stroke="#222" stroke-width="1.1"/>
<line x1="388.60" y1="350.80" x2="459.60" y2="350.80" stroke="#222" stroke-width="1.1"/>
<line x1="409.60" y1="279.20" x2="409.60" y2="331.40" stroke="#333" stroke-width="0.9"/>
<line x1="388.60" y1="331.40" x2="459.60" y2="331.40" stroke="#333" stroke-width="0.9"/>
<line x1="404.50" y1="331.40" x2="404.50" y2="350.80" stroke="#333" stroke-width="0.9"/>
<line x1="389.60" y1="350.80" x2="389.60" y2="352.00" stroke="#444" stroke-width="0.5"/>
<line x1="391.37" y1="350.80" x2="391.37" y2="352.00" stroke="#444" stroke-width="0.5"/>
<line x1="393.14" y1="350.80" x2="393.14" y2="352.00" stroke="#444" stroke-width="0.5"/>
<line x1="394.91" y1="350.80" x2="394.91" y2="352.00" stroke="#444" stroke-width="0.5"/>
<line x1="396.68" y1="350.80" x2="396.68" y2="352.00" stroke="#444" stroke-width="0.5"/>
<line x1="398.45" y1="350.80" x2="398.45" y2="352.00" stroke="#444" stroke-width="0.5"/>
<line x1="400.22" y1="350.80" x2="400.22" y2="352.00" stroke="#444" stroke-width="0.5"/>
<line x1="401.98" y1="350.80" x2="401.98" y2="352.00" stroke="#444" stroke-width="0.5"/>
<line x1="403.75" y1="350.80" x2="403.75" y2="352.00" stroke="#444" stroke-width="0.5"/>
<line x1="405.52" y1="350.80" x2="405.52" y2="352.00" stroke="#444" stroke-width="0.5"/>
<line x1="407.29" y1="350.80" x2="407.29" y2="352.00" stroke="#444" stroke-width="0.5"/>
<line x1="409.06" y1="350.80" x2="409.06" y2="352.00" stroke="#444" stroke-width="0.5"/>
<line x1="410.83" y1="350.80" x2="410.83" y2="352.00" stroke="#444" stroke-width="0.5"/>
<line x1="412.60" y1="350.80" x2="412.60" y2="352.00" stroke="#444" stroke-width="0.5"/>
<line x1="414.37" y1="350.80" x2="414.37" y2="352.00" stroke="#444" stroke-width="0.5"/>
<line x1="416.14" y1="350.80" x2="416.14" y2="352.00" stroke="#444" stroke-width="0.5"/>
<line x1="417.91" y1="350.80" x2="417.91" y2="352.00" stroke="#444" stroke-width="0.5"/>
<line x1="419.68" y1="350.80" x2="419.68" y2="352.00" stroke="#444" stroke-width="0.5"/>
<line x1="421.45" y1="350.80" x2="421.45" y2="352.00" stroke="#444" stroke-width="0.5"/>
<line x1="423.22" y1="350.80" x2="423.22" y2="352.00" stroke="#444" stroke-width="0.5"/>
<line x1="424.98" y1="350.80" x2="424.98" y2="352.00" stroke="#444" stroke-width="0.5"/>
<line x1="426.75" y1="350.80" x2="426.75" y2="352.00" stroke="#444" stroke-width="0.5"/>
<line x1="428.52" y1="350.80" x2="428.52" y2="352.00" stroke="#444" stroke-width="0.5"/>
<line x1="430.29" y1="350.80" x2="430.29" y2="352.00" stroke="#444" stroke-width="0.5"/>
<line x1="432.06" y1="350.80" x2="432.06" y2="352.00" stroke="#444" stroke-width="0.5"/>
<line x1="433.83" y1="350.80" x2="433.83" y2="352.00" stroke="#444" stroke-width="0.5"/>
<line x1="435.60" y1="350.80" x2="435.60" y2="352.00" stroke="#444" stroke-width="0.5"/>
<line x1="437.37" y1="350.80" x2="437.37" y2="352.00" stroke="#444" stroke-width="0.5"/>
<line x1="439.14" y1="350.80" x2="439.14" y2="352.00" stroke="#444" stroke-width="0.5"/>
<line x1="440.91" y1="350.80" x2="440.91" y2="352.00" stroke="#444" stroke-width="0.5"/>
<line x1="442.68" y1="350.80" x2="442.68" y2="352.00" stroke="#444" stroke-width="0.5"/>
<line x1="444.45" y1="350.80" x2="444.45" y2="352.00" stroke="#444" stroke-width="0.5"/>
<line x1="446.22" y1="350.80" x2="446.22" y2="352.00" stroke="#444" stroke-width="0.5"/>
<line x1="447.98" y1="350.80" x2="447.98" y2="352.00" stroke="#444" stroke-width="0.5"/>
<line x1="449.75" y1="350.80" x2="449.75" y2="352.00" stroke="#444" stroke-width="0.5"/>
<line x1="451.52" y1="350.80" x2="451.52" y2="352.00" stroke="#444" stroke-width="0.5"/>
<line x1="453.29" y1="350.80" x2="453.29" y2="352.00" stroke="#444" stroke-width="0.5"/>
<line x1="455.06" y1="350.80" x2="455.06" y2="352.00" stroke="#444" stroke-width="0.5"/>
<line x1="456.83" y1="350.80" x2="456.83" y2="352.00" stroke="#444" stroke-width="0.5"/>
<line x1="458.60" y1="350.80" x2="458.60" y2="352.00" stroke="#444" stroke-width="0.5"/>
<line x1="387.40" y1="285.20" x2="388.60" y2="285.20" stroke="#333" stroke-width="0.6"/>
<text x="386.20" y="285.80" font-size="4.6" fill="#333" text-anchor="middle" transform="rotate(-90 386.20 285.80)">10<tspan font-size="3.45" dy="-1.84">5</tspan></text>
<line x1="387.40" y1="301.60" x2="388.60" y2="301.60" stroke="#333" stroke-width="0.6"/>
<text x="386.20" y="302.20" font-size="4.6" fill="#333" text-anchor="middle" transform="rotate(-90 386.20 302.20)">10<tspan font-size="3.45" dy="-1.84">4</tspan></text>
<line x1="387.40" y1="318.40" x2="388.60" y2="318.40" stroke="#333" stroke-width="0.6"/>
<text x="386.20" y="319.00" font-size="4.6" fill="#333" text-anchor="middle" transform="rotate(-90 386.20 319.00)">10<tspan font-size="3.45" dy="-1.84">3</tspan></text>
<line x1="387.40" y1="334.30" x2="388.60" y2="334.30" stroke="#333" stroke-width="0.6"/>
<text x="386.20" y="334.90" font-size="4.6" fill="#333" text-anchor="middle" transform="rotate(-90 386.20 334.90)">10<tspan font-size="3.45" dy="-1.84">2</tspan></text>
<line x1="387.40" y1="341.90" x2="388.60" y2="341.90" stroke="#333" stroke-width="0.6"/>
<text x="386.00" y="341.90" font-size="5" text-anchor="middle" fill="#333" transform="rotate(-90 386.00 341.90)">0</text>
<text x="396.80" y="358.40" font-size="5" text-anchor="middle" fill="#444">0</text>
<text x="403.20" y="358.40" font-size="4.5" fill="#444" text-anchor="middle">10<tspan font-size="3.38" dy="-1.80">2</tspan></text>
<text x="420.50" y="358.40" font-size="4.5" fill="#444" text-anchor="middle">10<tspan font-size="3.38" dy="-1.80">3</tspan></text>
<text x="436.80" y="358.40" font-size="4.5" fill="#444" text-anchor="middle">10<tspan font-size="3.38" dy="-1.80">4</tspan></text>
<text x="452.80" y="358.40" font-size="4.5" fill="#444" text-anchor="middle">10<tspan font-size="3.38" dy="-1.80">5</tspan></text>
<text x="391.50" y="288.00" font-size="8" text-anchor="start" font-weight="bold" fill="#111">Q1</text>
<text x="458.00" y="288.00" font-size="8" text-anchor="end" font-weight="bold" fill="#111">Q2</text>
<text x="391.50" y="347.30" font-size="8" text-anchor="start" font-weight="bold" fill="#111">Q3</text>
<text x="458.00" y="347.30" font-size="8" text-anchor="end" font-weight="bold" fill="#111">Q4</text>
<text x="278.60" y="309.90" font-size="9.2" text-anchor="middle" fill="#111" transform="rotate(-90 278.60 309.90)">CD9 PE</text>
<text x="377.60" y="309.90" font-size="9.2" text-anchor="middle" fill="#111" transform="rotate(-90 377.60 309.90)">CD9 PE</text>
<text x="329.90" y="369.30" font-size="9.2" text-anchor="middle" fill="#111">CD9 APC</text>
<text x="429.00" y="369.30" font-size="9.2" text-anchor="middle" fill="#111">CD9 APC</text>
<rect x="288.3" y="375.40" width="5.8" height="5.8" fill="#d8202a"/>
<text x="296.30" y="381.10" font-size="7.8" text-anchor="start" fill="#222">Q1: CD9-PE labeled PLTs</text>
<rect x="288.3" y="384.40" width="5.8" height="5.8" fill="#3f6db5"/>
<text x="296.30" y="390.10" font-size="7.8" text-anchor="start" fill="#222">Q2: Aggregates (double-color)</text>
<rect x="288.3" y="393.40" width="5.8" height="5.8" fill="#a09a9a"/>
<text x="296.30" y="399.10" font-size="7.8" text-anchor="start" fill="#222">Q3: Plasma (unstained)</text>
<rect x="288.3" y="402.40" width="5.8" height="5.8" fill="#b070c0"/>
<text x="296.30" y="408.10" font-size="7.8" text-anchor="start" fill="#222">Q4: CD9-APC labeled PLTs</text>
</svg>
</body></html>
